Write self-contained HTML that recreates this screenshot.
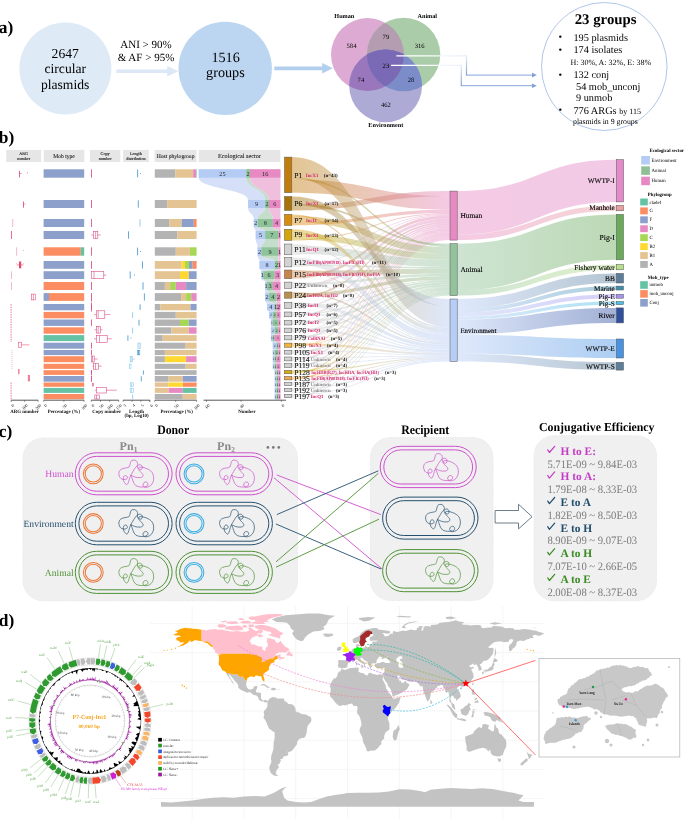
<!DOCTYPE html>
<html><head><meta charset="utf-8"><title>Figure</title>
<style>html,body{margin:0;padding:0;background:#fff;} svg{display:block;}</style></head>
<body><svg width="685" height="819" viewBox="0 0 685 819" text-rendering="geometricPrecision">
<rect width="685" height="819" fill="#fff"/>
<text x="-1.20" y="33.10" font-size="17.4" fill="#000" text-anchor="start" font-weight="bold" font-family="'Liberation Serif', 'Times New Roman', serif" >a)</text>
<circle cx="65.4" cy="68.5" r="46" fill="#dfeaf7"/>
<text x="65.20" y="57.50" font-size="13.6" fill="#000" text-anchor="middle" font-weight="normal" font-family="'Liberation Serif', 'Times New Roman', serif" >2647</text>
<text x="65.30" y="73.30" font-size="13.6" fill="#000" text-anchor="middle" font-weight="normal" font-family="'Liberation Serif', 'Times New Roman', serif" >circular</text>
<text x="65.10" y="88.60" font-size="13.6" fill="#000" text-anchor="middle" font-weight="normal" font-family="'Liberation Serif', 'Times New Roman', serif" >plasmids</text>
<path d="M116.4 69.6 L167.2 69.6 L167.2 66.1 L178.3 71.35 L167.2 76.6 L167.2 73.1 L116.4 73.1 Z" fill="#dce8f6"/>
<text x="146.00" y="48.20" font-size="11" fill="#000" text-anchor="middle" font-weight="normal" font-family="'Liberation Serif', 'Times New Roman', serif" >ANI &gt; 90%</text>
<text x="146.00" y="61.20" font-size="11" fill="#000" text-anchor="middle" font-weight="normal" font-family="'Liberation Serif', 'Times New Roman', serif" >&amp; AF &gt; 95%</text>
<circle cx="225.2" cy="68.4" r="46.7" fill="#bcd6f1"/>
<text x="225.60" y="61.50" font-size="14.2" fill="#000" text-anchor="middle" font-weight="normal" font-family="'Liberation Serif', 'Times New Roman', serif" >1516</text>
<text x="225.40" y="76.90" font-size="14.2" fill="#000" text-anchor="middle" font-weight="normal" font-family="'Liberation Serif', 'Times New Roman', serif" >groups</text>
<path d="M274.3 66.4 L322.2 66.4 L322.2 62.9 L332.8 68.2 L322.2 73.5 L322.2 70.2 L274.3 70.2 Z" fill="#b3cfee"/>
<defs><clipPath id="cH"><circle cx="367.5" cy="54.6" r="36.5"/></clipPath><clipPath id="cA"><circle cx="403.6" cy="54.5" r="36.7"/></clipPath></defs>
<circle cx="367.5" cy="54.6" r="36.5" fill="#dcaad2"/>
<circle cx="403.6" cy="54.5" r="36.7" fill="#abcca9"/>
<circle cx="385.6" cy="85.8" r="36.4" fill="#aeaad6"/>
<circle cx="403.6" cy="54.5" r="36.7" fill="#b49db0" clip-path="url(#cH)"/>
<circle cx="385.6" cy="85.8" r="36.4" fill="#9a77bd" clip-path="url(#cH)"/>
<circle cx="385.6" cy="85.8" r="36.4" fill="#7b8cc8" clip-path="url(#cA)"/>
<g clip-path="url(#cH)"><circle cx="385.6" cy="85.8" r="36.4" fill="#7a6ab5" clip-path="url(#cA)"/></g>
<text x="344.30" y="17.80" font-size="6.2" fill="#000" text-anchor="middle" font-weight="bold" font-family="'Liberation Serif', 'Times New Roman', serif" >Human</text>
<text x="427.30" y="17.80" font-size="6.2" fill="#000" text-anchor="middle" font-weight="bold" font-family="'Liberation Serif', 'Times New Roman', serif" >Animal</text>
<text x="385.80" y="127.30" font-size="6.2" fill="#000" text-anchor="middle" font-weight="bold" font-family="'Liberation Serif', 'Times New Roman', serif" >Environment</text>
<text x="351.50" y="47.80" font-size="6.6" fill="#000" text-anchor="middle" font-weight="normal" font-family="'Liberation Serif', 'Times New Roman', serif" >584</text>
<text x="385.90" y="38.60" font-size="6.6" fill="#000" text-anchor="middle" font-weight="normal" font-family="'Liberation Serif', 'Times New Roman', serif" >79</text>
<text x="419.70" y="47.80" font-size="6.6" fill="#000" text-anchor="middle" font-weight="normal" font-family="'Liberation Serif', 'Times New Roman', serif" >316</text>
<text x="385.90" y="67.50" font-size="6.6" fill="#000" text-anchor="middle" font-weight="normal" font-family="'Liberation Serif', 'Times New Roman', serif" >23</text>
<text x="360.90" y="81.80" font-size="6.6" fill="#000" text-anchor="middle" font-weight="normal" font-family="'Liberation Serif', 'Times New Roman', serif" >74</text>
<text x="411.00" y="81.80" font-size="6.6" fill="#000" text-anchor="middle" font-weight="normal" font-family="'Liberation Serif', 'Times New Roman', serif" >28</text>
<text x="385.90" y="106.80" font-size="6.6" fill="#000" text-anchor="middle" font-weight="normal" font-family="'Liberation Serif', 'Times New Roman', serif" >462</text>
<defs><linearGradient id="lgh" gradientUnits="userSpaceOnUse" x1="420" y1="0" x2="466" y2="0"><stop offset="0" stop-color="#ffffff"/><stop offset="1" stop-color="#e6edf8"/></linearGradient><linearGradient id="lgv1" gradientUnits="userSpaceOnUse" x1="0" y1="56" x2="0" y2="75"><stop offset="0" stop-color="#e6edf8"/><stop offset="1" stop-color="#7f9fd6"/></linearGradient><linearGradient id="lgv2" gradientUnits="userSpaceOnUse" x1="0" y1="65" x2="0" y2="86"><stop offset="0" stop-color="#e6edf8"/><stop offset="1" stop-color="#7f9fd6"/></linearGradient></defs>
<path d="M396.3 55.9 L466.5 55.9" stroke="url(#lgh)" stroke-width="1.2" fill="none"/>
<path d="M391.1 65.4 L461.3 65.4" stroke="url(#lgh)" stroke-width="1.2" fill="none"/>
<path d="M466.5 55.3 L466.5 75.1" stroke="url(#lgv1)" stroke-width="1.2" fill="none"/>
<path d="M461.3 64.8 L461.3 85.7" stroke="url(#lgv2)" stroke-width="1.2" fill="none"/>
<path d="M465.9 75.1 L533 75.1" stroke="#86a5da" stroke-width="1" fill="none"/>
<path d="M460.7 85.7 L533 85.7" stroke="#86a5da" stroke-width="1" fill="none"/>
<path d="M536.8 75.1 L532 72.8 L532 77.4 Z" fill="#7f9fd6"/>
<path d="M536.8 85.7 L532 83.4 L532 88 Z" fill="#7f9fd6"/>
<ellipse cx="604.3" cy="66.5" rx="62.8" ry="64" fill="#fff" stroke="#a6bfe6" stroke-width="0.9"/>
<text x="605.60" y="24.20" font-size="14.8" fill="#000" text-anchor="middle" font-weight="bold" font-family="'Liberation Serif', 'Times New Roman', serif" >23 groups</text>
<text x="558.60" y="40.00" font-size="10.2" fill="#000" text-anchor="start" font-weight="normal" font-family="'Liberation Serif', 'Times New Roman', serif" >•</text>
<text x="573.40" y="40.80" font-size="10.3" fill="#000" text-anchor="start" font-weight="normal" font-family="'Liberation Serif', 'Times New Roman', serif" >195 plasmids</text>
<text x="558.60" y="52.60" font-size="10.2" fill="#000" text-anchor="start" font-weight="normal" font-family="'Liberation Serif', 'Times New Roman', serif" >•</text>
<text x="573.40" y="53.40" font-size="10.3" fill="#000" text-anchor="start" font-weight="normal" font-family="'Liberation Serif', 'Times New Roman', serif" >174 isolates</text>
<text x="558.60" y="77.60" font-size="10.2" fill="#000" text-anchor="start" font-weight="normal" font-family="'Liberation Serif', 'Times New Roman', serif" >•</text>
<text x="573.40" y="78.40" font-size="10.3" fill="#000" text-anchor="start" font-weight="normal" font-family="'Liberation Serif', 'Times New Roman', serif" >132 conj</text>
<text x="558.60" y="113.00" font-size="10.2" fill="#000" text-anchor="start" font-weight="normal" font-family="'Liberation Serif', 'Times New Roman', serif" >•</text>
<text x="573.40" y="113.80" font-size="10.3" fill="#000" text-anchor="start" font-weight="normal" font-family="'Liberation Serif', 'Times New Roman', serif" >776 ARGs <tspan font-size="8">by 115</tspan></text>
<text x="570.40" y="64.90" font-size="8.0" fill="#000" text-anchor="start" font-weight="normal" font-family="'Liberation Serif', 'Times New Roman', serif" >H: 30%, A: 32%, E: 38%</text>
<text x="576.00" y="89.60" font-size="10.3" fill="#000" text-anchor="start" font-weight="normal" font-family="'Liberation Serif', 'Times New Roman', serif" >54 mob_unconj</text>
<text x="576.00" y="101.10" font-size="10.3" fill="#000" text-anchor="start" font-weight="normal" font-family="'Liberation Serif', 'Times New Roman', serif" >9 unmob</text>
<text x="573.00" y="123.60" font-size="7.8" fill="#000" text-anchor="start" font-weight="normal" font-family="'Liberation Serif', 'Times New Roman', serif" >plasmids in 9 groups</text>
<text x="-1.20" y="436.60" font-size="17.4" fill="#000" text-anchor="start" font-weight="bold" font-family="'Liberation Serif', 'Times New Roman', serif" >c)</text>
<text x="173.20" y="434.00" font-size="13" fill="#000" text-anchor="middle" font-weight="bold" font-family="'Liberation Serif', 'Times New Roman', serif"  textLength="32.1" lengthAdjust="spacingAndGlyphs">Donor</text>
<text x="425.20" y="434.30" font-size="13" fill="#000" text-anchor="middle" font-weight="bold" font-family="'Liberation Serif', 'Times New Roman', serif"  textLength="48" lengthAdjust="spacingAndGlyphs">Recipient</text>
<text x="596.80" y="431.30" font-size="12.2" fill="#000" text-anchor="middle" font-weight="bold" font-family="'Liberation Serif', 'Times New Roman', serif"  textLength="115.5" lengthAdjust="spacingAndGlyphs">Conjugative Efficiency</text>
<rect x="23" y="437.9" width="274.6" height="162.9" rx="20" fill="#f0f0f0" stroke="#e2e2e2" stroke-width="0.8" stroke-dasharray="1.2 1.2"/>
<rect x="370.4" y="437.5" width="122.6" height="162.9" rx="20" fill="#f0f0f0" stroke="#e2e2e2" stroke-width="0.8" stroke-dasharray="1.2 1.2"/>
<rect x="534.1" y="435.7" width="122.4" height="165.1" rx="20" fill="#f0f0f0" stroke="#e2e2e2" stroke-width="0.8" stroke-dasharray="1.2 1.2"/>
<text x="128.50" y="449.50" font-size="12" fill="#8a8a8a" text-anchor="middle" font-weight="bold" font-family="'Liberation Serif', 'Times New Roman', serif" >Pn<tspan font-size="7.5" dy="2.5">1</tspan></text>
<text x="226.00" y="449.50" font-size="12" fill="#8a8a8a" text-anchor="middle" font-weight="bold" font-family="'Liberation Serif', 'Times New Roman', serif" >Pn<tspan font-size="7.5" dy="2.5">2</tspan></text>
<circle cx="267.9" cy="447.4" r="1.35" fill="#7a7a7a"/>
<circle cx="273.3" cy="447.4" r="1.35" fill="#7a7a7a"/>
<circle cx="278.8" cy="447.4" r="1.35" fill="#7a7a7a"/>
<rect x="75.3" y="452.8" width="96.8" height="42.0" rx="21.0" fill="none" stroke="#cf4fcf" stroke-width="1"/>
<rect x="78.89999999999999" y="456.40000000000003" width="89.6" height="34.8" rx="17.4" fill="none" stroke="#cf4fcf" stroke-width="1"/>
<circle cx="93.3" cy="473.8" r="9.9" fill="none" stroke="#ec7a3c" stroke-width="1.05"/>
<circle cx="93.3" cy="473.8" r="8.1" fill="none" stroke="#ec7a3c" stroke-width="1.05"/>
<path d="M13 16 C16 11, 18 7, 20 6.5 C22 4.5, 25 6, 24.5 9 C24 11.5, 20.5 11, 21 8.5 C22 7, 30 9, 33 12 C37 15, 37 24, 32 27 C28 29.5, 24 28, 25.5 24.5 C27 21.5, 31 23, 30 26 C29 28.5, 21 28.5, 18 26.5 C15 24, 15 20, 13 16 C11 20, 11 25, 9 25.5 C7 25, 4.5 21, 6 17.5 C7 15.5, 10 16.5, 9.5 19 C9 21, 4 21, 2.4 18.7 C0 15, 1 11, 4 9.9 C7 8.5, 10 9, 11.3 7.9 C13 5, 12 1.2, 15.3 1 C18.5 0.8, 20.5 3, 19.6 6.5 C19 9, 22 12, 24 14 C26 16, 26 18, 22.5 18.5 C18 19, 15 17, 13 16 Z" transform="translate(117.8,459.1)" fill="none" stroke="#cf4fcf" stroke-width="0.7" stroke-linejoin="round"/>
<rect x="176" y="452.8" width="96.39999999999998" height="42.0" rx="21.0" fill="none" stroke="#cf4fcf" stroke-width="1"/>
<rect x="179.6" y="456.40000000000003" width="89.19999999999997" height="34.8" rx="17.4" fill="none" stroke="#cf4fcf" stroke-width="1"/>
<circle cx="194" cy="473.8" r="9.9" fill="none" stroke="#3eaee4" stroke-width="1.05"/>
<circle cx="194" cy="473.8" r="8.1" fill="none" stroke="#3eaee4" stroke-width="1.05"/>
<path d="M13 16 C16 11, 18 7, 20 6.5 C22 4.5, 25 6, 24.5 9 C24 11.5, 20.5 11, 21 8.5 C22 7, 30 9, 33 12 C37 15, 37 24, 32 27 C28 29.5, 24 28, 25.5 24.5 C27 21.5, 31 23, 30 26 C29 28.5, 21 28.5, 18 26.5 C15 24, 15 20, 13 16 C11 20, 11 25, 9 25.5 C7 25, 4.5 21, 6 17.5 C7 15.5, 10 16.5, 9.5 19 C9 21, 4 21, 2.4 18.7 C0 15, 1 11, 4 9.9 C7 8.5, 10 9, 11.3 7.9 C13 5, 12 1.2, 15.3 1 C18.5 0.8, 20.5 3, 19.6 6.5 C19 9, 22 12, 24 14 C26 16, 26 18, 22.5 18.5 C18 19, 15 17, 13 16 Z" transform="translate(218.5,459.1)" fill="none" stroke="#cf4fcf" stroke-width="0.7" stroke-linejoin="round"/>
<text x="73.60" y="477.10" font-size="9.6" fill="#cf4fcf" text-anchor="end" font-weight="normal" font-family="'Liberation Serif', 'Times New Roman', serif" >Human</text>
<rect x="75.3" y="502.3" width="96.8" height="42.49999999999994" rx="21.24999999999997" fill="none" stroke="#25506f" stroke-width="1"/>
<rect x="78.89999999999999" y="505.90000000000003" width="89.6" height="35.29999999999994" rx="17.64999999999997" fill="none" stroke="#25506f" stroke-width="1"/>
<circle cx="93.3" cy="523.55" r="9.9" fill="none" stroke="#ec7a3c" stroke-width="1.05"/>
<circle cx="93.3" cy="523.55" r="8.1" fill="none" stroke="#ec7a3c" stroke-width="1.05"/>
<path d="M13 16 C16 11, 18 7, 20 6.5 C22 4.5, 25 6, 24.5 9 C24 11.5, 20.5 11, 21 8.5 C22 7, 30 9, 33 12 C37 15, 37 24, 32 27 C28 29.5, 24 28, 25.5 24.5 C27 21.5, 31 23, 30 26 C29 28.5, 21 28.5, 18 26.5 C15 24, 15 20, 13 16 C11 20, 11 25, 9 25.5 C7 25, 4.5 21, 6 17.5 C7 15.5, 10 16.5, 9.5 19 C9 21, 4 21, 2.4 18.7 C0 15, 1 11, 4 9.9 C7 8.5, 10 9, 11.3 7.9 C13 5, 12 1.2, 15.3 1 C18.5 0.8, 20.5 3, 19.6 6.5 C19 9, 22 12, 24 14 C26 16, 26 18, 22.5 18.5 C18 19, 15 17, 13 16 Z" transform="translate(117.8,508.6)" fill="none" stroke="#25506f" stroke-width="0.7" stroke-linejoin="round"/>
<rect x="176" y="502.3" width="96.39999999999998" height="42.49999999999994" rx="21.24999999999997" fill="none" stroke="#25506f" stroke-width="1"/>
<rect x="179.6" y="505.90000000000003" width="89.19999999999997" height="35.29999999999994" rx="17.64999999999997" fill="none" stroke="#25506f" stroke-width="1"/>
<circle cx="194" cy="523.55" r="9.9" fill="none" stroke="#3eaee4" stroke-width="1.05"/>
<circle cx="194" cy="523.55" r="8.1" fill="none" stroke="#3eaee4" stroke-width="1.05"/>
<path d="M13 16 C16 11, 18 7, 20 6.5 C22 4.5, 25 6, 24.5 9 C24 11.5, 20.5 11, 21 8.5 C22 7, 30 9, 33 12 C37 15, 37 24, 32 27 C28 29.5, 24 28, 25.5 24.5 C27 21.5, 31 23, 30 26 C29 28.5, 21 28.5, 18 26.5 C15 24, 15 20, 13 16 C11 20, 11 25, 9 25.5 C7 25, 4.5 21, 6 17.5 C7 15.5, 10 16.5, 9.5 19 C9 21, 4 21, 2.4 18.7 C0 15, 1 11, 4 9.9 C7 8.5, 10 9, 11.3 7.9 C13 5, 12 1.2, 15.3 1 C18.5 0.8, 20.5 3, 19.6 6.5 C19 9, 22 12, 24 14 C26 16, 26 18, 22.5 18.5 C18 19, 15 17, 13 16 Z" transform="translate(218.5,508.6)" fill="none" stroke="#25506f" stroke-width="0.7" stroke-linejoin="round"/>
<text x="73.60" y="526.85" font-size="9.6" fill="#25506f" text-anchor="end" font-weight="normal" font-family="'Liberation Serif', 'Times New Roman', serif" >Environment</text>
<rect x="75.3" y="551.3" width="96.8" height="42.10000000000002" rx="21.05000000000001" fill="none" stroke="#4e9236" stroke-width="1"/>
<rect x="78.89999999999999" y="554.9" width="89.6" height="34.90000000000002" rx="17.45000000000001" fill="none" stroke="#4e9236" stroke-width="1"/>
<circle cx="93.3" cy="572.3499999999999" r="9.9" fill="none" stroke="#ec7a3c" stroke-width="1.05"/>
<circle cx="93.3" cy="572.3499999999999" r="8.1" fill="none" stroke="#ec7a3c" stroke-width="1.05"/>
<path d="M13 16 C16 11, 18 7, 20 6.5 C22 4.5, 25 6, 24.5 9 C24 11.5, 20.5 11, 21 8.5 C22 7, 30 9, 33 12 C37 15, 37 24, 32 27 C28 29.5, 24 28, 25.5 24.5 C27 21.5, 31 23, 30 26 C29 28.5, 21 28.5, 18 26.5 C15 24, 15 20, 13 16 C11 20, 11 25, 9 25.5 C7 25, 4.5 21, 6 17.5 C7 15.5, 10 16.5, 9.5 19 C9 21, 4 21, 2.4 18.7 C0 15, 1 11, 4 9.9 C7 8.5, 10 9, 11.3 7.9 C13 5, 12 1.2, 15.3 1 C18.5 0.8, 20.5 3, 19.6 6.5 C19 9, 22 12, 24 14 C26 16, 26 18, 22.5 18.5 C18 19, 15 17, 13 16 Z" transform="translate(117.8,557.5999999999999)" fill="none" stroke="#4e9236" stroke-width="0.7" stroke-linejoin="round"/>
<rect x="176" y="551.3" width="96.39999999999998" height="42.10000000000002" rx="21.05000000000001" fill="none" stroke="#4e9236" stroke-width="1"/>
<rect x="179.6" y="554.9" width="89.19999999999997" height="34.90000000000002" rx="17.45000000000001" fill="none" stroke="#4e9236" stroke-width="1"/>
<circle cx="194" cy="572.3499999999999" r="9.9" fill="none" stroke="#3eaee4" stroke-width="1.05"/>
<circle cx="194" cy="572.3499999999999" r="8.1" fill="none" stroke="#3eaee4" stroke-width="1.05"/>
<path d="M13 16 C16 11, 18 7, 20 6.5 C22 4.5, 25 6, 24.5 9 C24 11.5, 20.5 11, 21 8.5 C22 7, 30 9, 33 12 C37 15, 37 24, 32 27 C28 29.5, 24 28, 25.5 24.5 C27 21.5, 31 23, 30 26 C29 28.5, 21 28.5, 18 26.5 C15 24, 15 20, 13 16 C11 20, 11 25, 9 25.5 C7 25, 4.5 21, 6 17.5 C7 15.5, 10 16.5, 9.5 19 C9 21, 4 21, 2.4 18.7 C0 15, 1 11, 4 9.9 C7 8.5, 10 9, 11.3 7.9 C13 5, 12 1.2, 15.3 1 C18.5 0.8, 20.5 3, 19.6 6.5 C19 9, 22 12, 24 14 C26 16, 26 18, 22.5 18.5 C18 19, 15 17, 13 16 Z" transform="translate(218.5,557.5999999999999)" fill="none" stroke="#4e9236" stroke-width="0.7" stroke-linejoin="round"/>
<text x="73.60" y="575.65" font-size="9.6" fill="#4e9236" text-anchor="end" font-weight="normal" font-family="'Liberation Serif', 'Times New Roman', serif" >Animal</text>
<rect x="380.2" y="446.3" width="96.0" height="41.30000000000001" rx="20.650000000000006" fill="none" stroke="#cf4fcf" stroke-width="1"/>
<rect x="383.8" y="449.90000000000003" width="88.8" height="34.10000000000001" rx="17.050000000000004" fill="none" stroke="#cf4fcf" stroke-width="1"/>
<path d="M13 16 C16 11, 18 7, 20 6.5 C22 4.5, 25 6, 24.5 9 C24 11.5, 20.5 11, 21 8.5 C22 7, 30 9, 33 12 C37 15, 37 24, 32 27 C28 29.5, 24 28, 25.5 24.5 C27 21.5, 31 23, 30 26 C29 28.5, 21 28.5, 18 26.5 C15 24, 15 20, 13 16 C11 20, 11 25, 9 25.5 C7 25, 4.5 21, 6 17.5 C7 15.5, 10 16.5, 9.5 19 C9 21, 4 21, 2.4 18.7 C0 15, 1 11, 4 9.9 C7 8.5, 10 9, 11.3 7.9 C13 5, 12 1.2, 15.3 1 C18.5 0.8, 20.5 3, 19.6 6.5 C19 9, 22 12, 24 14 C26 16, 26 18, 22.5 18.5 C18 19, 15 17, 13 16 Z" transform="translate(422.5,452.6)" fill="none" stroke="#cf4fcf" stroke-width="0.7" stroke-linejoin="round"/>
<rect x="382.6" y="497.1" width="95.39999999999998" height="42.0" rx="21.0" fill="none" stroke="#25506f" stroke-width="1"/>
<rect x="386.20000000000005" y="500.70000000000005" width="88.19999999999997" height="34.8" rx="17.4" fill="none" stroke="#25506f" stroke-width="1"/>
<path d="M13 16 C16 11, 18 7, 20 6.5 C22 4.5, 25 6, 24.5 9 C24 11.5, 20.5 11, 21 8.5 C22 7, 30 9, 33 12 C37 15, 37 24, 32 27 C28 29.5, 24 28, 25.5 24.5 C27 21.5, 31 23, 30 26 C29 28.5, 21 28.5, 18 26.5 C15 24, 15 20, 13 16 C11 20, 11 25, 9 25.5 C7 25, 4.5 21, 6 17.5 C7 15.5, 10 16.5, 9.5 19 C9 21, 4 21, 2.4 18.7 C0 15, 1 11, 4 9.9 C7 8.5, 10 9, 11.3 7.9 C13 5, 12 1.2, 15.3 1 C18.5 0.8, 20.5 3, 19.6 6.5 C19 9, 22 12, 24 14 C26 16, 26 18, 22.5 18.5 C18 19, 15 17, 13 16 Z" transform="translate(424.5,503.40000000000003)" fill="none" stroke="#25506f" stroke-width="0.7" stroke-linejoin="round"/>
<rect x="382.6" y="549.6" width="95.39999999999998" height="42.10000000000002" rx="21.05000000000001" fill="none" stroke="#4e9236" stroke-width="1"/>
<rect x="386.20000000000005" y="553.2" width="88.19999999999997" height="34.90000000000002" rx="17.45000000000001" fill="none" stroke="#4e9236" stroke-width="1"/>
<path d="M13 16 C16 11, 18 7, 20 6.5 C22 4.5, 25 6, 24.5 9 C24 11.5, 20.5 11, 21 8.5 C22 7, 30 9, 33 12 C37 15, 37 24, 32 27 C28 29.5, 24 28, 25.5 24.5 C27 21.5, 31 23, 30 26 C29 28.5, 21 28.5, 18 26.5 C15 24, 15 20, 13 16 C11 20, 11 25, 9 25.5 C7 25, 4.5 21, 6 17.5 C7 15.5, 10 16.5, 9.5 19 C9 21, 4 21, 2.4 18.7 C0 15, 1 11, 4 9.9 C7 8.5, 10 9, 11.3 7.9 C13 5, 12 1.2, 15.3 1 C18.5 0.8, 20.5 3, 19.6 6.5 C19 9, 22 12, 24 14 C26 16, 26 18, 22.5 18.5 C18 19, 15 17, 13 16 Z" transform="translate(424.5,555.9)" fill="none" stroke="#4e9236" stroke-width="0.7" stroke-linejoin="round"/>
<line x1="276.8" y1="475" x2="380.9" y2="514.6" stroke="#cf4fcf" stroke-width="0.9"/>
<line x1="274" y1="477.8" x2="382" y2="568.9" stroke="#cf4fcf" stroke-width="0.9"/>
<line x1="276.8" y1="514.6" x2="378.4" y2="470.8" stroke="#25506f" stroke-width="0.9"/>
<line x1="276" y1="524" x2="381" y2="569" stroke="#25506f" stroke-width="0.9"/>
<line x1="276" y1="561.9" x2="378.4" y2="473.3" stroke="#4e9236" stroke-width="0.9"/>
<line x1="276" y1="567.2" x2="379" y2="519.2" stroke="#4e9236" stroke-width="0.9"/>
<path d="M495.1 510.5 L518.5 510.5 L518.5 504.3 L532.1 516.7 L518.5 528.9 L518.5 523 L495.1 523 Z" fill="#fff" stroke="#5f6f7e" stroke-width="0.9"/>
<path d="M547.7 449.90 L549.4 452.50 L554.7 446.30" fill="none" stroke="#c43cc4" stroke-width="1.2" stroke-linecap="round" stroke-linejoin="round"/>
<text x="560.50" y="454.70" font-size="11.4" fill="#c43cc4" text-anchor="start" font-weight="bold" font-family="'Liberation Serif', 'Times New Roman', serif" >H to E:</text>
<text x="547.40" y="467.50" font-size="11.3" fill="#7a7a7a" text-anchor="start" font-weight="normal" font-family="'Liberation Serif', 'Times New Roman', serif"  textLength="89.7" lengthAdjust="spacingAndGlyphs">5.71E-09 ~ 9.84E-03</text>
<path d="M547.7 475.50 L549.4 478.10 L554.7 471.90" fill="none" stroke="#c43cc4" stroke-width="1.2" stroke-linecap="round" stroke-linejoin="round"/>
<text x="560.50" y="480.30" font-size="11.4" fill="#c43cc4" text-anchor="start" font-weight="bold" font-family="'Liberation Serif', 'Times New Roman', serif" >H to A:</text>
<text x="547.40" y="493.10" font-size="11.3" fill="#7a7a7a" text-anchor="start" font-weight="normal" font-family="'Liberation Serif', 'Times New Roman', serif"  textLength="89.7" lengthAdjust="spacingAndGlyphs">1.79E-08 ~ 8.33E-03</text>
<path d="M547.7 501.10 L549.4 503.70 L554.7 497.50" fill="none" stroke="#1f4d6b" stroke-width="1.2" stroke-linecap="round" stroke-linejoin="round"/>
<text x="560.50" y="505.90" font-size="11.4" fill="#1f4d6b" text-anchor="start" font-weight="bold" font-family="'Liberation Serif', 'Times New Roman', serif" >E to A</text>
<text x="547.40" y="518.70" font-size="11.3" fill="#7a7a7a" text-anchor="start" font-weight="normal" font-family="'Liberation Serif', 'Times New Roman', serif"  textLength="89.7" lengthAdjust="spacingAndGlyphs">1.82E-09 ~ 8.50E-03</text>
<path d="M547.7 526.70 L549.4 529.30 L554.7 523.10" fill="none" stroke="#1f4d6b" stroke-width="1.2" stroke-linecap="round" stroke-linejoin="round"/>
<text x="560.50" y="531.50" font-size="11.4" fill="#1f4d6b" text-anchor="start" font-weight="bold" font-family="'Liberation Serif', 'Times New Roman', serif" >E to H</text>
<text x="547.40" y="544.30" font-size="11.3" fill="#7a7a7a" text-anchor="start" font-weight="normal" font-family="'Liberation Serif', 'Times New Roman', serif"  textLength="89.7" lengthAdjust="spacingAndGlyphs">8.90E-09 ~ 9.07E-03</text>
<path d="M547.7 552.30 L549.4 554.90 L554.7 548.70" fill="none" stroke="#3b8a25" stroke-width="1.2" stroke-linecap="round" stroke-linejoin="round"/>
<text x="560.50" y="557.10" font-size="11.4" fill="#3b8a25" text-anchor="start" font-weight="bold" font-family="'Liberation Serif', 'Times New Roman', serif" >A to H</text>
<text x="547.40" y="569.90" font-size="11.3" fill="#7a7a7a" text-anchor="start" font-weight="normal" font-family="'Liberation Serif', 'Times New Roman', serif"  textLength="89.7" lengthAdjust="spacingAndGlyphs">7.07E-10 ~ 2.66E-05</text>
<path d="M547.7 577.90 L549.4 580.50 L554.7 574.30" fill="none" stroke="#3b8a25" stroke-width="1.2" stroke-linecap="round" stroke-linejoin="round"/>
<text x="560.50" y="582.70" font-size="11.4" fill="#3b8a25" text-anchor="start" font-weight="bold" font-family="'Liberation Serif', 'Times New Roman', serif" >A to E</text>
<text x="547.40" y="595.50" font-size="11.3" fill="#7a7a7a" text-anchor="start" font-weight="normal" font-family="'Liberation Serif', 'Times New Roman', serif"  textLength="89.7" lengthAdjust="spacingAndGlyphs">2.00E-08 ~ 8.37E-03</text>
<text x="-1.20" y="142.80" font-size="17.4" fill="#000" text-anchor="start" font-weight="bold" font-family="'Liberation Serif', 'Times New Roman', serif" >b)</text>
<rect x="6.3" y="149.9" width="34.8" height="12.1" fill="#e6e6e6"/>
<text x="23.70" y="155.40" font-size="4.2" fill="#222" text-anchor="middle" font-weight="normal" font-family="'Liberation Serif', 'Times New Roman', serif" stroke="#222" stroke-width="0.1">ARG</text>
<text x="23.70" y="160.20" font-size="4.2" fill="#222" text-anchor="middle" font-weight="normal" font-family="'Liberation Serif', 'Times New Roman', serif" stroke="#222" stroke-width="0.1">number</text>
<rect x="43.7" y="149.9" width="40.6" height="12.1" fill="#e6e6e6"/>
<text x="64.00" y="157.60" font-size="5.6" fill="#222" text-anchor="middle" font-weight="normal" font-family="'Liberation Serif', 'Times New Roman', serif" stroke="#222" stroke-width="0.1">Mob type</text>
<rect x="90" y="149.9" width="30.3" height="12.1" fill="#e6e6e6"/>
<text x="105.15" y="155.40" font-size="4.2" fill="#222" text-anchor="middle" font-weight="normal" font-family="'Liberation Serif', 'Times New Roman', serif" stroke="#222" stroke-width="0.1">Copy</text>
<text x="105.15" y="160.20" font-size="4.2" fill="#222" text-anchor="middle" font-weight="normal" font-family="'Liberation Serif', 'Times New Roman', serif" stroke="#222" stroke-width="0.1">number</text>
<rect x="123.1" y="149.9" width="25.7" height="12.1" fill="#e6e6e6"/>
<text x="135.95" y="155.40" font-size="4.2" fill="#222" text-anchor="middle" font-weight="normal" font-family="'Liberation Serif', 'Times New Roman', serif" stroke="#222" stroke-width="0.1">Length</text>
<text x="135.95" y="160.20" font-size="4.2" fill="#222" text-anchor="middle" font-weight="normal" font-family="'Liberation Serif', 'Times New Roman', serif" stroke="#222" stroke-width="0.1">distribution</text>
<rect x="154.6" y="149.9" width="42.0" height="12.1" fill="#e6e6e6"/>
<text x="175.60" y="157.60" font-size="5.6" fill="#222" text-anchor="middle" font-weight="normal" font-family="'Liberation Serif', 'Times New Roman', serif" stroke="#222" stroke-width="0.1">Host phylogroup</text>
<rect x="198.6" y="149.9" width="81.7" height="12.1" fill="#e6e6e6"/>
<text x="239.45" y="157.60" font-size="6.2" fill="#222" text-anchor="middle" font-weight="normal" font-family="'Liberation Serif', 'Times New Roman', serif" stroke="#222" stroke-width="0.1">Ecological sector</text>
<rect x="43.60" y="169.3" width="40.60" height="8.40" fill="#8da0cb"/>
<rect x="154.80" y="169.3" width="20.40" height="8.40" fill="#b3b3b3"/>
<rect x="175.20" y="169.3" width="17.90" height="8.40" fill="#e5c494"/>
<rect x="193.10" y="169.3" width="2.90" height="8.40" fill="#e78ac3"/>
<rect x="196.00" y="169.3" width="0.60" height="8.40" fill="#66c2a5"/>
<rect x="43.60" y="200" width="40.60" height="8.00" fill="#8da0cb"/>
<rect x="154.80" y="200" width="12.30" height="8.00" fill="#b3b3b3"/>
<rect x="167.10" y="200" width="29.50" height="8.00" fill="#e5c494"/>
<rect x="43.60" y="219" width="40.60" height="8.00" fill="#8da0cb"/>
<rect x="154.80" y="219" width="14.50" height="8.00" fill="#b3b3b3"/>
<rect x="169.30" y="219" width="12.40" height="8.00" fill="#e5c494"/>
<rect x="181.70" y="219" width="12.10" height="8.00" fill="#8da0cb"/>
<rect x="193.80" y="219" width="2.80" height="8.00" fill="#fc8d62"/>
<rect x="43.60" y="231" width="40.60" height="8.00" fill="#8da0cb"/>
<rect x="154.80" y="231" width="22.60" height="8.00" fill="#b3b3b3"/>
<rect x="177.40" y="231" width="19.20" height="8.00" fill="#e5c494"/>
<rect x="43.60" y="247.3" width="37.20" height="8.40" fill="#fc8d62"/>
<rect x="80.80" y="247.3" width="3.40" height="8.40" fill="#66c2a5"/>
<rect x="154.80" y="247.3" width="21.00" height="8.40" fill="#b3b3b3"/>
<rect x="175.80" y="247.3" width="14.10" height="8.40" fill="#e5c494"/>
<rect x="189.90" y="247.3" width="6.70" height="8.40" fill="#a6d854"/>
<rect x="43.60" y="261" width="40.60" height="7.80" fill="#8da0cb"/>
<rect x="154.80" y="261" width="26.90" height="7.80" fill="#e5c494"/>
<rect x="181.70" y="261" width="3.30" height="7.80" fill="#ffd92f"/>
<rect x="185.00" y="261" width="4.00" height="7.80" fill="#a6d854"/>
<rect x="189.00" y="261" width="3.70" height="7.80" fill="#8da0cb"/>
<rect x="192.70" y="261" width="3.90" height="7.80" fill="#fc8d62"/>
<rect x="43.60" y="271.2" width="40.60" height="7.80" fill="#8da0cb"/>
<rect x="154.80" y="271.2" width="25.20" height="7.80" fill="#e5c494"/>
<rect x="180.00" y="271.2" width="8.80" height="7.80" fill="#ffd92f"/>
<rect x="188.80" y="271.2" width="7.80" height="7.80" fill="#8da0cb"/>
<rect x="43.60" y="282" width="40.60" height="8.00" fill="#fc8d62"/>
<rect x="154.80" y="282" width="10.10" height="8.00" fill="#b3b3b3"/>
<rect x="164.90" y="282" width="5.20" height="8.00" fill="#e5c494"/>
<rect x="170.10" y="282" width="5.70" height="8.00" fill="#a6d854"/>
<rect x="175.80" y="282" width="10.30" height="8.00" fill="#e78ac3"/>
<rect x="186.10" y="282" width="10.50" height="8.00" fill="#8da0cb"/>
<rect x="43.60" y="293.1" width="5.40" height="7.80" fill="#8da0cb"/>
<rect x="49.00" y="293.1" width="35.20" height="7.80" fill="#fc8d62"/>
<rect x="154.80" y="293.1" width="26.30" height="7.80" fill="#b3b3b3"/>
<rect x="181.10" y="293.1" width="5.00" height="7.80" fill="#e5c494"/>
<rect x="186.10" y="293.1" width="5.10" height="7.80" fill="#a6d854"/>
<rect x="191.20" y="293.1" width="5.40" height="7.80" fill="#e78ac3"/>
<rect x="43.60" y="304" width="40.60" height="6.30" fill="#8da0cb"/>
<rect x="154.80" y="304" width="5.70" height="6.30" fill="#b3b3b3"/>
<rect x="160.50" y="304" width="30.00" height="6.30" fill="#e5c494"/>
<rect x="190.50" y="304" width="6.10" height="6.30" fill="#8da0cb"/>
<rect x="43.60" y="311.9" width="40.60" height="6.40" fill="#fc8d62"/>
<rect x="154.80" y="311.9" width="21.00" height="6.40" fill="#b3b3b3"/>
<rect x="175.80" y="311.9" width="20.80" height="6.40" fill="#e5c494"/>
<rect x="43.60" y="319.5" width="40.60" height="6.40" fill="#8da0cb"/>
<rect x="154.80" y="319.5" width="25.20" height="6.40" fill="#b3b3b3"/>
<rect x="180.00" y="319.5" width="8.80" height="6.40" fill="#a6d854"/>
<rect x="188.80" y="319.5" width="7.80" height="6.40" fill="#8da0cb"/>
<rect x="43.60" y="327.3" width="40.60" height="6.40" fill="#fc8d62"/>
<rect x="154.80" y="327.3" width="16.70" height="6.40" fill="#b3b3b3"/>
<rect x="171.50" y="327.3" width="17.30" height="6.40" fill="#e5c494"/>
<rect x="188.80" y="327.3" width="7.80" height="6.40" fill="#e78ac3"/>
<rect x="43.60" y="335.1" width="40.60" height="6.00" fill="#66c2a5"/>
<rect x="154.80" y="335.1" width="7.90" height="6.00" fill="#b3b3b3"/>
<rect x="162.70" y="335.1" width="33.90" height="6.00" fill="#e5c494"/>
<rect x="43.60" y="342.7" width="40.60" height="6.00" fill="#8da0cb"/>
<rect x="154.80" y="342.7" width="30.90" height="6.00" fill="#b3b3b3"/>
<rect x="185.70" y="342.7" width="10.90" height="6.00" fill="#e5c494"/>
<rect x="43.60" y="350" width="40.60" height="5.10" fill="#8da0cb"/>
<rect x="154.80" y="350" width="10.10" height="5.10" fill="#b3b3b3"/>
<rect x="164.90" y="350" width="31.70" height="5.10" fill="#e5c494"/>
<rect x="43.60" y="356.2" width="40.60" height="6.00" fill="#fc8d62"/>
<rect x="154.80" y="356.2" width="10.10" height="6.00" fill="#b3b3b3"/>
<rect x="164.90" y="356.2" width="21.20" height="6.00" fill="#ffd92f"/>
<rect x="186.10" y="356.2" width="10.50" height="6.00" fill="#e78ac3"/>
<rect x="43.60" y="363.8" width="40.60" height="5.10" fill="#fc8d62"/>
<rect x="154.80" y="363.8" width="30.90" height="5.10" fill="#b3b3b3"/>
<rect x="185.70" y="363.8" width="10.90" height="5.10" fill="#e5c494"/>
<rect x="43.60" y="370.2" width="40.60" height="4.70" fill="#fc8d62"/>
<rect x="154.80" y="370.2" width="41.80" height="4.70" fill="#b3b3b3"/>
<rect x="43.60" y="376" width="40.60" height="5.70" fill="#8da0cb"/>
<rect x="154.80" y="376" width="13.80" height="5.70" fill="#b3b3b3"/>
<rect x="168.60" y="376" width="14.20" height="5.70" fill="#e5c494"/>
<rect x="182.80" y="376" width="13.80" height="5.70" fill="#8da0cb"/>
<rect x="43.60" y="382.5" width="40.60" height="4.30" fill="#fc8d62"/>
<rect x="154.80" y="382.5" width="13.80" height="4.30" fill="#e5c494"/>
<rect x="168.60" y="382.5" width="14.20" height="4.30" fill="#ffd92f"/>
<rect x="182.80" y="382.5" width="13.80" height="4.30" fill="#fc8d62"/>
<rect x="43.60" y="387.9" width="40.60" height="5.00" fill="#66c2a5"/>
<rect x="154.80" y="387.9" width="13.80" height="5.00" fill="#e5c494"/>
<rect x="168.60" y="387.9" width="14.20" height="5.00" fill="#e78ac3"/>
<rect x="182.80" y="387.9" width="13.80" height="5.00" fill="#66c2a5"/>
<rect x="43.60" y="394" width="40.60" height="5.20" fill="#fc8d62"/>
<rect x="154.80" y="394" width="28.00" height="5.20" fill="#b3b3b3"/>
<rect x="182.80" y="394" width="13.80" height="5.20" fill="#e5c494"/>
<path d="M198.70 169.3 L198.70 177.7 C198.70 188.85 248.10 188.85 248.10 200 L248.10 208 C248.10 213.50 253.80 213.50 253.80 219 L253.80 227 C253.80 229.00 255.70 229.00 255.70 231 L255.70 239 C255.70 243.15 257.60 243.15 257.60 247.3 L257.60 255.7 C257.60 258.35 259.50 258.35 259.50 261 L259.50 268.8 C259.50 270.00 261.40 270.00 261.40 271.2 L261.40 279 C261.40 280.50 265.20 280.50 265.20 282 L265.20 290 C265.20 291.55 265.20 291.55 265.20 293.1 L265.20 300.9 C265.20 302.45 267.10 302.45 267.10 304 L267.10 310.3 C267.10 311.10 269.00 311.10 269.00 311.9 L269.00 318.3 C269.00 318.90 270.90 318.90 270.90 319.5 L270.90 325.9 C270.90 326.60 270.90 326.60 270.90 327.3 L270.90 333.7 C270.90 334.40 270.90 334.40 270.90 335.1 L270.90 341.1 C270.90 341.90 272.80 341.90 272.80 342.7 L272.80 348.7 C272.80 349.35 272.80 349.35 272.80 350 L272.80 355.1 C272.80 355.65 272.80 355.65 272.80 356.2 L272.80 362.2 C272.80 363.00 272.80 363.00 272.80 363.8 L272.80 368.9 C272.80 369.55 274.70 369.55 274.70 370.2 L274.70 374.9 C274.70 375.45 274.70 375.45 274.70 376 L274.70 381.7 C274.70 382.10 274.70 382.10 274.70 382.5 L274.70 386.8 C274.70 387.35 274.70 387.35 274.70 387.9 L274.70 392.9 C274.70 393.45 274.70 393.45 274.70 394 L274.70 399.2 L276.60 399.2 L276.60 394 C276.60 393.45 276.60 393.45 276.60 392.9 L276.60 387.9 C276.60 387.35 276.60 387.35 276.60 386.8 L276.60 382.5 C276.60 382.10 276.60 382.10 276.60 381.7 L276.60 376 C276.60 375.45 276.60 375.45 276.60 374.9 L276.60 370.2 C276.60 369.55 274.70 369.55 274.70 368.9 L274.70 363.8 C274.70 363.00 274.70 363.00 274.70 362.2 L274.70 356.2 C274.70 355.65 274.70 355.65 274.70 355.1 L274.70 350 C274.70 349.35 276.60 349.35 276.60 348.7 L276.60 342.7 C276.60 341.90 272.80 341.90 272.80 341.1 L272.80 335.1 C272.80 334.40 274.70 334.40 274.70 333.7 L274.70 327.3 C274.70 326.60 272.80 326.60 272.80 325.9 L272.80 319.5 C272.80 318.90 272.80 318.90 272.80 318.3 L272.80 311.9 C272.80 311.10 274.70 311.10 274.70 310.3 L274.70 304 C274.70 302.45 269.00 302.45 269.00 300.9 L269.00 293.1 C269.00 291.55 267.10 291.55 267.10 290 L267.10 282 C267.10 280.50 263.30 280.50 263.30 279 L263.30 271.2 C263.30 270.00 274.70 270.00 274.70 268.8 L274.70 261 C274.70 258.35 261.40 258.35 261.40 255.7 L261.40 247.3 C261.40 243.15 265.20 243.15 265.20 239 L265.20 231 C265.20 229.00 257.60 229.00 257.60 227 L257.60 219 C257.60 213.50 265.20 213.50 265.20 208 L265.20 200 C265.20 188.85 246.20 188.85 246.20 177.7 L246.20 169.3 Z" fill="#d3def8" opacity="0.95"/>
<path d="M246.20 169.3 L246.20 177.7 C246.20 188.85 265.20 188.85 265.20 200 L265.20 208 C265.20 213.50 257.60 213.50 257.60 219 L257.60 227 C257.60 229.00 265.20 229.00 265.20 231 L265.20 239 C265.20 243.15 261.40 243.15 261.40 247.3 L261.40 255.7 C261.40 258.35 274.70 258.35 274.70 261 L274.70 268.8 C274.70 270.00 263.30 270.00 263.30 271.2 L263.30 279 C263.30 280.50 267.10 280.50 267.10 282 L267.10 290 C267.10 291.55 269.00 291.55 269.00 293.1 L269.00 300.9 C269.00 302.45 274.70 302.45 274.70 304 L274.70 310.3 C274.70 311.10 272.80 311.10 272.80 311.9 L272.80 318.3 C272.80 318.90 272.80 318.90 272.80 319.5 L272.80 325.9 C272.80 326.60 274.70 326.60 274.70 327.3 L274.70 333.7 C274.70 334.40 272.80 334.40 272.80 335.1 L272.80 341.1 C272.80 341.90 276.60 341.90 276.60 342.7 L276.60 348.7 C276.60 349.35 274.70 349.35 274.70 350 L274.70 355.1 C274.70 355.65 274.70 355.65 274.70 356.2 L274.70 362.2 C274.70 363.00 274.70 363.00 274.70 363.8 L274.70 368.9 C274.70 369.55 276.60 369.55 276.60 370.2 L276.60 374.9 C276.60 375.45 276.60 375.45 276.60 376 L276.60 381.7 C276.60 382.10 276.60 382.10 276.60 382.5 L276.60 386.8 C276.60 387.35 276.60 387.35 276.60 387.9 L276.60 392.9 C276.60 393.45 276.60 393.45 276.60 394 L276.60 399.2 L278.50 399.2 L278.50 394 C278.50 393.45 278.50 393.45 278.50 392.9 L278.50 387.9 C278.50 387.35 278.50 387.35 278.50 386.8 L278.50 382.5 C278.50 382.10 278.50 382.10 278.50 381.7 L278.50 376 C278.50 375.45 278.50 375.45 278.50 374.9 L278.50 370.2 C278.50 369.55 276.60 369.55 276.60 368.9 L276.60 363.8 C276.60 363.00 276.60 363.00 276.60 362.2 L276.60 356.2 C276.60 355.65 278.50 355.65 278.50 355.1 L278.50 350 C278.50 349.35 278.50 349.35 278.50 348.7 L278.50 342.7 C278.50 341.90 274.70 341.90 274.70 341.1 L274.70 335.1 C274.70 334.40 278.50 334.40 278.50 333.7 L278.50 327.3 C278.50 326.60 278.50 326.60 278.50 325.9 L278.50 319.5 C278.50 318.90 276.60 318.90 276.60 318.3 L276.60 311.9 C276.60 311.10 276.60 311.10 276.60 310.3 L276.60 304 C276.60 302.45 276.60 302.45 276.60 300.9 L276.60 293.1 C276.60 291.55 272.80 291.55 272.80 290 L272.80 282 C272.80 280.50 274.70 280.50 274.70 279 L274.70 271.2 C274.70 270.00 278.50 270.00 278.50 268.8 L278.50 261 C278.50 258.35 278.50 258.35 278.50 255.7 L278.50 247.3 C278.50 243.15 278.50 243.15 278.50 239 L278.50 231 C278.50 229.00 272.80 229.00 272.80 227 L272.80 219 C272.80 213.50 269.00 213.50 269.00 208 L269.00 200 C269.00 188.85 250.00 188.85 250.00 177.7 L250.00 169.3 Z" fill="#c2dcc8" opacity="0.95"/>
<path d="M250.00 169.3 L250.00 177.7 C250.00 188.85 269.00 188.85 269.00 200 L269.00 208 C269.00 213.50 272.80 213.50 272.80 219 L272.80 227 C272.80 229.00 278.50 229.00 278.50 231 L278.50 239 C278.50 243.15 278.50 243.15 278.50 247.3 L278.50 255.7 C278.50 258.35 278.50 258.35 278.50 261 L278.50 268.8 C278.50 270.00 274.70 270.00 274.70 271.2 L274.70 279 C274.70 280.50 272.80 280.50 272.80 282 L272.80 290 C272.80 291.55 276.60 291.55 276.60 293.1 L276.60 300.9 C276.60 302.45 276.60 302.45 276.60 304 L276.60 310.3 C276.60 311.10 276.60 311.10 276.60 311.9 L276.60 318.3 C276.60 318.90 278.50 318.90 278.50 319.5 L278.50 325.9 C278.50 326.60 278.50 326.60 278.50 327.3 L278.50 333.7 C278.50 334.40 274.70 334.40 274.70 335.1 L274.70 341.1 C274.70 341.90 278.50 341.90 278.50 342.7 L278.50 348.7 C278.50 349.35 278.50 349.35 278.50 350 L278.50 355.1 C278.50 355.65 276.60 355.65 276.60 356.2 L276.60 362.2 C276.60 363.00 276.60 363.00 276.60 363.8 L276.60 368.9 C276.60 369.55 278.50 369.55 278.50 370.2 L278.50 374.9 C278.50 375.45 278.50 375.45 278.50 376 L278.50 381.7 C278.50 382.10 278.50 382.10 278.50 382.5 L278.50 386.8 C278.50 387.35 278.50 387.35 278.50 387.9 L278.50 392.9 C278.50 393.45 278.50 393.45 278.50 394 L278.50 399.2 L280.40 399.2 L280.40 394 C280.40 393.45 280.40 393.45 280.40 392.9 L280.40 387.9 C280.40 387.35 280.40 387.35 280.40 386.8 L280.40 382.5 C280.40 382.10 280.40 382.10 280.40 381.7 L280.40 376 C280.40 375.45 280.40 375.45 280.40 374.9 L280.40 370.2 C280.40 369.55 280.40 369.55 280.40 368.9 L280.40 363.8 C280.40 363.00 280.40 363.00 280.40 362.2 L280.40 356.2 C280.40 355.65 280.40 355.65 280.40 355.1 L280.40 350 C280.40 349.35 280.40 349.35 280.40 348.7 L280.40 342.7 C280.40 341.90 280.40 341.90 280.40 341.1 L280.40 335.1 C280.40 334.40 280.40 334.40 280.40 333.7 L280.40 327.3 C280.40 326.60 280.40 326.60 280.40 325.9 L280.40 319.5 C280.40 318.90 280.40 318.90 280.40 318.3 L280.40 311.9 C280.40 311.10 280.40 311.10 280.40 310.3 L280.40 304 C280.40 302.45 280.40 302.45 280.40 300.9 L280.40 293.1 C280.40 291.55 280.40 291.55 280.40 290 L280.40 282 C280.40 280.50 280.40 280.50 280.40 279 L280.40 271.2 C280.40 270.00 280.40 270.00 280.40 268.8 L280.40 261 C280.40 258.35 280.40 258.35 280.40 255.7 L280.40 247.3 C280.40 243.15 280.40 243.15 280.40 239 L280.40 231 C280.40 229.00 280.40 229.00 280.40 227 L280.40 219 C280.40 213.50 280.40 213.50 280.40 208 L280.40 200 C280.40 188.85 280.40 188.85 280.40 177.7 L280.40 169.3 Z" fill="#f0bcdc" opacity="0.95"/>
<rect x="198.70" y="169.3" width="47.50" height="8.40" fill="#b4ccf4"/>
<rect x="246.20" y="169.3" width="3.80" height="8.40" fill="#8fc39a"/>
<rect x="250.00" y="169.3" width="30.40" height="8.40" fill="#e78ac3"/>
<text x="222.45" y="175.61" font-size="6.2" fill="#222" text-anchor="middle" font-weight="normal" font-family="'Liberation Serif', 'Times New Roman', serif" >25</text>
<text x="248.10" y="175.61" font-size="6.2" fill="#222" text-anchor="middle" font-weight="normal" font-family="'Liberation Serif', 'Times New Roman', serif" >2</text>
<text x="265.20" y="175.61" font-size="6.2" fill="#222" text-anchor="middle" font-weight="normal" font-family="'Liberation Serif', 'Times New Roman', serif" >16</text>
<rect x="248.10" y="200" width="17.10" height="8.00" fill="#b4ccf4"/>
<rect x="265.20" y="200" width="3.80" height="8.00" fill="#8fc39a"/>
<rect x="269.00" y="200" width="11.40" height="8.00" fill="#e78ac3"/>
<text x="256.65" y="206.11" font-size="6.2" fill="#222" text-anchor="middle" font-weight="normal" font-family="'Liberation Serif', 'Times New Roman', serif" >9</text>
<text x="267.10" y="206.11" font-size="6.2" fill="#222" text-anchor="middle" font-weight="normal" font-family="'Liberation Serif', 'Times New Roman', serif" >2</text>
<text x="274.70" y="206.11" font-size="6.2" fill="#222" text-anchor="middle" font-weight="normal" font-family="'Liberation Serif', 'Times New Roman', serif" >6</text>
<rect x="253.80" y="219" width="3.80" height="8.00" fill="#b4ccf4"/>
<rect x="257.60" y="219" width="15.20" height="8.00" fill="#8fc39a"/>
<rect x="272.80" y="219" width="7.60" height="8.00" fill="#e78ac3"/>
<text x="255.70" y="225.11" font-size="6.2" fill="#222" text-anchor="middle" font-weight="normal" font-family="'Liberation Serif', 'Times New Roman', serif" >2</text>
<text x="265.20" y="225.11" font-size="6.2" fill="#222" text-anchor="middle" font-weight="normal" font-family="'Liberation Serif', 'Times New Roman', serif" >8</text>
<text x="276.60" y="225.11" font-size="6.2" fill="#222" text-anchor="middle" font-weight="normal" font-family="'Liberation Serif', 'Times New Roman', serif" >4</text>
<rect x="255.70" y="231" width="9.50" height="8.00" fill="#b4ccf4"/>
<rect x="265.20" y="231" width="13.30" height="8.00" fill="#8fc39a"/>
<rect x="278.50" y="231" width="1.90" height="8.00" fill="#e78ac3"/>
<text x="260.45" y="237.11" font-size="6.2" fill="#222" text-anchor="middle" font-weight="normal" font-family="'Liberation Serif', 'Times New Roman', serif" >5</text>
<text x="271.85" y="237.11" font-size="6.2" fill="#222" text-anchor="middle" font-weight="normal" font-family="'Liberation Serif', 'Times New Roman', serif" >7</text>
<text x="279.45" y="237.11" font-size="6.2" fill="#222" text-anchor="middle" font-weight="normal" font-family="'Liberation Serif', 'Times New Roman', serif" >1</text>
<rect x="257.60" y="247.3" width="3.80" height="8.40" fill="#b4ccf4"/>
<rect x="261.40" y="247.3" width="17.10" height="8.40" fill="#8fc39a"/>
<rect x="278.50" y="247.3" width="1.90" height="8.40" fill="#e78ac3"/>
<text x="259.50" y="253.61" font-size="6.2" fill="#222" text-anchor="middle" font-weight="normal" font-family="'Liberation Serif', 'Times New Roman', serif" >2</text>
<text x="269.95" y="253.61" font-size="6.2" fill="#222" text-anchor="middle" font-weight="normal" font-family="'Liberation Serif', 'Times New Roman', serif" >9</text>
<text x="279.45" y="253.61" font-size="6.2" fill="#222" text-anchor="middle" font-weight="normal" font-family="'Liberation Serif', 'Times New Roman', serif" >1</text>
<rect x="259.50" y="261" width="15.20" height="7.80" fill="#b4ccf4"/>
<rect x="274.70" y="261" width="3.80" height="7.80" fill="#8fc39a"/>
<rect x="278.50" y="261" width="1.90" height="7.80" fill="#e78ac3"/>
<text x="267.10" y="267.01" font-size="6.2" fill="#222" text-anchor="middle" font-weight="normal" font-family="'Liberation Serif', 'Times New Roman', serif" >8</text>
<text x="276.60" y="267.01" font-size="6.2" fill="#222" text-anchor="middle" font-weight="normal" font-family="'Liberation Serif', 'Times New Roman', serif" >2</text>
<text x="279.45" y="267.01" font-size="6.2" fill="#222" text-anchor="middle" font-weight="normal" font-family="'Liberation Serif', 'Times New Roman', serif" >1</text>
<rect x="261.40" y="271.2" width="1.90" height="7.80" fill="#b4ccf4"/>
<rect x="263.30" y="271.2" width="11.40" height="7.80" fill="#8fc39a"/>
<rect x="274.70" y="271.2" width="5.70" height="7.80" fill="#e78ac3"/>
<text x="262.35" y="277.21" font-size="6.2" fill="#222" text-anchor="middle" font-weight="normal" font-family="'Liberation Serif', 'Times New Roman', serif" >1</text>
<text x="269.00" y="277.21" font-size="6.2" fill="#222" text-anchor="middle" font-weight="normal" font-family="'Liberation Serif', 'Times New Roman', serif" >6</text>
<text x="277.55" y="277.21" font-size="6.2" fill="#222" text-anchor="middle" font-weight="normal" font-family="'Liberation Serif', 'Times New Roman', serif" >3</text>
<rect x="265.20" y="282" width="1.90" height="8.00" fill="#b4ccf4"/>
<rect x="267.10" y="282" width="5.70" height="8.00" fill="#8fc39a"/>
<rect x="272.80" y="282" width="7.60" height="8.00" fill="#e78ac3"/>
<text x="266.15" y="288.11" font-size="6.2" fill="#222" text-anchor="middle" font-weight="normal" font-family="'Liberation Serif', 'Times New Roman', serif" >1</text>
<text x="269.95" y="288.11" font-size="6.2" fill="#222" text-anchor="middle" font-weight="normal" font-family="'Liberation Serif', 'Times New Roman', serif" >3</text>
<text x="276.60" y="288.11" font-size="6.2" fill="#222" text-anchor="middle" font-weight="normal" font-family="'Liberation Serif', 'Times New Roman', serif" >4</text>
<rect x="265.20" y="293.1" width="3.80" height="7.80" fill="#b4ccf4"/>
<rect x="269.00" y="293.1" width="7.60" height="7.80" fill="#8fc39a"/>
<rect x="276.60" y="293.1" width="3.80" height="7.80" fill="#e78ac3"/>
<text x="267.10" y="299.11" font-size="6.2" fill="#222" text-anchor="middle" font-weight="normal" font-family="'Liberation Serif', 'Times New Roman', serif" >2</text>
<text x="272.80" y="299.11" font-size="6.2" fill="#222" text-anchor="middle" font-weight="normal" font-family="'Liberation Serif', 'Times New Roman', serif" >4</text>
<text x="278.50" y="299.11" font-size="6.2" fill="#222" text-anchor="middle" font-weight="normal" font-family="'Liberation Serif', 'Times New Roman', serif" >2</text>
<rect x="267.10" y="304" width="7.60" height="6.30" fill="#b4ccf4"/>
<rect x="274.70" y="304" width="1.90" height="6.30" fill="#8fc39a"/>
<rect x="276.60" y="304" width="3.80" height="6.30" fill="#e78ac3"/>
<text x="270.90" y="309.26" font-size="6.2" fill="#222" text-anchor="middle" font-weight="normal" font-family="'Liberation Serif', 'Times New Roman', serif" >4</text>
<text x="275.65" y="309.26" font-size="6.2" fill="#222" text-anchor="middle" font-weight="normal" font-family="'Liberation Serif', 'Times New Roman', serif" >1</text>
<text x="278.50" y="309.26" font-size="6.2" fill="#222" text-anchor="middle" font-weight="normal" font-family="'Liberation Serif', 'Times New Roman', serif" >2</text>
<rect x="269.00" y="311.9" width="3.80" height="6.40" fill="#b4ccf4"/>
<rect x="272.80" y="311.9" width="3.80" height="6.40" fill="#8fc39a"/>
<rect x="276.60" y="311.9" width="3.80" height="6.40" fill="#e78ac3"/>
<text x="270.90" y="316.32" font-size="3.6" fill="#222" text-anchor="middle" font-weight="normal" font-family="'Liberation Serif', 'Times New Roman', serif" >2</text>
<text x="274.70" y="316.32" font-size="3.6" fill="#222" text-anchor="middle" font-weight="normal" font-family="'Liberation Serif', 'Times New Roman', serif" >2</text>
<text x="278.50" y="316.32" font-size="3.6" fill="#222" text-anchor="middle" font-weight="normal" font-family="'Liberation Serif', 'Times New Roman', serif" >2</text>
<rect x="270.90" y="319.5" width="1.90" height="6.40" fill="#b4ccf4"/>
<rect x="272.80" y="319.5" width="5.70" height="6.40" fill="#8fc39a"/>
<rect x="278.50" y="319.5" width="1.90" height="6.40" fill="#e78ac3"/>
<text x="271.85" y="323.92" font-size="3.6" fill="#222" text-anchor="middle" font-weight="normal" font-family="'Liberation Serif', 'Times New Roman', serif" >1</text>
<text x="275.65" y="323.92" font-size="3.6" fill="#222" text-anchor="middle" font-weight="normal" font-family="'Liberation Serif', 'Times New Roman', serif" >3</text>
<text x="279.45" y="323.92" font-size="3.6" fill="#222" text-anchor="middle" font-weight="normal" font-family="'Liberation Serif', 'Times New Roman', serif" >1</text>
<rect x="270.90" y="327.3" width="3.80" height="6.40" fill="#b4ccf4"/>
<rect x="274.70" y="327.3" width="3.80" height="6.40" fill="#8fc39a"/>
<rect x="278.50" y="327.3" width="1.90" height="6.40" fill="#e78ac3"/>
<text x="272.80" y="331.72" font-size="3.6" fill="#222" text-anchor="middle" font-weight="normal" font-family="'Liberation Serif', 'Times New Roman', serif" >2</text>
<text x="276.60" y="331.72" font-size="3.6" fill="#222" text-anchor="middle" font-weight="normal" font-family="'Liberation Serif', 'Times New Roman', serif" >2</text>
<text x="279.45" y="331.72" font-size="3.6" fill="#222" text-anchor="middle" font-weight="normal" font-family="'Liberation Serif', 'Times New Roman', serif" >1</text>
<rect x="270.90" y="335.1" width="1.90" height="6.00" fill="#b4ccf4"/>
<rect x="272.80" y="335.1" width="1.90" height="6.00" fill="#8fc39a"/>
<rect x="274.70" y="335.1" width="5.70" height="6.00" fill="#e78ac3"/>
<text x="271.85" y="339.32" font-size="3.6" fill="#222" text-anchor="middle" font-weight="normal" font-family="'Liberation Serif', 'Times New Roman', serif" >1</text>
<text x="273.75" y="339.32" font-size="3.6" fill="#222" text-anchor="middle" font-weight="normal" font-family="'Liberation Serif', 'Times New Roman', serif" >1</text>
<text x="277.55" y="339.32" font-size="3.6" fill="#222" text-anchor="middle" font-weight="normal" font-family="'Liberation Serif', 'Times New Roman', serif" >3</text>
<rect x="272.80" y="342.7" width="3.80" height="6.00" fill="#b4ccf4"/>
<rect x="276.60" y="342.7" width="1.90" height="6.00" fill="#8fc39a"/>
<rect x="278.50" y="342.7" width="1.90" height="6.00" fill="#e78ac3"/>
<text x="274.70" y="346.92" font-size="3.6" fill="#222" text-anchor="middle" font-weight="normal" font-family="'Liberation Serif', 'Times New Roman', serif" >2</text>
<text x="277.55" y="346.92" font-size="3.6" fill="#222" text-anchor="middle" font-weight="normal" font-family="'Liberation Serif', 'Times New Roman', serif" >1</text>
<text x="279.45" y="346.92" font-size="3.6" fill="#222" text-anchor="middle" font-weight="normal" font-family="'Liberation Serif', 'Times New Roman', serif" >1</text>
<rect x="272.80" y="350" width="1.90" height="5.10" fill="#b4ccf4"/>
<rect x="274.70" y="350" width="3.80" height="5.10" fill="#8fc39a"/>
<rect x="278.50" y="350" width="1.90" height="5.10" fill="#e78ac3"/>
<text x="273.75" y="353.77" font-size="3.6" fill="#222" text-anchor="middle" font-weight="normal" font-family="'Liberation Serif', 'Times New Roman', serif" >1</text>
<text x="276.60" y="353.77" font-size="3.6" fill="#222" text-anchor="middle" font-weight="normal" font-family="'Liberation Serif', 'Times New Roman', serif" >2</text>
<text x="279.45" y="353.77" font-size="3.6" fill="#222" text-anchor="middle" font-weight="normal" font-family="'Liberation Serif', 'Times New Roman', serif" >1</text>
<rect x="272.80" y="356.2" width="1.90" height="6.00" fill="#b4ccf4"/>
<rect x="274.70" y="356.2" width="1.90" height="6.00" fill="#8fc39a"/>
<rect x="276.60" y="356.2" width="3.80" height="6.00" fill="#e78ac3"/>
<text x="273.75" y="360.42" font-size="3.6" fill="#222" text-anchor="middle" font-weight="normal" font-family="'Liberation Serif', 'Times New Roman', serif" >1</text>
<text x="275.65" y="360.42" font-size="3.6" fill="#222" text-anchor="middle" font-weight="normal" font-family="'Liberation Serif', 'Times New Roman', serif" >1</text>
<text x="278.50" y="360.42" font-size="3.6" fill="#222" text-anchor="middle" font-weight="normal" font-family="'Liberation Serif', 'Times New Roman', serif" >2</text>
<rect x="272.80" y="363.8" width="1.90" height="5.10" fill="#b4ccf4"/>
<rect x="274.70" y="363.8" width="1.90" height="5.10" fill="#8fc39a"/>
<rect x="276.60" y="363.8" width="3.80" height="5.10" fill="#e78ac3"/>
<text x="273.75" y="367.57" font-size="3.6" fill="#222" text-anchor="middle" font-weight="normal" font-family="'Liberation Serif', 'Times New Roman', serif" >1</text>
<text x="275.65" y="367.57" font-size="3.6" fill="#222" text-anchor="middle" font-weight="normal" font-family="'Liberation Serif', 'Times New Roman', serif" >1</text>
<text x="278.50" y="367.57" font-size="3.6" fill="#222" text-anchor="middle" font-weight="normal" font-family="'Liberation Serif', 'Times New Roman', serif" >2</text>
<rect x="274.70" y="370.2" width="1.90" height="4.70" fill="#b4ccf4"/>
<rect x="276.60" y="370.2" width="1.90" height="4.70" fill="#8fc39a"/>
<rect x="278.50" y="370.2" width="1.90" height="4.70" fill="#e78ac3"/>
<text x="275.65" y="373.77" font-size="3.6" fill="#222" text-anchor="middle" font-weight="normal" font-family="'Liberation Serif', 'Times New Roman', serif" >1</text>
<text x="277.55" y="373.77" font-size="3.6" fill="#222" text-anchor="middle" font-weight="normal" font-family="'Liberation Serif', 'Times New Roman', serif" >1</text>
<text x="279.45" y="373.77" font-size="3.6" fill="#222" text-anchor="middle" font-weight="normal" font-family="'Liberation Serif', 'Times New Roman', serif" >1</text>
<rect x="274.70" y="376" width="1.90" height="5.70" fill="#b4ccf4"/>
<rect x="276.60" y="376" width="1.90" height="5.70" fill="#8fc39a"/>
<rect x="278.50" y="376" width="1.90" height="5.70" fill="#e78ac3"/>
<text x="275.65" y="380.07" font-size="3.6" fill="#222" text-anchor="middle" font-weight="normal" font-family="'Liberation Serif', 'Times New Roman', serif" >1</text>
<text x="277.55" y="380.07" font-size="3.6" fill="#222" text-anchor="middle" font-weight="normal" font-family="'Liberation Serif', 'Times New Roman', serif" >1</text>
<text x="279.45" y="380.07" font-size="3.6" fill="#222" text-anchor="middle" font-weight="normal" font-family="'Liberation Serif', 'Times New Roman', serif" >1</text>
<rect x="274.70" y="382.5" width="1.90" height="4.30" fill="#b4ccf4"/>
<rect x="276.60" y="382.5" width="1.90" height="4.30" fill="#8fc39a"/>
<rect x="278.50" y="382.5" width="1.90" height="4.30" fill="#e78ac3"/>
<text x="275.65" y="385.87" font-size="3.6" fill="#222" text-anchor="middle" font-weight="normal" font-family="'Liberation Serif', 'Times New Roman', serif" >1</text>
<text x="277.55" y="385.87" font-size="3.6" fill="#222" text-anchor="middle" font-weight="normal" font-family="'Liberation Serif', 'Times New Roman', serif" >1</text>
<text x="279.45" y="385.87" font-size="3.6" fill="#222" text-anchor="middle" font-weight="normal" font-family="'Liberation Serif', 'Times New Roman', serif" >1</text>
<rect x="274.70" y="387.9" width="1.90" height="5.00" fill="#b4ccf4"/>
<rect x="276.60" y="387.9" width="1.90" height="5.00" fill="#8fc39a"/>
<rect x="278.50" y="387.9" width="1.90" height="5.00" fill="#e78ac3"/>
<text x="275.65" y="391.62" font-size="3.6" fill="#222" text-anchor="middle" font-weight="normal" font-family="'Liberation Serif', 'Times New Roman', serif" >1</text>
<text x="277.55" y="391.62" font-size="3.6" fill="#222" text-anchor="middle" font-weight="normal" font-family="'Liberation Serif', 'Times New Roman', serif" >1</text>
<text x="279.45" y="391.62" font-size="3.6" fill="#222" text-anchor="middle" font-weight="normal" font-family="'Liberation Serif', 'Times New Roman', serif" >1</text>
<rect x="274.70" y="394" width="1.90" height="5.20" fill="#b4ccf4"/>
<rect x="276.60" y="394" width="1.90" height="5.20" fill="#8fc39a"/>
<rect x="278.50" y="394" width="1.90" height="5.20" fill="#e78ac3"/>
<text x="275.65" y="397.82" font-size="3.6" fill="#222" text-anchor="middle" font-weight="normal" font-family="'Liberation Serif', 'Times New Roman', serif" >1</text>
<text x="277.55" y="397.82" font-size="3.6" fill="#222" text-anchor="middle" font-weight="normal" font-family="'Liberation Serif', 'Times New Roman', serif" >1</text>
<text x="279.45" y="397.82" font-size="3.6" fill="#222" text-anchor="middle" font-weight="normal" font-family="'Liberation Serif', 'Times New Roman', serif" >1</text>
<line x1="19.5" y1="170.8" x2="19.5" y2="177.39999999999998" stroke="#d6407e" stroke-width="0.8"/>
<line x1="19.5" y1="173.5" x2="21.8" y2="173.5" stroke="#d6407e" stroke-width="0.5"/>
<circle cx="27.2" cy="172.5" r="0.4" fill="#d6407e"/><circle cx="27.2" cy="173.8" r="0.3" fill="#d6407e"/>
<line x1="23.5" y1="201.5" x2="23.5" y2="207.7" stroke="#d6407e" stroke-width="0.8"/>
<line x1="23.5" y1="204.0" x2="25.5" y2="204.0" stroke="#d6407e" stroke-width="0.5"/>
<line x1="12.7" y1="219" x2="12.7" y2="227" stroke="#f4a6bc" stroke-width="0.8"/>
<line x1="11.5" y1="231" x2="11.5" y2="239" stroke="#e8476f" stroke-width="0.8"/>
<line x1="16.6" y1="247.3" x2="16.6" y2="255.7" stroke="#f4a6bc" stroke-width="0.8"/>
<circle cx="23.5" cy="250.5" r="0.45" fill="#e8476f"/>
<line x1="16.6" y1="264.9" x2="23.5" y2="264.9" stroke="#e8476f" stroke-width="0.6"/>
<rect x="19" y="261.5" width="2.20" height="6.80" fill="#e8476f"/>
<circle cx="23.5" cy="263.29999999999995" r="0.35" fill="#e8476f"/><circle cx="16.6" cy="263.29999999999995" r="0.35" fill="#e8476f"/>
<line x1="11.5" y1="271.2" x2="11.5" y2="279" stroke="#f4a6bc" stroke-width="0.8"/>
<line x1="11.5" y1="282" x2="11.5" y2="290" stroke="#f4a6bc" stroke-width="0.8"/>
<line x1="31.5" y1="297.0" x2="31.5" y2="297.0" stroke="#e8476f" stroke-width="0.55"/>
<line x1="35.4" y1="297.0" x2="35.4" y2="297.0" stroke="#e8476f" stroke-width="0.55"/>
<rect x="31.5" y="294.1" width="3.90" height="5.80" fill="none" stroke="#e8476f" stroke-width="0.55"/>
<line x1="33.4" y1="294.1" x2="33.4" y2="299.9" stroke="#e8476f" stroke-width="0.55"/>
<line x1="11.1" y1="304" x2="11.1" y2="342" stroke="#e8476f" stroke-width="0.7" stroke-dasharray="1.6 0.9"/>
<line x1="12" y1="350" x2="12" y2="369" stroke="#f4a6bc" stroke-width="0.7" stroke-dasharray="1.2 0.8"/>
<line x1="21.7" y1="344.85" x2="29.4" y2="344.85" stroke="#e8476f" stroke-width="0.55"/>
<rect x="18.3" y="342.2" width="3.40" height="5.30" fill="none" stroke="#e8476f" stroke-width="0.55"/>
<rect x="18.3" y="369.5" width="0.80" height="4.50" fill="none" stroke="#e8476f" stroke-width="0.55"/>
<rect x="28.2" y="375.5" width="1.40" height="5.50" fill="#f4a6bc" stroke="#e8476f" stroke-width="0.55"/>
<line x1="11.1" y1="382.5" x2="11.1" y2="399.2" stroke="#e8476f" stroke-width="0.7" stroke-dasharray="1.6 0.9"/>
<line x1="91.5" y1="169.3" x2="91.5" y2="177.7" stroke="#d6407e" stroke-width="0.8"/>
<line x1="91.5" y1="200" x2="91.5" y2="208" stroke="#d6407e" stroke-width="0.8"/>
<line x1="91.5" y1="219" x2="91.5" y2="227" stroke="#d6407e" stroke-width="0.8"/>
<line x1="91.5" y1="247.3" x2="91.5" y2="255.7" stroke="#d6407e" stroke-width="0.8"/>
<line x1="91.5" y1="261" x2="91.5" y2="268.8" stroke="#d6407e" stroke-width="0.8"/>
<line x1="91.5" y1="282" x2="91.5" y2="290" stroke="#d6407e" stroke-width="0.8"/>
<line x1="91.5" y1="293.1" x2="91.5" y2="300.9" stroke="#d6407e" stroke-width="0.8"/>
<line x1="91.5" y1="304" x2="91.5" y2="310.3" stroke="#d6407e" stroke-width="0.8"/>
<line x1="91.5" y1="319.5" x2="91.5" y2="325.9" stroke="#d6407e" stroke-width="0.8"/>
<line x1="91.5" y1="342.7" x2="91.5" y2="348.7" stroke="#d6407e" stroke-width="0.8"/>
<line x1="91.5" y1="350" x2="91.5" y2="355.1" stroke="#d6407e" stroke-width="0.8"/>
<line x1="91.5" y1="370.2" x2="91.5" y2="374.9" stroke="#d6407e" stroke-width="0.8"/>
<line x1="91.5" y1="376" x2="91.5" y2="381.7" stroke="#d6407e" stroke-width="0.8"/>
<line x1="91.5" y1="300" x2="91.5" y2="312" stroke="#d6407e" stroke-width="0.7" stroke-dasharray="1.5 1"/>
<line x1="91.2" y1="235.0" x2="93.5" y2="235.0" stroke="#d6407e" stroke-width="0.55"/>
<line x1="97.8" y1="235.0" x2="100.7" y2="235.0" stroke="#d6407e" stroke-width="0.55"/>
<rect x="93.5" y="231.5" width="4.30" height="7.00" fill="none" stroke="#d6407e" stroke-width="0.55"/>
<line x1="95.6" y1="231.5" x2="95.6" y2="238.5" stroke="#d6407e" stroke-width="0.55"/>
<line x1="103.8" y1="275.1" x2="106.3" y2="275.1" stroke="#d6407e" stroke-width="0.55"/>
<rect x="91.3" y="271.5" width="12.50" height="7.20" fill="none" stroke="#d6407e" stroke-width="0.55"/>
<line x1="94" y1="271.5" x2="94" y2="278.7" stroke="#d6407e" stroke-width="0.55"/>
<line x1="94.2" y1="314.6" x2="96.4" y2="314.6" stroke="#d6407e" stroke-width="0.55"/>
<line x1="104.8" y1="314.6" x2="110.4" y2="314.6" stroke="#d6407e" stroke-width="0.55"/>
<rect x="96.4" y="310.8" width="8.40" height="7.60" fill="none" stroke="#d6407e" stroke-width="0.55"/>
<line x1="98.2" y1="310.8" x2="98.2" y2="318.4" stroke="#d6407e" stroke-width="0.55"/>
<line x1="94.5" y1="329.75" x2="96.4" y2="329.75" stroke="#d6407e" stroke-width="0.55"/>
<line x1="100.4" y1="329.75" x2="102.5" y2="329.75" stroke="#d6407e" stroke-width="0.55"/>
<rect x="96.4" y="326.4" width="4.00" height="6.70" fill="none" stroke="#d6407e" stroke-width="0.55"/>
<line x1="98.2" y1="326.4" x2="98.2" y2="333.1" stroke="#d6407e" stroke-width="0.55"/>
<line x1="94" y1="338.8" x2="96.4" y2="338.8" stroke="#d6407e" stroke-width="0.55"/>
<line x1="107.2" y1="338.8" x2="111.7" y2="338.8" stroke="#d6407e" stroke-width="0.55"/>
<rect x="96.4" y="335.3" width="10.80" height="7.00" fill="none" stroke="#d6407e" stroke-width="0.55"/>
<line x1="99.5" y1="335.3" x2="99.5" y2="342.3" stroke="#d6407e" stroke-width="0.55"/>
<line x1="94.2" y1="359.0" x2="97.7" y2="359.0" stroke="#d6407e" stroke-width="0.55"/>
<rect x="91.7" y="356" width="2.50" height="6.00" fill="none" stroke="#d6407e" stroke-width="0.55"/>
<line x1="92.5" y1="356" x2="92.5" y2="362" stroke="#d6407e" stroke-width="0.55"/>
<line x1="92.5" y1="366.2" x2="93.7" y2="366.2" stroke="#d6407e" stroke-width="0.55"/>
<line x1="98.5" y1="366.2" x2="101.7" y2="366.2" stroke="#d6407e" stroke-width="0.55"/>
<rect x="93.7" y="363.2" width="4.80" height="6.00" fill="none" stroke="#d6407e" stroke-width="0.55"/>
<line x1="95.5" y1="363.2" x2="95.5" y2="369.2" stroke="#d6407e" stroke-width="0.55"/>
<rect x="92.3" y="383.2" width="1.40" height="2.80" fill="none" stroke="#d6407e" stroke-width="0.55"/>
<line x1="94.8" y1="390.2" x2="96.4" y2="390.2" stroke="#d6407e" stroke-width="0.55"/>
<line x1="106.4" y1="390.2" x2="116.7" y2="390.2" stroke="#d6407e" stroke-width="0.55"/>
<rect x="96.4" y="387.4" width="10.00" height="5.60" fill="none" stroke="#d6407e" stroke-width="0.55"/>
<rect x="94.8" y="395" width="4.50" height="4.00" fill="none" stroke="#d6407e" stroke-width="0.55"/>
<line x1="96.5" y1="395" x2="96.5" y2="399" stroke="#d6407e" stroke-width="0.55"/>
<line x1="91.5" y1="370" x2="91.5" y2="381.5" stroke="#d6407e" stroke-width="0.6" stroke-dasharray="1.2 1"/>
<line x1="137.6" y1="169.60000000000002" x2="137.6" y2="177.39999999999998" stroke="#3a93d0" stroke-width="0.8"/>
<circle cx="140.5" cy="173.5" r="0.5" fill="#3a93d0"/>
<line x1="138.3" y1="200.3" x2="138.3" y2="207.7" stroke="#3a93d0" stroke-width="0.8"/>
<line x1="140" y1="219.3" x2="140" y2="226.7" stroke="#7fc4e6" stroke-width="0.8"/>
<line x1="128.5" y1="231.3" x2="128.5" y2="238.7" stroke="#3a93d0" stroke-width="0.8"/>
<line x1="137.6" y1="247.60000000000002" x2="137.6" y2="255.39999999999998" stroke="#3a93d0" stroke-width="0.8"/>
<circle cx="140.5" cy="251.5" r="0.5" fill="#3a93d0"/>
<line x1="142.5" y1="261.3" x2="142.5" y2="268.5" stroke="#3a93d0" stroke-width="0.8"/>
<line x1="130.2" y1="271.5" x2="130.2" y2="278.7" stroke="#3a93d0" stroke-width="0.8"/>
<circle cx="134.5" cy="275.1" r="0.5" fill="#3a93d0"/>
<line x1="143" y1="282.3" x2="143" y2="289.7" stroke="#3a93d0" stroke-width="0.8"/>
<line x1="144.4" y1="293.40000000000003" x2="144.4" y2="300.59999999999997" stroke="#3a93d0" stroke-width="0.8"/>
<line x1="140.1" y1="304.3" x2="140.1" y2="310.0" stroke="#3a93d0" stroke-width="0.8"/>
<line x1="132.6" y1="312.2" x2="132.6" y2="318.0" stroke="#7fc4e6" stroke-width="0.8"/>
<line x1="139" y1="319.8" x2="139" y2="325.59999999999997" stroke="#3a93d0" stroke-width="0.8"/>
<line x1="132.6" y1="327.6" x2="132.6" y2="333.4" stroke="#7fc4e6" stroke-width="0.8"/>
<line x1="127.9" y1="335.40000000000003" x2="127.9" y2="340.8" stroke="#3a93d0" stroke-width="0.8"/>
<circle cx="131" cy="338.1" r="0.5" fill="#3a93d0"/>
<line x1="138.5" y1="350.3" x2="138.5" y2="354.8" stroke="#3a93d0" stroke-width="0.8"/>
<line x1="143.4" y1="370.5" x2="143.4" y2="374.59999999999997" stroke="#3a93d0" stroke-width="0.8"/>
<line x1="141.3" y1="376.3" x2="141.3" y2="381.4" stroke="#3a93d0" stroke-width="0.8"/>
<line x1="132.6" y1="394.3" x2="132.6" y2="398.9" stroke="#7fc4e6" stroke-width="0.8"/>
<rect x="137.9" y="343" width="2.70" height="5.40" fill="none" stroke="#7fc4e6" stroke-width="0.55"/>
<line x1="139" y1="343" x2="139" y2="348.4" stroke="#7fc4e6" stroke-width="0.55"/>
<line x1="132.6" y1="359.15" x2="134.7" y2="359.15" stroke="#7fc4e6" stroke-width="0.55"/>
<rect x="130.2" y="356.5" width="2.40" height="5.30" fill="none" stroke="#7fc4e6" stroke-width="0.55"/>
<line x1="131.2" y1="356.5" x2="131.2" y2="361.8" stroke="#7fc4e6" stroke-width="0.55"/>
<rect x="129.4" y="364" width="1.60" height="4.70" fill="none" stroke="#7fc4e6" stroke-width="0.55"/>
<rect x="130.2" y="382.8" width="3.20" height="3.70" fill="none" stroke="#7fc4e6" stroke-width="0.55"/>
<line x1="131.5" y1="382.8" x2="131.5" y2="386.5" stroke="#7fc4e6" stroke-width="0.55"/>
<rect x="130.2" y="388.2" width="3.20" height="4.40" fill="none" stroke="#7fc4e6" stroke-width="0.55"/>
<line x1="131.5" y1="388.2" x2="131.5" y2="392.6" stroke="#7fc4e6" stroke-width="0.55"/>
<rect x="137.4" y="350.3" width="2.40" height="4.50" fill="none" stroke="#3a93d0" stroke-width="0.55"/>
<line x1="11.1" y1="400.2" x2="38.1" y2="400.2" stroke="#444" stroke-width="0.9"/>
<line x1="11.1" y1="400.2" x2="11.1" y2="401.8" stroke="#444" stroke-width="0.6"/>
<text x="12.299999999999999" y="403.4" font-size="4.3" font-family="'Liberation Serif', 'Times New Roman', serif" fill="#222" text-anchor="end" transform="rotate(-45 12.299999999999999 403.4)" dominant-baseline="hanging">0</text>
<line x1="24.6" y1="400.2" x2="24.6" y2="401.8" stroke="#444" stroke-width="0.6"/>
<text x="25.8" y="403.4" font-size="4.3" font-family="'Liberation Serif', 'Times New Roman', serif" fill="#222" text-anchor="end" transform="rotate(-45 25.8 403.4)" dominant-baseline="hanging">100</text>
<line x1="38.1" y1="400.2" x2="38.1" y2="401.8" stroke="#444" stroke-width="0.6"/>
<text x="39.300000000000004" y="403.4" font-size="4.3" font-family="'Liberation Serif', 'Times New Roman', serif" fill="#222" text-anchor="end" transform="rotate(-45 39.300000000000004 403.4)" dominant-baseline="hanging">200</text>
<text x="24.60" y="413.00" font-size="4.9" fill="#111" text-anchor="middle" font-weight="bold" font-family="'Liberation Serif', 'Times New Roman', serif" >ARG number</text>
<line x1="43.7" y1="400.2" x2="84.1" y2="400.2" stroke="#444" stroke-width="0.9"/>
<line x1="43.7" y1="400.2" x2="43.7" y2="401.8" stroke="#444" stroke-width="0.6"/>
<text x="44.900000000000006" y="403.4" font-size="4.3" font-family="'Liberation Serif', 'Times New Roman', serif" fill="#222" text-anchor="end" transform="rotate(-45 44.900000000000006 403.4)" dominant-baseline="hanging">0</text>
<line x1="63.9" y1="400.2" x2="63.9" y2="401.8" stroke="#444" stroke-width="0.6"/>
<text x="65.1" y="403.4" font-size="4.3" font-family="'Liberation Serif', 'Times New Roman', serif" fill="#222" text-anchor="end" transform="rotate(-45 65.1 403.4)" dominant-baseline="hanging">50</text>
<line x1="84.1" y1="400.2" x2="84.1" y2="401.8" stroke="#444" stroke-width="0.6"/>
<text x="85.3" y="403.4" font-size="4.3" font-family="'Liberation Serif', 'Times New Roman', serif" fill="#222" text-anchor="end" transform="rotate(-45 85.3 403.4)" dominant-baseline="hanging">100</text>
<text x="63.90" y="413.00" font-size="4.9" fill="#111" text-anchor="middle" font-weight="bold" font-family="'Liberation Serif', 'Times New Roman', serif" >Percentage (%)</text>
<line x1="91.3" y1="400.2" x2="118.7" y2="400.2" stroke="#444" stroke-width="0.9"/>
<line x1="91.3" y1="400.2" x2="91.3" y2="401.8" stroke="#444" stroke-width="0.6"/>
<text x="92.5" y="403.4" font-size="4.3" font-family="'Liberation Serif', 'Times New Roman', serif" fill="#222" text-anchor="end" transform="rotate(-45 92.5 403.4)" dominant-baseline="hanging">0</text>
<line x1="100.5" y1="400.2" x2="100.5" y2="401.8" stroke="#444" stroke-width="0.6"/>
<text x="101.7" y="403.4" font-size="4.3" font-family="'Liberation Serif', 'Times New Roman', serif" fill="#222" text-anchor="end" transform="rotate(-45 101.7 403.4)" dominant-baseline="hanging">50</text>
<line x1="109.7" y1="400.2" x2="109.7" y2="401.8" stroke="#444" stroke-width="0.6"/>
<text x="110.9" y="403.4" font-size="4.3" font-family="'Liberation Serif', 'Times New Roman', serif" fill="#222" text-anchor="end" transform="rotate(-45 110.9 403.4)" dominant-baseline="hanging">100</text>
<line x1="118.7" y1="400.2" x2="118.7" y2="401.8" stroke="#444" stroke-width="0.6"/>
<text x="119.9" y="403.4" font-size="4.3" font-family="'Liberation Serif', 'Times New Roman', serif" fill="#222" text-anchor="end" transform="rotate(-45 119.9 403.4)" dominant-baseline="hanging">150</text>
<text x="106.70" y="413.00" font-size="4.9" fill="#111" text-anchor="middle" font-weight="bold" font-family="'Liberation Serif', 'Times New Roman', serif" >Copy number</text>
<line x1="123.1" y1="400.2" x2="149.8" y2="400.2" stroke="#444" stroke-width="0.9"/>
<line x1="123.1" y1="400.2" x2="123.1" y2="401.8" stroke="#444" stroke-width="0.6"/>
<text x="124.3" y="403.4" font-size="4.3" font-family="'Liberation Serif', 'Times New Roman', serif" fill="#222" text-anchor="end" transform="rotate(-45 124.3 403.4)" dominant-baseline="hanging">3</text>
<line x1="132" y1="400.2" x2="132" y2="401.8" stroke="#444" stroke-width="0.6"/>
<text x="133.2" y="403.4" font-size="4.3" font-family="'Liberation Serif', 'Times New Roman', serif" fill="#222" text-anchor="end" transform="rotate(-45 133.2 403.4)" dominant-baseline="hanging">4</text>
<line x1="140.9" y1="400.2" x2="140.9" y2="401.8" stroke="#444" stroke-width="0.6"/>
<text x="142.1" y="403.4" font-size="4.3" font-family="'Liberation Serif', 'Times New Roman', serif" fill="#222" text-anchor="end" transform="rotate(-45 142.1 403.4)" dominant-baseline="hanging">5</text>
<line x1="149.8" y1="400.2" x2="149.8" y2="401.8" stroke="#444" stroke-width="0.6"/>
<text x="151.0" y="403.4" font-size="4.3" font-family="'Liberation Serif', 'Times New Roman', serif" fill="#222" text-anchor="end" transform="rotate(-45 151.0 403.4)" dominant-baseline="hanging">6</text>
<text x="136.60" y="413.00" font-size="4.9" fill="#111" text-anchor="middle" font-weight="bold" font-family="'Liberation Serif', 'Times New Roman', serif" >Length</text>
<text x="136.60" y="417.40" font-size="4.9" fill="#111" text-anchor="middle" font-weight="bold" font-family="'Liberation Serif', 'Times New Roman', serif" >(bp, Log10)</text>
<line x1="149.8" y1="400.2" x2="149.8" y2="401.6" stroke="#333" stroke-width="0.5"/>
<line x1="154.8" y1="400.2" x2="196.6" y2="400.2" stroke="#444" stroke-width="0.9"/>
<line x1="154.8" y1="400.2" x2="154.8" y2="401.8" stroke="#444" stroke-width="0.6"/>
<text x="156.0" y="403.4" font-size="4.3" font-family="'Liberation Serif', 'Times New Roman', serif" fill="#222" text-anchor="end" transform="rotate(-45 156.0 403.4)" dominant-baseline="hanging">0</text>
<line x1="175.7" y1="400.2" x2="175.7" y2="401.8" stroke="#444" stroke-width="0.6"/>
<text x="176.89999999999998" y="403.4" font-size="4.3" font-family="'Liberation Serif', 'Times New Roman', serif" fill="#222" text-anchor="end" transform="rotate(-45 176.89999999999998 403.4)" dominant-baseline="hanging">50</text>
<line x1="196.6" y1="400.2" x2="196.6" y2="401.8" stroke="#444" stroke-width="0.6"/>
<text x="197.79999999999998" y="403.4" font-size="4.3" font-family="'Liberation Serif', 'Times New Roman', serif" fill="#222" text-anchor="end" transform="rotate(-45 197.79999999999998 403.4)" dominant-baseline="hanging">100</text>
<text x="176.80" y="413.00" font-size="4.9" fill="#111" text-anchor="middle" font-weight="bold" font-family="'Liberation Serif', 'Times New Roman', serif" >Percentage (%)</text>
<line x1="203.5" y1="400.2" x2="286" y2="400.2" stroke="#444" stroke-width="0.9"/>
<line x1="206.5" y1="400.2" x2="206.5" y2="401.8" stroke="#444" stroke-width="0.6"/>
<text x="207.7" y="403.4" font-size="4.3" font-family="'Liberation Serif', 'Times New Roman', serif" fill="#222" text-anchor="end" transform="rotate(-45 207.7 403.4)" dominant-baseline="hanging">60</text>
<line x1="241" y1="400.2" x2="241" y2="401.8" stroke="#444" stroke-width="0.6"/>
<text x="242.2" y="403.4" font-size="4.3" font-family="'Liberation Serif', 'Times New Roman', serif" fill="#222" text-anchor="end" transform="rotate(-45 242.2 403.4)" dominant-baseline="hanging">40</text>
<line x1="281.4" y1="400.2" x2="281.4" y2="401.8" stroke="#444" stroke-width="0.6"/>
<text x="282.59999999999997" y="403.4" font-size="4.3" font-family="'Liberation Serif', 'Times New Roman', serif" fill="#222" text-anchor="end" transform="rotate(-45 282.59999999999997 403.4)" dominant-baseline="hanging">0</text>
<text x="246.90" y="413.00" font-size="4.9" fill="#111" text-anchor="middle" font-weight="bold" font-family="'Liberation Serif', 'Times New Roman', serif" >Number</text>
<defs><linearGradient id="sg1" gradientUnits="userSpaceOnUse" x1="291.8" y1="0" x2="450" y2="0"><stop offset="0" stop-color="#a87208"/><stop offset="1" stop-color="#e78ac3"/></linearGradient><linearGradient id="sg2" gradientUnits="userSpaceOnUse" x1="291.8" y1="0" x2="450" y2="0"><stop offset="0" stop-color="#c17d0c"/><stop offset="1" stop-color="#e78ac3"/></linearGradient><linearGradient id="sg3" gradientUnits="userSpaceOnUse" x1="291.8" y1="0" x2="450" y2="0"><stop offset="0" stop-color="#d98c0a"/><stop offset="1" stop-color="#e78ac3"/></linearGradient><linearGradient id="sg4" gradientUnits="userSpaceOnUse" x1="291.8" y1="0" x2="450" y2="0"><stop offset="0" stop-color="#d4a40c"/><stop offset="1" stop-color="#e78ac3"/></linearGradient><linearGradient id="sg5" gradientUnits="userSpaceOnUse" x1="291.8" y1="0" x2="450" y2="0"><stop offset="0" stop-color="#d2d2d2"/><stop offset="1" stop-color="#e78ac3"/></linearGradient><linearGradient id="sg6" gradientUnits="userSpaceOnUse" x1="291.8" y1="0" x2="450" y2="0"><stop offset="0" stop-color="#d2d2d2"/><stop offset="1" stop-color="#e78ac3"/></linearGradient><linearGradient id="sg7" gradientUnits="userSpaceOnUse" x1="291.8" y1="0" x2="450" y2="0"><stop offset="0" stop-color="#c8864a"/><stop offset="1" stop-color="#e78ac3"/></linearGradient><linearGradient id="sg8" gradientUnits="userSpaceOnUse" x1="291.8" y1="0" x2="450" y2="0"><stop offset="0" stop-color="#d2d2d2"/><stop offset="1" stop-color="#e78ac3"/></linearGradient><linearGradient id="sg9" gradientUnits="userSpaceOnUse" x1="291.8" y1="0" x2="450" y2="0"><stop offset="0" stop-color="#b8904a"/><stop offset="1" stop-color="#e78ac3"/></linearGradient><linearGradient id="sg10" gradientUnits="userSpaceOnUse" x1="291.8" y1="0" x2="450" y2="0"><stop offset="0" stop-color="#d2d2d2"/><stop offset="1" stop-color="#e78ac3"/></linearGradient><linearGradient id="sg11" gradientUnits="userSpaceOnUse" x1="291.8" y1="0" x2="450" y2="0"><stop offset="0" stop-color="#d2d2d2"/><stop offset="1" stop-color="#e78ac3"/></linearGradient><linearGradient id="sg12" gradientUnits="userSpaceOnUse" x1="291.8" y1="0" x2="450" y2="0"><stop offset="0" stop-color="#d2d2d2"/><stop offset="1" stop-color="#e78ac3"/></linearGradient><linearGradient id="sg13" gradientUnits="userSpaceOnUse" x1="291.8" y1="0" x2="450" y2="0"><stop offset="0" stop-color="#d2d2d2"/><stop offset="1" stop-color="#e78ac3"/></linearGradient><linearGradient id="sg14" gradientUnits="userSpaceOnUse" x1="291.8" y1="0" x2="450" y2="0"><stop offset="0" stop-color="#d2d2d2"/><stop offset="1" stop-color="#e78ac3"/></linearGradient><linearGradient id="sg15" gradientUnits="userSpaceOnUse" x1="291.8" y1="0" x2="450" y2="0"><stop offset="0" stop-color="#f0b43c"/><stop offset="1" stop-color="#e78ac3"/></linearGradient><linearGradient id="sg16" gradientUnits="userSpaceOnUse" x1="291.8" y1="0" x2="450" y2="0"><stop offset="0" stop-color="#d2d2d2"/><stop offset="1" stop-color="#e78ac3"/></linearGradient><linearGradient id="sg17" gradientUnits="userSpaceOnUse" x1="291.8" y1="0" x2="450" y2="0"><stop offset="0" stop-color="#d2d2d2"/><stop offset="1" stop-color="#e78ac3"/></linearGradient><linearGradient id="sg18" gradientUnits="userSpaceOnUse" x1="291.8" y1="0" x2="450" y2="0"><stop offset="0" stop-color="#d2d2d2"/><stop offset="1" stop-color="#e78ac3"/></linearGradient><linearGradient id="sg19" gradientUnits="userSpaceOnUse" x1="291.8" y1="0" x2="450" y2="0"><stop offset="0" stop-color="#d4ac10"/><stop offset="1" stop-color="#e78ac3"/></linearGradient><linearGradient id="sg20" gradientUnits="userSpaceOnUse" x1="291.8" y1="0" x2="450" y2="0"><stop offset="0" stop-color="#f0a848"/><stop offset="1" stop-color="#e78ac3"/></linearGradient><linearGradient id="sg21" gradientUnits="userSpaceOnUse" x1="291.8" y1="0" x2="450" y2="0"><stop offset="0" stop-color="#d2d2d2"/><stop offset="1" stop-color="#e78ac3"/></linearGradient><linearGradient id="sg22" gradientUnits="userSpaceOnUse" x1="291.8" y1="0" x2="450" y2="0"><stop offset="0" stop-color="#d2d2d2"/><stop offset="1" stop-color="#e78ac3"/></linearGradient><linearGradient id="sg23" gradientUnits="userSpaceOnUse" x1="291.8" y1="0" x2="450" y2="0"><stop offset="0" stop-color="#d2d2d2"/><stop offset="1" stop-color="#e78ac3"/></linearGradient><linearGradient id="sg24" gradientUnits="userSpaceOnUse" x1="291.8" y1="0" x2="450" y2="0"><stop offset="0" stop-color="#a87208"/><stop offset="1" stop-color="#93c39c"/></linearGradient><linearGradient id="sg25" gradientUnits="userSpaceOnUse" x1="291.8" y1="0" x2="450" y2="0"><stop offset="0" stop-color="#c17d0c"/><stop offset="1" stop-color="#93c39c"/></linearGradient><linearGradient id="sg26" gradientUnits="userSpaceOnUse" x1="291.8" y1="0" x2="450" y2="0"><stop offset="0" stop-color="#d98c0a"/><stop offset="1" stop-color="#93c39c"/></linearGradient><linearGradient id="sg27" gradientUnits="userSpaceOnUse" x1="291.8" y1="0" x2="450" y2="0"><stop offset="0" stop-color="#d4a40c"/><stop offset="1" stop-color="#93c39c"/></linearGradient><linearGradient id="sg28" gradientUnits="userSpaceOnUse" x1="291.8" y1="0" x2="450" y2="0"><stop offset="0" stop-color="#d2d2d2"/><stop offset="1" stop-color="#93c39c"/></linearGradient><linearGradient id="sg29" gradientUnits="userSpaceOnUse" x1="291.8" y1="0" x2="450" y2="0"><stop offset="0" stop-color="#d2d2d2"/><stop offset="1" stop-color="#93c39c"/></linearGradient><linearGradient id="sg30" gradientUnits="userSpaceOnUse" x1="291.8" y1="0" x2="450" y2="0"><stop offset="0" stop-color="#c8864a"/><stop offset="1" stop-color="#93c39c"/></linearGradient><linearGradient id="sg31" gradientUnits="userSpaceOnUse" x1="291.8" y1="0" x2="450" y2="0"><stop offset="0" stop-color="#d2d2d2"/><stop offset="1" stop-color="#93c39c"/></linearGradient><linearGradient id="sg32" gradientUnits="userSpaceOnUse" x1="291.8" y1="0" x2="450" y2="0"><stop offset="0" stop-color="#b8904a"/><stop offset="1" stop-color="#93c39c"/></linearGradient><linearGradient id="sg33" gradientUnits="userSpaceOnUse" x1="291.8" y1="0" x2="450" y2="0"><stop offset="0" stop-color="#d2d2d2"/><stop offset="1" stop-color="#93c39c"/></linearGradient><linearGradient id="sg34" gradientUnits="userSpaceOnUse" x1="291.8" y1="0" x2="450" y2="0"><stop offset="0" stop-color="#d2d2d2"/><stop offset="1" stop-color="#93c39c"/></linearGradient><linearGradient id="sg35" gradientUnits="userSpaceOnUse" x1="291.8" y1="0" x2="450" y2="0"><stop offset="0" stop-color="#d2d2d2"/><stop offset="1" stop-color="#93c39c"/></linearGradient><linearGradient id="sg36" gradientUnits="userSpaceOnUse" x1="291.8" y1="0" x2="450" y2="0"><stop offset="0" stop-color="#d2d2d2"/><stop offset="1" stop-color="#93c39c"/></linearGradient><linearGradient id="sg37" gradientUnits="userSpaceOnUse" x1="291.8" y1="0" x2="450" y2="0"><stop offset="0" stop-color="#d2d2d2"/><stop offset="1" stop-color="#93c39c"/></linearGradient><linearGradient id="sg38" gradientUnits="userSpaceOnUse" x1="291.8" y1="0" x2="450" y2="0"><stop offset="0" stop-color="#f0b43c"/><stop offset="1" stop-color="#93c39c"/></linearGradient><linearGradient id="sg39" gradientUnits="userSpaceOnUse" x1="291.8" y1="0" x2="450" y2="0"><stop offset="0" stop-color="#d2d2d2"/><stop offset="1" stop-color="#93c39c"/></linearGradient><linearGradient id="sg40" gradientUnits="userSpaceOnUse" x1="291.8" y1="0" x2="450" y2="0"><stop offset="0" stop-color="#d2d2d2"/><stop offset="1" stop-color="#93c39c"/></linearGradient><linearGradient id="sg41" gradientUnits="userSpaceOnUse" x1="291.8" y1="0" x2="450" y2="0"><stop offset="0" stop-color="#d2d2d2"/><stop offset="1" stop-color="#93c39c"/></linearGradient><linearGradient id="sg42" gradientUnits="userSpaceOnUse" x1="291.8" y1="0" x2="450" y2="0"><stop offset="0" stop-color="#d4ac10"/><stop offset="1" stop-color="#93c39c"/></linearGradient><linearGradient id="sg43" gradientUnits="userSpaceOnUse" x1="291.8" y1="0" x2="450" y2="0"><stop offset="0" stop-color="#f0a848"/><stop offset="1" stop-color="#93c39c"/></linearGradient><linearGradient id="sg44" gradientUnits="userSpaceOnUse" x1="291.8" y1="0" x2="450" y2="0"><stop offset="0" stop-color="#d2d2d2"/><stop offset="1" stop-color="#93c39c"/></linearGradient><linearGradient id="sg45" gradientUnits="userSpaceOnUse" x1="291.8" y1="0" x2="450" y2="0"><stop offset="0" stop-color="#d2d2d2"/><stop offset="1" stop-color="#93c39c"/></linearGradient><linearGradient id="sg46" gradientUnits="userSpaceOnUse" x1="291.8" y1="0" x2="450" y2="0"><stop offset="0" stop-color="#d2d2d2"/><stop offset="1" stop-color="#93c39c"/></linearGradient><linearGradient id="sg47" gradientUnits="userSpaceOnUse" x1="291.8" y1="0" x2="450" y2="0"><stop offset="0" stop-color="#a87208"/><stop offset="1" stop-color="#b7cdf6"/></linearGradient><linearGradient id="sg48" gradientUnits="userSpaceOnUse" x1="291.8" y1="0" x2="450" y2="0"><stop offset="0" stop-color="#c17d0c"/><stop offset="1" stop-color="#b7cdf6"/></linearGradient><linearGradient id="sg49" gradientUnits="userSpaceOnUse" x1="291.8" y1="0" x2="450" y2="0"><stop offset="0" stop-color="#d98c0a"/><stop offset="1" stop-color="#b7cdf6"/></linearGradient><linearGradient id="sg50" gradientUnits="userSpaceOnUse" x1="291.8" y1="0" x2="450" y2="0"><stop offset="0" stop-color="#d4a40c"/><stop offset="1" stop-color="#b7cdf6"/></linearGradient><linearGradient id="sg51" gradientUnits="userSpaceOnUse" x1="291.8" y1="0" x2="450" y2="0"><stop offset="0" stop-color="#d2d2d2"/><stop offset="1" stop-color="#b7cdf6"/></linearGradient><linearGradient id="sg52" gradientUnits="userSpaceOnUse" x1="291.8" y1="0" x2="450" y2="0"><stop offset="0" stop-color="#d2d2d2"/><stop offset="1" stop-color="#b7cdf6"/></linearGradient><linearGradient id="sg53" gradientUnits="userSpaceOnUse" x1="291.8" y1="0" x2="450" y2="0"><stop offset="0" stop-color="#c8864a"/><stop offset="1" stop-color="#b7cdf6"/></linearGradient><linearGradient id="sg54" gradientUnits="userSpaceOnUse" x1="291.8" y1="0" x2="450" y2="0"><stop offset="0" stop-color="#d2d2d2"/><stop offset="1" stop-color="#b7cdf6"/></linearGradient><linearGradient id="sg55" gradientUnits="userSpaceOnUse" x1="291.8" y1="0" x2="450" y2="0"><stop offset="0" stop-color="#b8904a"/><stop offset="1" stop-color="#b7cdf6"/></linearGradient><linearGradient id="sg56" gradientUnits="userSpaceOnUse" x1="291.8" y1="0" x2="450" y2="0"><stop offset="0" stop-color="#d2d2d2"/><stop offset="1" stop-color="#b7cdf6"/></linearGradient><linearGradient id="sg57" gradientUnits="userSpaceOnUse" x1="291.8" y1="0" x2="450" y2="0"><stop offset="0" stop-color="#d2d2d2"/><stop offset="1" stop-color="#b7cdf6"/></linearGradient><linearGradient id="sg58" gradientUnits="userSpaceOnUse" x1="291.8" y1="0" x2="450" y2="0"><stop offset="0" stop-color="#d2d2d2"/><stop offset="1" stop-color="#b7cdf6"/></linearGradient><linearGradient id="sg59" gradientUnits="userSpaceOnUse" x1="291.8" y1="0" x2="450" y2="0"><stop offset="0" stop-color="#d2d2d2"/><stop offset="1" stop-color="#b7cdf6"/></linearGradient><linearGradient id="sg60" gradientUnits="userSpaceOnUse" x1="291.8" y1="0" x2="450" y2="0"><stop offset="0" stop-color="#d2d2d2"/><stop offset="1" stop-color="#b7cdf6"/></linearGradient><linearGradient id="sg61" gradientUnits="userSpaceOnUse" x1="291.8" y1="0" x2="450" y2="0"><stop offset="0" stop-color="#f0b43c"/><stop offset="1" stop-color="#b7cdf6"/></linearGradient><linearGradient id="sg62" gradientUnits="userSpaceOnUse" x1="291.8" y1="0" x2="450" y2="0"><stop offset="0" stop-color="#d2d2d2"/><stop offset="1" stop-color="#b7cdf6"/></linearGradient><linearGradient id="sg63" gradientUnits="userSpaceOnUse" x1="291.8" y1="0" x2="450" y2="0"><stop offset="0" stop-color="#d2d2d2"/><stop offset="1" stop-color="#b7cdf6"/></linearGradient><linearGradient id="sg64" gradientUnits="userSpaceOnUse" x1="291.8" y1="0" x2="450" y2="0"><stop offset="0" stop-color="#d2d2d2"/><stop offset="1" stop-color="#b7cdf6"/></linearGradient><linearGradient id="sg65" gradientUnits="userSpaceOnUse" x1="291.8" y1="0" x2="450" y2="0"><stop offset="0" stop-color="#d4ac10"/><stop offset="1" stop-color="#b7cdf6"/></linearGradient><linearGradient id="sg66" gradientUnits="userSpaceOnUse" x1="291.8" y1="0" x2="450" y2="0"><stop offset="0" stop-color="#f0a848"/><stop offset="1" stop-color="#b7cdf6"/></linearGradient><linearGradient id="sg67" gradientUnits="userSpaceOnUse" x1="291.8" y1="0" x2="450" y2="0"><stop offset="0" stop-color="#d2d2d2"/><stop offset="1" stop-color="#b7cdf6"/></linearGradient><linearGradient id="sg68" gradientUnits="userSpaceOnUse" x1="291.8" y1="0" x2="450" y2="0"><stop offset="0" stop-color="#d2d2d2"/><stop offset="1" stop-color="#b7cdf6"/></linearGradient><linearGradient id="sg69" gradientUnits="userSpaceOnUse" x1="291.8" y1="0" x2="450" y2="0"><stop offset="0" stop-color="#d2d2d2"/><stop offset="1" stop-color="#b7cdf6"/></linearGradient><linearGradient id="sg70" gradientUnits="userSpaceOnUse" x1="457.2" y1="0" x2="616.3" y2="0"><stop offset="0" stop-color="#e78ac3"/><stop offset="1" stop-color="#e38ac9"/></linearGradient><linearGradient id="sg71" gradientUnits="userSpaceOnUse" x1="457.2" y1="0" x2="616.3" y2="0"><stop offset="0" stop-color="#e78ac3"/><stop offset="1" stop-color="#e8a0a0"/></linearGradient><linearGradient id="sg72" gradientUnits="userSpaceOnUse" x1="457.2" y1="0" x2="616.3" y2="0"><stop offset="0" stop-color="#93c39c"/><stop offset="1" stop-color="#6aaa5a"/></linearGradient><linearGradient id="sg73" gradientUnits="userSpaceOnUse" x1="457.2" y1="0" x2="616.3" y2="0"><stop offset="0" stop-color="#93c39c"/><stop offset="1" stop-color="#b8e08a"/></linearGradient><linearGradient id="sg74" gradientUnits="userSpaceOnUse" x1="457.2" y1="0" x2="616.3" y2="0"><stop offset="0" stop-color="#b7cdf6"/><stop offset="1" stop-color="#5b7f9b"/></linearGradient><linearGradient id="sg75" gradientUnits="userSpaceOnUse" x1="457.2" y1="0" x2="616.3" y2="0"><stop offset="0" stop-color="#b7cdf6"/><stop offset="1" stop-color="#3f8fae"/></linearGradient><linearGradient id="sg76" gradientUnits="userSpaceOnUse" x1="457.2" y1="0" x2="616.3" y2="0"><stop offset="0" stop-color="#b7cdf6"/><stop offset="1" stop-color="#a694ef"/></linearGradient><linearGradient id="sg77" gradientUnits="userSpaceOnUse" x1="457.2" y1="0" x2="616.3" y2="0"><stop offset="0" stop-color="#b7cdf6"/><stop offset="1" stop-color="#4cc0e6"/></linearGradient><linearGradient id="sg78" gradientUnits="userSpaceOnUse" x1="457.2" y1="0" x2="616.3" y2="0"><stop offset="0" stop-color="#b7cdf6"/><stop offset="1" stop-color="#2f4f9f"/></linearGradient><linearGradient id="sg79" gradientUnits="userSpaceOnUse" x1="457.2" y1="0" x2="616.3" y2="0"><stop offset="0" stop-color="#b7cdf6"/><stop offset="1" stop-color="#4a92e2"/></linearGradient><linearGradient id="sg80" gradientUnits="userSpaceOnUse" x1="457.2" y1="0" x2="616.3" y2="0"><stop offset="0" stop-color="#b7cdf6"/><stop offset="1" stop-color="#5d7f99"/></linearGradient></defs>
<path d="M291.8 205.49 C370.9 205.49 370.9 191.10 450 191.10 L450 196.17 C370.9 196.17 370.9 210.40 291.8 210.40 Z" fill="url(#sg1)" fill-opacity="0.45"/>
<path d="M291.8 179.45 C370.9 179.45 370.9 196.17 450 196.17 L450 209.69 C370.9 209.69 370.9 192.70 291.8 192.70 Z" fill="url(#sg2)" fill-opacity="0.45"/>
<path d="M291.8 222.26 C370.9 222.26 370.9 209.69 450 209.69 L450 213.07 C370.9 213.07 370.9 225.40 291.8 225.40 Z" fill="url(#sg3)" fill-opacity="0.45"/>
<path d="M291.8 239.55 C370.9 239.55 370.9 213.07 450 213.07 L450 213.91 C370.9 213.91 370.9 240.40 291.8 240.40 Z" fill="url(#sg4)" fill-opacity="0.45"/>
<path d="M291.8 253.90 C370.9 253.90 370.9 213.91 450 213.91 L450 214.76 C370.9 214.76 370.9 254.80 291.8 254.80 Z" fill="url(#sg5)" fill-opacity="0.45"/>
<path d="M291.8 266.04 C370.9 266.04 370.9 214.76 450 214.76 L450 215.60 C370.9 215.60 370.9 266.90 291.8 266.90 Z" fill="url(#sg6)" fill-opacity="0.45"/>
<path d="M291.8 276.09 C370.9 276.09 370.9 215.60 450 215.60 L450 218.13 C370.9 218.13 370.9 278.70 291.8 278.70 Z" fill="url(#sg7)" fill-opacity="0.45"/>
<path d="M291.8 285.25 C370.9 285.25 370.9 218.13 450 218.13 L450 221.51 C370.9 221.51 370.9 288.40 291.8 288.40 Z" fill="url(#sg8)" fill-opacity="0.45"/>
<path d="M291.8 296.65 C370.9 296.65 370.9 221.51 450 221.51 L450 223.20 C370.9 223.20 370.9 298.20 291.8 298.20 Z" fill="url(#sg9)" fill-opacity="0.45"/>
<path d="M291.8 306.66 C370.9 306.66 370.9 223.20 450 223.20 L450 224.89 C370.9 224.89 370.9 308.40 291.8 308.40 Z" fill="url(#sg10)" fill-opacity="0.45"/>
<path d="M291.8 315.20 C370.9 315.20 370.9 224.89 450 224.89 L450 226.58 C370.9 226.58 370.9 316.80 291.8 316.80 Z" fill="url(#sg11)" fill-opacity="0.45"/>
<path d="M291.8 324.10 C370.9 324.10 370.9 226.58 450 226.58 L450 227.43 C370.9 227.43 370.9 325.00 291.8 325.00 Z" fill="url(#sg12)" fill-opacity="0.45"/>
<path d="M291.8 331.70 C370.9 331.70 370.9 227.43 450 227.43 L450 228.27 C370.9 228.27 370.9 332.60 291.8 332.60 Z" fill="url(#sg13)" fill-opacity="0.45"/>
<path d="M291.8 337.38 C370.9 337.38 370.9 228.27 450 228.27 L450 230.81 C370.9 230.81 370.9 339.90 291.8 339.90 Z" fill="url(#sg14)" fill-opacity="0.45"/>
<path d="M291.8 346.25 C370.9 346.25 370.9 230.81 450 230.81 L450 231.65 C370.9 231.65 370.9 347.30 291.8 347.30 Z" fill="url(#sg15)" fill-opacity="0.45"/>
<path d="M291.8 353.12 C370.9 353.12 370.9 231.65 450 231.65 L450 232.50 C370.9 232.50 370.9 354.10 291.8 354.10 Z" fill="url(#sg16)" fill-opacity="0.45"/>
<path d="M291.8 358.95 C370.9 358.95 370.9 232.50 450 232.50 L450 234.19 C370.9 234.19 370.9 360.90 291.8 360.90 Z" fill="url(#sg17)" fill-opacity="0.45"/>
<path d="M291.8 365.55 C370.9 365.55 370.9 234.19 450 234.19 L450 235.88 C370.9 235.88 370.9 367.50 291.8 367.50 Z" fill="url(#sg18)" fill-opacity="0.45"/>
<path d="M291.8 372.67 C370.9 372.67 370.9 235.88 450 235.88 L450 236.72 C370.9 236.72 370.9 373.80 291.8 373.80 Z" fill="url(#sg19)" fill-opacity="0.45"/>
<path d="M291.8 378.73 C370.9 378.73 370.9 236.72 450 236.72 L450 237.57 C370.9 237.57 370.9 379.90 291.8 379.90 Z" fill="url(#sg20)" fill-opacity="0.45"/>
<path d="M291.8 384.63 C370.9 384.63 370.9 237.57 450 237.57 L450 238.41 C370.9 238.41 370.9 385.70 291.8 385.70 Z" fill="url(#sg21)" fill-opacity="0.45"/>
<path d="M291.8 390.63 C370.9 390.63 370.9 238.41 450 238.41 L450 239.26 C370.9 239.26 370.9 391.70 291.8 391.70 Z" fill="url(#sg22)" fill-opacity="0.45"/>
<path d="M291.8 396.57 C370.9 396.57 370.9 239.26 450 239.26 L450 240.10 C370.9 240.10 370.9 397.70 291.8 397.70 Z" fill="url(#sg23)" fill-opacity="0.45"/>
<path d="M291.8 203.86 C370.9 203.86 370.9 243.70 450 243.70 L450 245.37 C370.9 245.37 370.9 205.49 291.8 205.49 Z" fill="url(#sg24)" fill-opacity="0.45"/>
<path d="M291.8 177.80 C370.9 177.80 370.9 245.37 450 245.37 L450 247.05 C370.9 247.05 370.9 179.45 291.8 179.45 Z" fill="url(#sg25)" fill-opacity="0.45"/>
<path d="M291.8 215.97 C370.9 215.97 370.9 247.05 450 247.05 L450 253.75 C370.9 253.75 370.9 222.26 291.8 222.26 Z" fill="url(#sg26)" fill-opacity="0.45"/>
<path d="M291.8 233.57 C370.9 233.57 370.9 253.75 450 253.75 L450 259.60 C370.9 259.60 370.9 239.55 291.8 239.55 Z" fill="url(#sg27)" fill-opacity="0.45"/>
<path d="M291.8 245.80 C370.9 245.80 370.9 259.60 450 259.60 L450 267.14 C370.9 267.14 370.9 253.90 291.8 253.90 Z" fill="url(#sg28)" fill-opacity="0.45"/>
<path d="M291.8 264.31 C370.9 264.31 370.9 267.14 450 267.14 L450 268.81 C370.9 268.81 370.9 266.04 291.8 266.04 Z" fill="url(#sg29)" fill-opacity="0.45"/>
<path d="M291.8 270.87 C370.9 270.87 370.9 268.81 450 268.81 L450 273.84 C370.9 273.84 370.9 276.09 291.8 276.09 Z" fill="url(#sg30)" fill-opacity="0.45"/>
<path d="M291.8 282.89 C370.9 282.89 370.9 273.84 450 273.84 L450 276.35 C370.9 276.35 370.9 285.25 291.8 285.25 Z" fill="url(#sg31)" fill-opacity="0.45"/>
<path d="M291.8 293.55 C370.9 293.55 370.9 276.35 450 276.35 L450 279.70 C370.9 279.70 370.9 296.65 291.8 296.65 Z" fill="url(#sg32)" fill-opacity="0.45"/>
<path d="M291.8 305.79 C370.9 305.79 370.9 279.70 450 279.70 L450 280.53 C370.9 280.53 370.9 306.66 291.8 306.66 Z" fill="url(#sg33)" fill-opacity="0.45"/>
<path d="M291.8 313.60 C370.9 313.60 370.9 280.53 450 280.53 L450 282.21 C370.9 282.21 370.9 315.20 291.8 315.20 Z" fill="url(#sg34)" fill-opacity="0.45"/>
<path d="M291.8 321.40 C370.9 321.40 370.9 282.21 450 282.21 L450 284.72 C370.9 284.72 370.9 324.10 291.8 324.10 Z" fill="url(#sg35)" fill-opacity="0.45"/>
<path d="M291.8 329.90 C370.9 329.90 370.9 284.72 450 284.72 L450 286.39 C370.9 286.39 370.9 331.70 291.8 331.70 Z" fill="url(#sg36)" fill-opacity="0.45"/>
<path d="M291.8 336.54 C370.9 336.54 370.9 286.39 450 286.39 L450 287.23 C370.9 287.23 370.9 337.38 291.8 337.38 Z" fill="url(#sg37)" fill-opacity="0.45"/>
<path d="M291.8 345.20 C370.9 345.20 370.9 287.23 450 287.23 L450 288.07 C370.9 288.07 370.9 346.25 291.8 346.25 Z" fill="url(#sg38)" fill-opacity="0.45"/>
<path d="M291.8 351.18 C370.9 351.18 370.9 288.07 450 288.07 L450 289.74 C370.9 289.74 370.9 353.12 291.8 353.12 Z" fill="url(#sg39)" fill-opacity="0.45"/>
<path d="M291.8 357.98 C370.9 357.98 370.9 289.74 450 289.74 L450 290.58 C370.9 290.58 370.9 358.95 291.8 358.95 Z" fill="url(#sg40)" fill-opacity="0.45"/>
<path d="M291.8 364.58 C370.9 364.58 370.9 290.58 450 290.58 L450 291.41 C370.9 291.41 370.9 365.55 291.8 365.55 Z" fill="url(#sg41)" fill-opacity="0.45"/>
<path d="M291.8 371.53 C370.9 371.53 370.9 291.41 450 291.41 L450 292.25 C370.9 292.25 370.9 372.67 291.8 372.67 Z" fill="url(#sg42)" fill-opacity="0.45"/>
<path d="M291.8 377.57 C370.9 377.57 370.9 292.25 450 292.25 L450 293.09 C370.9 293.09 370.9 378.73 291.8 378.73 Z" fill="url(#sg43)" fill-opacity="0.45"/>
<path d="M291.8 383.57 C370.9 383.57 370.9 293.09 450 293.09 L450 293.93 C370.9 293.93 370.9 384.63 291.8 384.63 Z" fill="url(#sg44)" fill-opacity="0.45"/>
<path d="M291.8 389.57 C370.9 389.57 370.9 293.93 450 293.93 L450 294.76 C370.9 294.76 370.9 390.63 291.8 390.63 Z" fill="url(#sg45)" fill-opacity="0.45"/>
<path d="M291.8 395.43 C370.9 395.43 370.9 294.76 450 294.76 L450 295.60 C370.9 295.60 370.9 396.57 291.8 396.57 Z" fill="url(#sg46)" fill-opacity="0.45"/>
<path d="M291.8 196.50 C370.9 196.50 370.9 299.00 450 299.00 L450 306.50 C370.9 306.50 370.9 203.86 291.8 203.86 Z" fill="url(#sg47)" fill-opacity="0.45"/>
<path d="M291.8 157.10 C370.9 157.10 370.9 306.50 450 306.50 L450 327.33 C370.9 327.33 370.9 177.80 291.8 177.80 Z" fill="url(#sg48)" fill-opacity="0.45"/>
<path d="M291.8 214.40 C370.9 214.40 370.9 327.33 450 327.33 L450 329.00 C370.9 329.00 370.9 215.97 291.8 215.97 Z" fill="url(#sg49)" fill-opacity="0.45"/>
<path d="M291.8 229.30 C370.9 229.30 370.9 329.00 450 329.00 L450 333.17 C370.9 333.17 370.9 233.57 291.8 233.57 Z" fill="url(#sg50)" fill-opacity="0.45"/>
<path d="M291.8 244.00 C370.9 244.00 370.9 333.17 450 333.17 L450 334.83 C370.9 334.83 370.9 245.80 291.8 245.80 Z" fill="url(#sg51)" fill-opacity="0.45"/>
<path d="M291.8 257.40 C370.9 257.40 370.9 334.83 450 334.83 L450 341.50 C370.9 341.50 370.9 264.31 291.8 264.31 Z" fill="url(#sg52)" fill-opacity="0.45"/>
<path d="M291.8 270.00 C370.9 270.00 370.9 341.50 450 341.50 L450 342.33 C370.9 342.33 370.9 270.87 291.8 270.87 Z" fill="url(#sg53)" fill-opacity="0.45"/>
<path d="M291.8 282.10 C370.9 282.10 370.9 342.33 450 342.33 L450 343.17 C370.9 343.17 370.9 282.89 291.8 282.89 Z" fill="url(#sg54)" fill-opacity="0.45"/>
<path d="M291.8 292.00 C370.9 292.00 370.9 343.17 450 343.17 L450 344.83 C370.9 344.83 370.9 293.55 291.8 293.55 Z" fill="url(#sg55)" fill-opacity="0.45"/>
<path d="M291.8 302.30 C370.9 302.30 370.9 344.83 450 344.83 L450 348.17 C370.9 348.17 370.9 305.79 291.8 305.79 Z" fill="url(#sg56)" fill-opacity="0.45"/>
<path d="M291.8 312.00 C370.9 312.00 370.9 348.17 450 348.17 L450 349.83 C370.9 349.83 370.9 313.60 291.8 313.60 Z" fill="url(#sg57)" fill-opacity="0.45"/>
<path d="M291.8 320.50 C370.9 320.50 370.9 349.83 450 349.83 L450 350.67 C370.9 350.67 370.9 321.40 291.8 321.40 Z" fill="url(#sg58)" fill-opacity="0.45"/>
<path d="M291.8 328.10 C370.9 328.10 370.9 350.67 450 350.67 L450 352.33 C370.9 352.33 370.9 329.90 291.8 329.90 Z" fill="url(#sg59)" fill-opacity="0.45"/>
<path d="M291.8 335.70 C370.9 335.70 370.9 352.33 450 352.33 L450 353.17 C370.9 353.17 370.9 336.54 291.8 336.54 Z" fill="url(#sg60)" fill-opacity="0.45"/>
<path d="M291.8 343.10 C370.9 343.10 370.9 353.17 450 353.17 L450 354.83 C370.9 354.83 370.9 345.20 291.8 345.20 Z" fill="url(#sg61)" fill-opacity="0.45"/>
<path d="M291.8 350.20 C370.9 350.20 370.9 354.83 450 354.83 L450 355.67 C370.9 355.67 370.9 351.18 291.8 351.18 Z" fill="url(#sg62)" fill-opacity="0.45"/>
<path d="M291.8 357.00 C370.9 357.00 370.9 355.67 450 355.67 L450 356.50 C370.9 356.50 370.9 357.98 291.8 357.98 Z" fill="url(#sg63)" fill-opacity="0.45"/>
<path d="M291.8 363.60 C370.9 363.60 370.9 356.50 450 356.50 L450 357.33 C370.9 357.33 370.9 364.58 291.8 364.58 Z" fill="url(#sg64)" fill-opacity="0.45"/>
<path d="M291.8 370.40 C370.9 370.40 370.9 357.33 450 357.33 L450 358.17 C370.9 358.17 370.9 371.53 291.8 371.53 Z" fill="url(#sg65)" fill-opacity="0.45"/>
<path d="M291.8 376.40 C370.9 376.40 370.9 358.17 450 358.17 L450 359.00 C370.9 359.00 370.9 377.57 291.8 377.57 Z" fill="url(#sg66)" fill-opacity="0.45"/>
<path d="M291.8 382.50 C370.9 382.50 370.9 359.00 450 359.00 L450 359.83 C370.9 359.83 370.9 383.57 291.8 383.57 Z" fill="url(#sg67)" fill-opacity="0.45"/>
<path d="M291.8 388.50 C370.9 388.50 370.9 359.83 450 359.83 L450 360.67 C370.9 360.67 370.9 389.57 291.8 389.57 Z" fill="url(#sg68)" fill-opacity="0.45"/>
<path d="M291.8 394.30 C370.9 394.30 370.9 360.67 450 360.67 L450 361.50 C370.9 361.50 370.9 395.43 291.8 395.43 Z" fill="url(#sg69)" fill-opacity="0.45"/>
<path d="M457.2 191.10 C536.8 191.10 536.8 159.70 616.3 159.70 L616.3 201.90 C536.8 201.90 536.8 234.54 457.2 234.54 Z" fill="url(#sg70)" fill-opacity="0.45"/>
<path d="M457.2 234.54 C536.8 234.54 536.8 205.40 616.3 205.40 L616.3 210.80 C536.8 210.80 536.8 240.10 457.2 240.10 Z" fill="url(#sg71)" fill-opacity="0.45"/>
<path d="M457.2 243.70 C536.8 243.70 536.8 214.40 616.3 214.40 L616.3 259.80 C536.8 259.80 536.8 290.17 457.2 290.17 Z" fill="url(#sg72)" fill-opacity="0.45"/>
<path d="M457.2 290.17 C536.8 290.17 536.8 264.50 616.3 264.50 L616.3 269.80 C536.8 269.80 536.8 295.60 457.2 295.60 Z" fill="url(#sg73)" fill-opacity="0.45"/>
<path d="M457.2 299.00 C536.8 299.00 536.8 273.40 616.3 273.40 L616.3 283.00 C536.8 283.00 536.8 308.62 457.2 308.62 Z" fill="url(#sg74)" fill-opacity="0.45"/>
<path d="M457.2 308.62 C536.8 308.62 536.8 286.10 616.3 286.10 L616.3 290.00 C536.8 290.00 536.8 312.52 457.2 312.52 Z" fill="url(#sg75)" fill-opacity="0.45"/>
<path d="M457.2 312.52 C536.8 312.52 536.8 294.30 616.3 294.30 L616.3 298.20 C536.8 298.20 536.8 316.43 457.2 316.43 Z" fill="url(#sg76)" fill-opacity="0.45"/>
<path d="M457.2 316.43 C536.8 316.43 536.8 301.50 616.3 301.50 L616.3 304.70 C536.8 304.70 536.8 319.63 457.2 319.63 Z" fill="url(#sg77)" fill-opacity="0.45"/>
<path d="M457.2 319.63 C536.8 319.63 536.8 307.90 616.3 307.90 L616.3 322.90 C536.8 322.90 536.8 334.66 457.2 334.66 Z" fill="url(#sg78)" fill-opacity="0.45"/>
<path d="M457.2 334.66 C536.8 334.66 536.8 339.00 616.3 339.00 L616.3 358.00 C536.8 358.00 536.8 353.69 457.2 353.69 Z" fill="url(#sg79)" fill-opacity="0.45"/>
<path d="M457.2 353.69 C536.8 353.69 536.8 362.30 616.3 362.30 L616.3 370.10 C536.8 370.10 536.8 361.50 457.2 361.50 Z" fill="url(#sg80)" fill-opacity="0.45"/>
<rect x="284.5" y="157.1" width="7.3" height="35.60" fill="#c17d0c" stroke="#555" stroke-width="0.5"/>
<text x="294.30" y="177.50" font-size="7.6" fill="#111" text-anchor="start" font-weight="normal" font-family="'Liberation Serif', 'Times New Roman', serif" stroke="#111" stroke-width="0.1">P1</text>
<text x="305.80" y="176.60" font-size="4.8" fill="#d6246c" text-anchor="start" font-weight="bold" font-family="'Liberation Serif', 'Times New Roman', serif"  textLength="12.5" lengthAdjust="spacingAndGlyphs">IncX1</text>
<text x="323.80" y="176.60" font-size="4.8" fill="#111" text-anchor="start" font-weight="bold" font-family="'Liberation Serif', 'Times New Roman', serif"  textLength="14" lengthAdjust="spacingAndGlyphs">(n=43)</text>
<rect x="284.5" y="196.5" width="7.3" height="13.90" fill="#a87208" stroke="#555" stroke-width="0.5"/>
<text x="294.30" y="206.05" font-size="7.6" fill="#111" text-anchor="start" font-weight="normal" font-family="'Liberation Serif', 'Times New Roman', serif" stroke="#111" stroke-width="0.1">P6</text>
<text x="306.00" y="205.15" font-size="4.8" fill="#d6246c" text-anchor="start" font-weight="bold" font-family="'Liberation Serif', 'Times New Roman', serif"  textLength="12.5" lengthAdjust="spacingAndGlyphs">IncX1</text>
<text x="324.50" y="205.15" font-size="4.8" fill="#111" text-anchor="start" font-weight="bold" font-family="'Liberation Serif', 'Times New Roman', serif"  textLength="14" lengthAdjust="spacingAndGlyphs">(n=17)</text>
<rect x="284.5" y="214.4" width="7.3" height="11.00" fill="#d98c0a" stroke="#555" stroke-width="0.5"/>
<text x="294.30" y="222.50" font-size="7.6" fill="#111" text-anchor="start" font-weight="normal" font-family="'Liberation Serif', 'Times New Roman', serif" stroke="#111" stroke-width="0.1">P7</text>
<text x="306.00" y="221.60" font-size="4.8" fill="#d6246c" text-anchor="start" font-weight="bold" font-family="'Liberation Serif', 'Times New Roman', serif"  textLength="10.9" lengthAdjust="spacingAndGlyphs">IncI1</text>
<text x="324.50" y="221.60" font-size="4.8" fill="#111" text-anchor="start" font-weight="bold" font-family="'Liberation Serif', 'Times New Roman', serif"  textLength="14" lengthAdjust="spacingAndGlyphs">(n=14)</text>
<rect x="284.5" y="229.3" width="7.3" height="11.10" fill="#d4a40c" stroke="#555" stroke-width="0.5"/>
<text x="294.30" y="237.45" font-size="7.6" fill="#111" text-anchor="start" font-weight="normal" font-family="'Liberation Serif', 'Times New Roman', serif" stroke="#111" stroke-width="0.1">P9</text>
<text x="306.00" y="236.55" font-size="4.8" fill="#d6246c" text-anchor="start" font-weight="bold" font-family="'Liberation Serif', 'Times New Roman', serif"  textLength="12.5" lengthAdjust="spacingAndGlyphs">IncX1</text>
<text x="324.50" y="236.55" font-size="4.8" fill="#111" text-anchor="start" font-weight="bold" font-family="'Liberation Serif', 'Times New Roman', serif"  textLength="14" lengthAdjust="spacingAndGlyphs">(n=13)</text>
<rect x="284.5" y="244" width="7.3" height="10.80" fill="#d2d2d2" stroke="#555" stroke-width="0.5"/>
<text x="294.30" y="252.00" font-size="7.6" fill="#111" text-anchor="start" font-weight="normal" font-family="'Liberation Serif', 'Times New Roman', serif" stroke="#111" stroke-width="0.1">P11</text>
<text x="306.00" y="251.10" font-size="4.8" fill="#d6246c" text-anchor="start" font-weight="bold" font-family="'Liberation Serif', 'Times New Roman', serif"  textLength="12.8" lengthAdjust="spacingAndGlyphs">IncQ1</text>
<text x="324.50" y="251.10" font-size="4.8" fill="#111" text-anchor="start" font-weight="bold" font-family="'Liberation Serif', 'Times New Roman', serif"  textLength="14" lengthAdjust="spacingAndGlyphs">(n=12)</text>
<rect x="284.5" y="257.4" width="7.3" height="9.50" fill="#d2d2d2" stroke="#555" stroke-width="0.5"/>
<text x="294.30" y="264.75" font-size="7.6" fill="#111" text-anchor="start" font-weight="normal" font-family="'Liberation Serif', 'Times New Roman', serif" stroke="#111" stroke-width="0.1">P12</text>
<text x="307.00" y="263.85" font-size="4.8" fill="#d6246c" text-anchor="start" font-weight="bold" font-family="'Liberation Serif', 'Times New Roman', serif"  textLength="57.5" lengthAdjust="spacingAndGlyphs">IncFIB(AP001918), IncFIC(FII)</text>
<text x="371.90" y="263.85" font-size="4.8" fill="#111" text-anchor="start" font-weight="bold" font-family="'Liberation Serif', 'Times New Roman', serif"  textLength="14" lengthAdjust="spacingAndGlyphs">(n=11)</text>
<rect x="284.5" y="270" width="7.3" height="8.70" fill="#c8864a" stroke="#555" stroke-width="0.5"/>
<text x="294.30" y="276.95" font-size="7.6" fill="#111" text-anchor="start" font-weight="normal" font-family="'Liberation Serif', 'Times New Roman', serif" stroke="#111" stroke-width="0.1">P15</text>
<text x="307.00" y="276.05" font-size="4.8" fill="#d6246c" text-anchor="start" font-weight="bold" font-family="'Liberation Serif', 'Times New Roman', serif"  textLength="73" lengthAdjust="spacingAndGlyphs">IncFIB(AP001918), IncFIC(FII), IncFIA</text>
<text x="386.00" y="276.05" font-size="4.8" fill="#111" text-anchor="start" font-weight="bold" font-family="'Liberation Serif', 'Times New Roman', serif"  textLength="14" lengthAdjust="spacingAndGlyphs">(n=10)</text>
<rect x="284.5" y="282.1" width="7.3" height="6.30" fill="#d2d2d2" stroke="#555" stroke-width="0.5"/>
<text x="294.30" y="287.85" font-size="7.6" fill="#111" text-anchor="start" font-weight="normal" font-family="'Liberation Serif', 'Times New Roman', serif" stroke="#111" stroke-width="0.1">P22</text>
<text x="307.30" y="286.95" font-size="4.8" fill="#8a8a8a" text-anchor="start" font-weight="bold" font-family="'Liberation Serif', 'Times New Roman', serif"  textLength="20" lengthAdjust="spacingAndGlyphs">Unknown</text>
<text x="333.00" y="286.95" font-size="4.8" fill="#111" text-anchor="start" font-weight="bold" font-family="'Liberation Serif', 'Times New Roman', serif"  textLength="11" lengthAdjust="spacingAndGlyphs">(n=8)</text>
<rect x="284.5" y="292" width="7.3" height="6.20" fill="#b8904a" stroke="#555" stroke-width="0.5"/>
<text x="294.30" y="297.70" font-size="7.6" fill="#111" text-anchor="start" font-weight="normal" font-family="'Liberation Serif', 'Times New Roman', serif" stroke="#111" stroke-width="0.1">P24</text>
<text x="307.00" y="296.80" font-size="4.8" fill="#d6246c" text-anchor="start" font-weight="bold" font-family="'Liberation Serif', 'Times New Roman', serif"  textLength="30.9" lengthAdjust="spacingAndGlyphs">IncHI2A, IncHI2</text>
<text x="343.00" y="296.80" font-size="4.8" fill="#111" text-anchor="start" font-weight="bold" font-family="'Liberation Serif', 'Times New Roman', serif"  textLength="11" lengthAdjust="spacingAndGlyphs">(n=8)</text>
<rect x="284.5" y="302.3" width="7.3" height="6.10" fill="#d2d2d2" stroke="#555" stroke-width="0.5"/>
<text x="294.30" y="307.95" font-size="7.6" fill="#111" text-anchor="start" font-weight="normal" font-family="'Liberation Serif', 'Times New Roman', serif" stroke="#111" stroke-width="0.1">P38</text>
<text x="307.70" y="307.05" font-size="4.8" fill="#d6246c" text-anchor="start" font-weight="bold" font-family="'Liberation Serif', 'Times New Roman', serif"  textLength="10.9" lengthAdjust="spacingAndGlyphs">IncI1</text>
<text x="326.60" y="307.05" font-size="4.8" fill="#111" text-anchor="start" font-weight="bold" font-family="'Liberation Serif', 'Times New Roman', serif"  textLength="11" lengthAdjust="spacingAndGlyphs">(n=7)</text>
<rect x="284.5" y="312" width="7.3" height="4.80" fill="#d2d2d2" stroke="#555" stroke-width="0.5"/>
<text x="294.30" y="317.00" font-size="7.6" fill="#111" text-anchor="start" font-weight="normal" font-family="'Liberation Serif', 'Times New Roman', serif" stroke="#111" stroke-width="0.1">P57</text>
<text x="307.70" y="316.10" font-size="4.8" fill="#d6246c" text-anchor="start" font-weight="bold" font-family="'Liberation Serif', 'Times New Roman', serif"  textLength="12.8" lengthAdjust="spacingAndGlyphs">IncQ1</text>
<text x="326.60" y="316.10" font-size="4.8" fill="#111" text-anchor="start" font-weight="bold" font-family="'Liberation Serif', 'Times New Roman', serif"  textLength="11" lengthAdjust="spacingAndGlyphs">(n=6)</text>
<rect x="284.5" y="320.5" width="7.3" height="4.50" fill="#d2d2d2" stroke="#555" stroke-width="0.5"/>
<text x="294.30" y="325.35" font-size="7.6" fill="#111" text-anchor="start" font-weight="normal" font-family="'Liberation Serif', 'Times New Roman', serif" stroke="#111" stroke-width="0.1">P72</text>
<text x="307.70" y="324.45" font-size="4.8" fill="#d6246c" text-anchor="start" font-weight="bold" font-family="'Liberation Serif', 'Times New Roman', serif"  textLength="11.2" lengthAdjust="spacingAndGlyphs">IncI2</text>
<text x="326.60" y="324.45" font-size="4.8" fill="#111" text-anchor="start" font-weight="bold" font-family="'Liberation Serif', 'Times New Roman', serif"  textLength="11" lengthAdjust="spacingAndGlyphs">(n=5)</text>
<rect x="284.5" y="328.1" width="7.3" height="4.50" fill="#d2d2d2" stroke="#555" stroke-width="0.5"/>
<text x="294.30" y="332.95" font-size="7.6" fill="#111" text-anchor="start" font-weight="normal" font-family="'Liberation Serif', 'Times New Roman', serif" stroke="#111" stroke-width="0.1">P76</text>
<text x="307.70" y="332.05" font-size="4.8" fill="#d6246c" text-anchor="start" font-weight="bold" font-family="'Liberation Serif', 'Times New Roman', serif"  textLength="12.8" lengthAdjust="spacingAndGlyphs">IncQ1</text>
<text x="326.60" y="332.05" font-size="4.8" fill="#111" text-anchor="start" font-weight="bold" font-family="'Liberation Serif', 'Times New Roman', serif"  textLength="11" lengthAdjust="spacingAndGlyphs">(n=5)</text>
<rect x="284.5" y="335.7" width="7.3" height="4.20" fill="#d2d2d2" stroke="#555" stroke-width="0.5"/>
<text x="294.30" y="340.40" font-size="7.6" fill="#111" text-anchor="start" font-weight="normal" font-family="'Liberation Serif', 'Times New Roman', serif" stroke="#111" stroke-width="0.1">P79</text>
<text x="307.70" y="339.50" font-size="4.8" fill="#d6246c" text-anchor="start" font-weight="bold" font-family="'Liberation Serif', 'Times New Roman', serif"  textLength="17.5" lengthAdjust="spacingAndGlyphs">ColRNAI</text>
<text x="330.80" y="339.50" font-size="4.8" fill="#111" text-anchor="start" font-weight="bold" font-family="'Liberation Serif', 'Times New Roman', serif"  textLength="11" lengthAdjust="spacingAndGlyphs">(n=5)</text>
<rect x="284.5" y="343.1" width="7.3" height="4.20" fill="#f0b43c" stroke="#555" stroke-width="0.5"/>
<text x="294.30" y="347.80" font-size="7.6" fill="#111" text-anchor="start" font-weight="normal" font-family="'Liberation Serif', 'Times New Roman', serif" stroke="#111" stroke-width="0.1">P98</text>
<text x="308.90" y="346.90" font-size="4.8" fill="#d6246c" text-anchor="start" font-weight="bold" font-family="'Liberation Serif', 'Times New Roman', serif"  textLength="12.5" lengthAdjust="spacingAndGlyphs">IncX1</text>
<text x="327.00" y="346.90" font-size="4.8" fill="#111" text-anchor="start" font-weight="bold" font-family="'Liberation Serif', 'Times New Roman', serif"  textLength="11" lengthAdjust="spacingAndGlyphs">(n=4)</text>
<rect x="284.5" y="350.2" width="7.3" height="3.90" fill="#d2d2d2" stroke="#555" stroke-width="0.5"/>
<text x="294.30" y="354.75" font-size="7.6" fill="#111" text-anchor="start" font-weight="normal" font-family="'Liberation Serif', 'Times New Roman', serif" stroke="#111" stroke-width="0.1">P105</text>
<text x="310.70" y="353.85" font-size="4.8" fill="#d6246c" text-anchor="start" font-weight="bold" font-family="'Liberation Serif', 'Times New Roman', serif"  textLength="12.5" lengthAdjust="spacingAndGlyphs">IncX1</text>
<text x="328.20" y="353.85" font-size="4.8" fill="#111" text-anchor="start" font-weight="bold" font-family="'Liberation Serif', 'Times New Roman', serif"  textLength="11" lengthAdjust="spacingAndGlyphs">(n=4)</text>
<rect x="284.5" y="357" width="7.3" height="3.90" fill="#d2d2d2" stroke="#555" stroke-width="0.5"/>
<text x="294.30" y="361.55" font-size="7.6" fill="#111" text-anchor="start" font-weight="normal" font-family="'Liberation Serif', 'Times New Roman', serif" stroke="#111" stroke-width="0.1">P114</text>
<text x="310.70" y="360.65" font-size="4.8" fill="#8a8a8a" text-anchor="start" font-weight="bold" font-family="'Liberation Serif', 'Times New Roman', serif"  textLength="20" lengthAdjust="spacingAndGlyphs">Unknown</text>
<text x="336.00" y="360.65" font-size="4.8" fill="#111" text-anchor="start" font-weight="bold" font-family="'Liberation Serif', 'Times New Roman', serif"  textLength="11" lengthAdjust="spacingAndGlyphs">(n=4)</text>
<rect x="284.5" y="363.6" width="7.3" height="3.90" fill="#d2d2d2" stroke="#555" stroke-width="0.5"/>
<text x="294.30" y="368.15" font-size="7.6" fill="#111" text-anchor="start" font-weight="normal" font-family="'Liberation Serif', 'Times New Roman', serif" stroke="#111" stroke-width="0.1">P119</text>
<text x="310.70" y="367.25" font-size="4.8" fill="#8a8a8a" text-anchor="start" font-weight="bold" font-family="'Liberation Serif', 'Times New Roman', serif"  textLength="20" lengthAdjust="spacingAndGlyphs">Unknown</text>
<text x="336.00" y="367.25" font-size="4.8" fill="#111" text-anchor="start" font-weight="bold" font-family="'Liberation Serif', 'Times New Roman', serif"  textLength="11" lengthAdjust="spacingAndGlyphs">(n=4)</text>
<rect x="284.5" y="370.4" width="7.3" height="3.40" fill="#d4ac10" stroke="#555" stroke-width="0.5"/>
<text x="294.30" y="374.70" font-size="7.6" fill="#111" text-anchor="start" font-weight="normal" font-family="'Liberation Serif', 'Times New Roman', serif" stroke="#111" stroke-width="0.1">P128</text>
<text x="311.20" y="373.80" font-size="4.8" fill="#d6246c" text-anchor="start" font-weight="bold" font-family="'Liberation Serif', 'Times New Roman', serif"  textLength="67.8" lengthAdjust="spacingAndGlyphs">IncHI1B(R27), IncHI1A, IncFIA(HI1)</text>
<text x="385.10" y="373.80" font-size="4.8" fill="#111" text-anchor="start" font-weight="bold" font-family="'Liberation Serif', 'Times New Roman', serif"  textLength="11" lengthAdjust="spacingAndGlyphs">(n=3)</text>
<rect x="284.5" y="376.4" width="7.3" height="3.50" fill="#f0a848" stroke="#555" stroke-width="0.5"/>
<text x="294.30" y="380.75" font-size="7.6" fill="#111" text-anchor="start" font-weight="normal" font-family="'Liberation Serif', 'Times New Roman', serif" stroke="#111" stroke-width="0.1">P135</text>
<text x="311.20" y="379.85" font-size="4.8" fill="#d6246c" text-anchor="start" font-weight="bold" font-family="'Liberation Serif', 'Times New Roman', serif"  textLength="57.5" lengthAdjust="spacingAndGlyphs">IncFIB(AP001918), IncFIC(FII)</text>
<text x="374.30" y="379.85" font-size="4.8" fill="#111" text-anchor="start" font-weight="bold" font-family="'Liberation Serif', 'Times New Roman', serif"  textLength="11" lengthAdjust="spacingAndGlyphs">(n=3)</text>
<rect x="284.5" y="382.5" width="7.3" height="3.20" fill="#d2d2d2" stroke="#555" stroke-width="0.5"/>
<text x="294.30" y="386.70" font-size="7.6" fill="#111" text-anchor="start" font-weight="normal" font-family="'Liberation Serif', 'Times New Roman', serif" stroke="#111" stroke-width="0.1">P187</text>
<text x="310.70" y="385.80" font-size="4.8" fill="#8a8a8a" text-anchor="start" font-weight="bold" font-family="'Liberation Serif', 'Times New Roman', serif"  textLength="20" lengthAdjust="spacingAndGlyphs">Unknown</text>
<text x="336.00" y="385.80" font-size="4.8" fill="#111" text-anchor="start" font-weight="bold" font-family="'Liberation Serif', 'Times New Roman', serif"  textLength="11" lengthAdjust="spacingAndGlyphs">(n=3)</text>
<rect x="284.5" y="388.5" width="7.3" height="3.20" fill="#d2d2d2" stroke="#555" stroke-width="0.5"/>
<text x="294.30" y="392.70" font-size="7.6" fill="#111" text-anchor="start" font-weight="normal" font-family="'Liberation Serif', 'Times New Roman', serif" stroke="#111" stroke-width="0.1">P192</text>
<text x="310.70" y="391.80" font-size="4.8" fill="#8a8a8a" text-anchor="start" font-weight="bold" font-family="'Liberation Serif', 'Times New Roman', serif"  textLength="20" lengthAdjust="spacingAndGlyphs">Unknown</text>
<text x="336.00" y="391.80" font-size="4.8" fill="#111" text-anchor="start" font-weight="bold" font-family="'Liberation Serif', 'Times New Roman', serif"  textLength="11" lengthAdjust="spacingAndGlyphs">(n=3)</text>
<rect x="284.5" y="394.3" width="7.3" height="3.40" fill="#d2d2d2" stroke="#555" stroke-width="0.5"/>
<text x="294.30" y="398.60" font-size="7.6" fill="#111" text-anchor="start" font-weight="normal" font-family="'Liberation Serif', 'Times New Roman', serif" stroke="#111" stroke-width="0.1">P197</text>
<text x="310.70" y="397.70" font-size="4.8" fill="#d6246c" text-anchor="start" font-weight="bold" font-family="'Liberation Serif', 'Times New Roman', serif"  textLength="12.8" lengthAdjust="spacingAndGlyphs">IncQ1</text>
<text x="328.20" y="397.70" font-size="4.8" fill="#111" text-anchor="start" font-weight="bold" font-family="'Liberation Serif', 'Times New Roman', serif"  textLength="11" lengthAdjust="spacingAndGlyphs">(n=3)</text>
<rect x="450" y="191.1" width="7.2" height="49.00" fill="#e78ac3" stroke="#555" stroke-width="0.5"/>
<text x="460.40" y="218.00" font-size="7.4" fill="#000" text-anchor="start" font-weight="normal" font-family="'Liberation Serif', 'Times New Roman', serif" stroke="#000" stroke-width="0.12">Human</text>
<rect x="450" y="243.7" width="7.2" height="51.90" fill="#93c39c" stroke="#555" stroke-width="0.5"/>
<text x="460.40" y="272.05" font-size="7.4" fill="#000" text-anchor="start" font-weight="normal" font-family="'Liberation Serif', 'Times New Roman', serif" stroke="#000" stroke-width="0.12">Animal</text>
<rect x="450" y="299" width="7.2" height="62.50" fill="#b7cdf6" stroke="#555" stroke-width="0.5"/>
<text x="460.40" y="332.65" font-size="6.9" fill="#000" text-anchor="start" font-weight="normal" font-family="'Liberation Serif', 'Times New Roman', serif" stroke="#000" stroke-width="0.12">Environment</text>
<rect x="616.3" y="159.7" width="7.2" height="42.20" fill="#e38ac9" stroke="#555" stroke-width="0.5"/>
<rect x="616.3" y="205.4" width="7.2" height="5.40" fill="#e8a0a0" stroke="#555" stroke-width="0.5"/>
<rect x="616.3" y="214.4" width="7.2" height="45.40" fill="#6aaa5a" stroke="#555" stroke-width="0.5"/>
<rect x="616.3" y="264.5" width="7.2" height="5.30" fill="#b8e08a" stroke="#555" stroke-width="0.5"/>
<rect x="616.3" y="273.4" width="7.2" height="9.60" fill="#5b7f9b" stroke="#555" stroke-width="0.5"/>
<rect x="616.3" y="286.1" width="7.2" height="3.90" fill="#3f8fae" stroke="#555" stroke-width="0.5"/>
<rect x="616.3" y="294.3" width="7.2" height="3.90" fill="#a694ef" stroke="#555" stroke-width="0.5"/>
<rect x="616.3" y="301.5" width="7.2" height="3.20" fill="#4cc0e6" stroke="#555" stroke-width="0.5"/>
<rect x="616.3" y="307.9" width="7.2" height="15.00" fill="#2f4f9f" stroke="#555" stroke-width="0.5"/>
<rect x="616.3" y="339" width="7.2" height="19.00" fill="#4a92e2" stroke="#555" stroke-width="0.5"/>
<rect x="616.3" y="362.3" width="7.2" height="7.80" fill="#5d7f99" stroke="#555" stroke-width="0.5"/>
<text x="614.80" y="182.90" font-size="7.3" fill="#000" text-anchor="end" font-weight="normal" font-family="'Liberation Serif', 'Times New Roman', serif" stroke="#000" stroke-width="0.12">WWTP-I</text>
<text x="614.80" y="210.30" font-size="7.2" fill="#000" text-anchor="end" font-weight="normal" font-family="'Liberation Serif', 'Times New Roman', serif" stroke="#000" stroke-width="0.12">Manhole</text>
<text x="614.80" y="239.80" font-size="7.6" fill="#000" text-anchor="end" font-weight="normal" font-family="'Liberation Serif', 'Times New Roman', serif" stroke="#000" stroke-width="0.12">Pig-I</text>
<text x="614.80" y="269.60" font-size="7.4" fill="#000" text-anchor="end" font-weight="normal" font-family="'Liberation Serif', 'Times New Roman', serif" stroke="#000" stroke-width="0.12">Fishery water</text>
<text x="614.80" y="280.80" font-size="7.3" fill="#000" text-anchor="end" font-weight="normal" font-family="'Liberation Serif', 'Times New Roman', serif" stroke="#000" stroke-width="0.12">BB</text>
<text x="614.80" y="291.00" font-size="7.2" fill="#000" text-anchor="end" font-weight="normal" font-family="'Liberation Serif', 'Times New Roman', serif" stroke="#000" stroke-width="0.12">Marine</text>
<text x="614.80" y="298.60" font-size="7.2" fill="#000" text-anchor="end" font-weight="normal" font-family="'Liberation Serif', 'Times New Roman', serif" stroke="#000" stroke-width="0.12">Pig-E</text>
<text x="614.80" y="305.60" font-size="7.2" fill="#000" text-anchor="end" font-weight="normal" font-family="'Liberation Serif', 'Times New Roman', serif" stroke="#000" stroke-width="0.12">Pig-S</text>
<text x="614.80" y="318.30" font-size="7.3" fill="#000" text-anchor="end" font-weight="normal" font-family="'Liberation Serif', 'Times New Roman', serif" stroke="#000" stroke-width="0.12">River</text>
<text x="614.80" y="351.20" font-size="7.3" fill="#000" text-anchor="end" font-weight="normal" font-family="'Liberation Serif', 'Times New Roman', serif" stroke="#000" stroke-width="0.12">WWTP-E</text>
<text x="614.80" y="368.60" font-size="7.3" fill="#000" text-anchor="end" font-weight="normal" font-family="'Liberation Serif', 'Times New Roman', serif" stroke="#000" stroke-width="0.12">WWTP-S</text>
<text x="649.50" y="152.00" font-size="4.8" fill="#000" text-anchor="start" font-weight="bold" font-family="'Liberation Serif', 'Times New Roman', serif" >Ecological sector</text>
<rect x="641.2" y="156.00" width="8.7" height="8.5" fill="#b4ccf4"/>
<text x="651.60" y="161.60" font-size="4.8" fill="#000" text-anchor="start" font-weight="normal" font-family="'Liberation Serif', 'Times New Roman', serif" >Environment</text>
<rect x="641.2" y="166.35" width="8.7" height="8.5" fill="#8fbf96"/>
<text x="651.60" y="171.95" font-size="4.8" fill="#000" text-anchor="start" font-weight="normal" font-family="'Liberation Serif', 'Times New Roman', serif" >Animal</text>
<rect x="641.2" y="176.70" width="8.7" height="8.5" fill="#e78ac3"/>
<text x="651.60" y="182.30" font-size="4.8" fill="#000" text-anchor="start" font-weight="normal" font-family="'Liberation Serif', 'Times New Roman', serif" >Human</text>
<text x="647.80" y="195.60" font-size="4.8" fill="#000" text-anchor="start" font-weight="bold" font-family="'Liberation Serif', 'Times New Roman', serif" >Phylogroup</text>
<rect x="640.2" y="198.50" width="7.6" height="6.9" fill="#66c2a5"/>
<text x="649.50" y="203.50" font-size="4.8" fill="#000" text-anchor="start" font-weight="normal" font-family="'Liberation Serif', 'Times New Roman', serif" >clade1</text>
<rect x="640.2" y="207.43" width="7.6" height="6.9" fill="#fc8d62"/>
<text x="649.50" y="212.43" font-size="4.8" fill="#000" text-anchor="start" font-weight="normal" font-family="'Liberation Serif', 'Times New Roman', serif" >G</text>
<rect x="640.2" y="216.36" width="7.6" height="6.9" fill="#8da0cb"/>
<text x="649.50" y="221.36" font-size="4.8" fill="#000" text-anchor="start" font-weight="normal" font-family="'Liberation Serif', 'Times New Roman', serif" >F</text>
<rect x="640.2" y="225.29" width="7.6" height="6.9" fill="#e78ac3"/>
<text x="649.50" y="230.29" font-size="4.8" fill="#000" text-anchor="start" font-weight="normal" font-family="'Liberation Serif', 'Times New Roman', serif" >D</text>
<rect x="640.2" y="234.22" width="7.6" height="6.9" fill="#a6d854"/>
<text x="649.50" y="239.22" font-size="4.8" fill="#000" text-anchor="start" font-weight="normal" font-family="'Liberation Serif', 'Times New Roman', serif" >C</text>
<rect x="640.2" y="243.15" width="7.6" height="6.9" fill="#ffd92f"/>
<text x="649.50" y="248.15" font-size="4.8" fill="#000" text-anchor="start" font-weight="normal" font-family="'Liberation Serif', 'Times New Roman', serif" >B2</text>
<rect x="640.2" y="252.08" width="7.6" height="6.9" fill="#e5c494"/>
<text x="649.50" y="257.08" font-size="4.8" fill="#000" text-anchor="start" font-weight="normal" font-family="'Liberation Serif', 'Times New Roman', serif" >B1</text>
<rect x="640.2" y="261.01" width="7.6" height="6.9" fill="#b3b3b3"/>
<text x="649.50" y="266.01" font-size="4.8" fill="#000" text-anchor="start" font-weight="normal" font-family="'Liberation Serif', 'Times New Roman', serif" >A</text>
<text x="647.80" y="278.60" font-size="4.8" fill="#000" text-anchor="start" font-weight="bold" font-family="'Liberation Serif', 'Times New Roman', serif" >Mob_type</text>
<rect x="640.2" y="281.20" width="7.6" height="7.6" fill="#66c2a5"/>
<text x="649.50" y="286.40" font-size="4.8" fill="#000" text-anchor="start" font-weight="normal" font-family="'Liberation Serif', 'Times New Roman', serif" >unmob</text>
<rect x="640.2" y="290.10" width="7.6" height="7.6" fill="#fc8d62"/>
<text x="649.50" y="295.30" font-size="4.8" fill="#000" text-anchor="start" font-weight="normal" font-family="'Liberation Serif', 'Times New Roman', serif" >mob_unconj</text>
<rect x="640.2" y="299.00" width="7.6" height="7.6" fill="#8da0cb"/>
<text x="649.50" y="304.20" font-size="4.8" fill="#000" text-anchor="start" font-weight="normal" font-family="'Liberation Serif', 'Times New Roman', serif" >Conj</text>
<text x="-1.20" y="626.00" font-size="17.4" fill="#000" text-anchor="start" font-weight="bold" font-family="'Liberation Serif', 'Times New Roman', serif" >d)</text>
<line x1="192.1" y1="606" x2="192.1" y2="819" stroke="#eeeeee" stroke-width="0.6"/>
<line x1="243.9" y1="606" x2="243.9" y2="819" stroke="#eeeeee" stroke-width="0.6"/>
<line x1="295.7" y1="606" x2="295.7" y2="819" stroke="#eeeeee" stroke-width="0.6"/>
<line x1="347.5" y1="606" x2="347.5" y2="819" stroke="#eeeeee" stroke-width="0.6"/>
<line x1="399.3" y1="606" x2="399.3" y2="819" stroke="#eeeeee" stroke-width="0.6"/>
<line x1="451.1" y1="606" x2="451.1" y2="819" stroke="#eeeeee" stroke-width="0.6"/>
<line x1="502.9" y1="606" x2="502.9" y2="819" stroke="#eeeeee" stroke-width="0.6"/>
<line x1="150" y1="798.6" x2="545" y2="798.6" stroke="#eeeeee" stroke-width="0.6"/>
<line x1="150" y1="769.4" x2="545" y2="769.4" stroke="#eeeeee" stroke-width="0.6"/>
<line x1="150" y1="740.2" x2="545" y2="740.2" stroke="#eeeeee" stroke-width="0.6"/>
<line x1="150" y1="711.0" x2="545" y2="711.0" stroke="#eeeeee" stroke-width="0.6"/>
<line x1="150" y1="681.8" x2="545" y2="681.8" stroke="#eeeeee" stroke-width="0.6"/>
<line x1="150" y1="652.6" x2="545" y2="652.6" stroke="#eeeeee" stroke-width="0.6"/>
<line x1="150" y1="623.4" x2="545" y2="623.4" stroke="#eeeeee" stroke-width="0.6"/>
<polygon points="338.2,665.8 338.3,667.8 339.8,667.6 341.0,668.0 341.7,669.0 342.9,668.1 345.3,668.1 346.8,667.1 347.7,665.7 347.2,664.9 348.4,663.1 350.8,662.1 350.7,660.7 352.2,660.3 354.3,660.7 355.3,659.8 356.6,659.1 358.1,659.7 358.4,660.9 359.9,662.1 361.7,662.9 363.8,664.3 364.1,665.6 363.7,666.6 364.2,666.6 365.2,665.4 364.7,664.3 365.3,663.7 366.7,664.2 366.1,663.5 364.1,662.5 362.1,661.4 360.6,659.5 360.2,658.1 361.6,657.5 362.9,658.6 364.0,660.1 365.7,660.8 367.6,662.1 367.6,663.6 368.2,664.7 369.4,666.3 370.0,668.0 370.9,668.5 371.5,666.7 372.4,666.4 371.1,665.1 371.6,664.4 370.9,663.9 372.1,663.5 374.5,663.3 375.1,663.6 376.5,663.1 376.5,662.4 376.5,660.8 377.1,659.6 378.2,658.2 379.3,656.6 380.4,656.7 382.2,657.3 381.2,658.1 382.3,659.0 383.8,658.4 385.3,658.1 387.1,656.2 388.1,656.0 386.8,656.8 386.9,657.9 386.2,658.6 387.6,659.3 388.9,660.3 390.6,662.4 388.4,663.1 385.8,662.9 383.8,661.9 381.9,661.9 379.8,663.0 377.8,662.9 376.5,663.8 374.6,664.3 374.7,665.6 375.8,667.1 376.5,668.0 378.2,668.7 379.2,668.1 380.7,668.4 383.3,668.0 384.9,668.1 384.6,669.4 384.7,670.6 383.9,672.3 383.2,674.1 383.0,674.6 383.7,676.5 383.8,678.3 385.4,680.9 387.0,682.9 388.1,685.9 389.9,688.2 391.8,691.8 392.3,695.5 392.6,696.3 393.6,696.2 394.6,695.8 398.0,694.6 401.6,692.8 404.8,690.8 406.0,690.0 407.4,688.8 408.1,687.2 409.5,684.7 408.3,683.4 407.0,683.1 405.9,681.9 405.8,680.4 403.4,682.9 401.0,682.6 401.0,680.9 400.5,680.5 399.8,681.8 399.3,679.9 398.1,678.8 397.2,676.1 398.2,675.6 399.5,675.8 401.0,678.5 404.2,680.0 406.0,679.3 407.0,681.0 411.2,681.7 416.3,681.3 417.3,683.1 418.2,683.3 419.2,684.4 420.5,686.6 422.7,686.0 422.9,688.8 423.6,692.3 424.6,693.9 425.9,697.8 426.9,700.6 427.8,701.5 428.6,700.6 429.7,699.0 430.3,697.0 430.7,695.1 430.4,693.4 431.6,692.3 432.9,691.3 435.5,688.5 437.1,687.4 437.6,685.9 439.6,685.8 441.4,684.8 442.6,685.1 443.2,686.8 445.2,689.7 445.4,692.1 446.3,692.7 448.6,691.7 448.8,693.7 449.5,695.7 449.4,698.5 449.3,701.3 451.4,703.5 451.5,704.7 452.4,707.7 454.7,709.5 455.5,709.4 454.6,706.1 454.5,704.6 453.3,703.8 451.4,702.2 450.7,700.1 450.3,698.9 451.1,696.2 452.0,695.3 453.8,696.8 454.3,698.3 455.9,698.7 456.2,701.0 458.1,698.9 460.4,697.6 460.7,695.3 459.7,692.2 457.7,689.5 457.0,688.8 458.0,686.8 459.4,685.9 461.3,686.0 461.9,687.3 462.5,685.9 464.1,685.5 465.8,685.0 468.2,684.3 469.7,682.5 471.1,681.1 471.8,679.6 473.5,677.8 473.8,676.0 472.9,675.1 473.8,674.2 472.8,672.9 472.1,670.9 471.0,670.1 472.4,668.8 474.4,667.8 473.9,667.2 472.2,667.1 470.7,667.4 469.7,666.4 469.3,665.4 470.8,665.0 472.8,663.8 474.2,663.7 473.1,665.4 474.7,664.7 476.3,664.4 477.3,664.9 477.0,666.0 478.1,667.0 478.6,669.0 478.5,670.8 479.7,670.6 481.5,669.9 481.7,668.0 480.5,666.1 479.6,664.5 481.9,663.2 482.9,661.6 484.6,660.4 485.5,661.0 487.9,659.7 490.2,657.5 491.1,656.1 492.7,654.5 493.1,652.6 493.3,650.5 494.0,649.2 492.4,647.7 489.7,647.9 488.1,647.2 490.1,645.4 492.4,643.5 494.8,642.0 498.2,641.6 501.4,641.6 504.2,642.2 505.9,642.0 508.1,641.9 510.2,639.1 513.6,639.8 511.8,643.3 509.8,644.4 508.8,646.8 509.1,649.7 509.8,651.5 511.5,650.4 513.3,647.9 515.4,646.9 515.0,645.7 516.6,645.4 516.3,643.4 517.0,641.7 518.8,641.0 519.8,640.5 523.9,640.9 526.6,639.4 531.3,638.0 533.2,638.2 533.4,637.4 532.4,635.7 535.0,634.8 537.1,635.5 540.2,635.8 541.8,634.5 544.7,633.8 542.3,632.7 539.2,631.9 535.5,630.5 534.0,630.5 528.8,629.4 523.9,629.1 519.5,629.7 514.3,629.7 513.3,628.3 509.8,628.0 505.0,628.3 502.4,626.7 495.6,626.1 493.1,625.9 491.5,627.4 487.9,627.4 483.5,628.3 480.5,627.1 481.9,625.9 479.0,625.0 475.2,624.9 470.8,625.6 467.2,624.8 463.6,624.8 461.5,624.0 464.5,622.3 459.0,621.4 455.8,620.2 451.1,621.6 448.6,622.1 444.9,622.3 439.7,622.8 437.4,624.6 430.9,625.0 431.2,626.4 427.8,626.3 425.2,626.0 423.6,627.5 423.1,630.4 421.1,630.4 422.9,626.3 419.5,625.9 417.9,628.1 416.7,628.3 416.9,629.7 414.7,630.2 410.7,629.5 407.6,630.5 405.0,631.1 403.1,630.5 397.2,631.9 393.1,631.1 392.6,632.7 393.3,633.7 390.0,633.7 389.1,635.5 385.8,636.4 384.3,635.8 383.6,634.0 381.9,633.2 383.8,633.0 387.4,633.8 390.0,633.0 390.0,631.3 386.4,630.5 381.7,629.9 378.6,629.5 376.7,628.0 372.9,628.1 369.3,629.0 366.1,629.6 363.6,631.0 361.0,633.0 359.9,635.1 357.9,636.8 355.3,637.6 352.7,639.2 352.7,641.5 353.3,642.7 354.8,643.3 356.3,642.9 358.3,641.7 358.9,642.2 359.7,643.6 360.6,645.4 360.9,646.3 362.3,646.2 364.1,645.4 364.7,643.8 364.9,642.7 366.8,641.5 365.5,640.2 365.4,638.9 366.1,637.8 369.0,636.5 370.6,634.1 372.9,634.1 373.8,635.1 371.8,636.5 369.7,637.6 369.7,640.0 371.1,641.0 374.4,640.5 378.1,640.7 376.5,641.5 372.4,641.7 371.7,642.8 372.8,643.7 372.5,644.4 369.8,644.1 369.3,645.6 369.5,646.5 367.9,647.5 366.7,647.0 364.6,647.3 362.2,648.0 360.4,647.5 358.9,647.9 358.8,647.5 357.8,646.8 358.4,646.2 358.2,644.9 358.5,643.6 357.2,644.2 355.9,644.9 355.9,646.2 356.4,646.9 356.7,647.9 354.8,648.4 353.7,648.5 352.5,649.1 351.9,650.3 351.0,651.0 350.1,651.3 349.2,651.5 349.0,652.6 347.7,653.0 346.3,653.3 345.9,653.0 345.5,654.1 344.4,654.0 342.6,654.5 343.0,655.2 344.9,655.8 346.3,657.0 346.3,658.8 345.9,660.3 343.6,660.3 340.2,660.1 338.9,660.3 337.9,660.9 338.3,662.1 338.5,663.7 337.7,665.4" fill="#c3c3c3" />
<polygon points="396.2,659.0 398.3,656.7 400.9,656.1 402.4,657.3 402.4,658.4 400.3,659.0 399.8,660.2 401.9,661.9 402.4,663.1 402.4,664.9 403.4,667.2 401.4,668.1 399.3,667.4 398.3,666.0 398.8,663.7 397.2,661.9 396.2,660.2" fill="#fff" />
<polygon points="341.4,669.2 342.0,669.1 345.2,670.0 347.5,669.1 350.6,668.0 354.2,667.7 357.7,667.4 358.8,668.0 358.4,669.4 359.0,669.9 358.1,670.9 358.8,671.8 360.4,672.7 363.4,673.3 365.6,674.9 367.2,675.6 368.2,674.8 368.3,673.4 370.0,672.6 371.8,673.4 373.6,674.1 377.4,674.9 379.5,674.2 380.9,674.4 382.9,674.6 383.7,676.5 383.1,678.3 382.3,678.4 381.1,676.1 382.6,679.3 384.1,682.5 385.7,685.3 386.1,688.8 387.5,690.1 388.2,692.4 390.2,694.1 391.6,696.2 392.4,697.5 393.7,698.9 396.9,698.0 400.4,697.1 400.3,698.6 399.8,700.3 398.8,703.1 397.2,705.6 395.8,707.6 392.7,710.6 391.0,712.2 389.9,713.6 388.5,716.1 387.7,718.6 388.3,720.3 389.3,723.1 389.5,727.4 389.7,728.5 388.3,730.5 385.7,731.9 384.1,735.9 384.3,738.6 381.7,740.7 381.3,741.8 381.3,744.3 379.9,745.3 378.6,747.3 376.5,749.2 374.1,750.7 370.9,750.6 368.2,751.6 366.6,750.8 366.4,748.7 365.4,746.6 364.4,744.3 363.2,742.5 362.5,737.7 361.4,735.4 359.7,732.0 359.6,729.5 360.1,727.8 361.6,725.0 361.2,722.2 360.2,718.1 360.1,717.8 359.0,715.6 357.2,713.5 357.1,711.5 357.3,709.8 357.7,707.4 356.7,705.7 355.3,705.9 353.6,706.0 352.0,703.6 349.5,703.9 347.0,704.8 345.4,705.5 343.4,704.9 339.7,706.0 338.2,705.3 335.7,703.1 333.8,700.6 332.3,698.6 330.3,696.8 329.7,693.8 330.4,692.1 330.8,689.9 330.6,688.1 329.8,686.5 330.9,683.3 332.6,680.3 333.8,678.6 335.5,678.2 337.3,676.1 337.6,673.9 338.6,672.1 340.4,671.2" fill="#c3c3c3" />
<polygon points="398.6,725.0 399.8,729.1 398.8,730.9 397.7,734.9 396.7,739.6 394.1,740.8 392.6,736.7 393.4,730.9 396.2,729.1" fill="#c3c3c3" />
<polygon points="267.3,700.8 268.8,700.0 269.3,698.7 270.6,697.9 271.9,697.6 273.4,696.5 273.7,698.2 275.0,696.8 276.8,698.6 279.1,698.6 281.2,698.6 283.8,698.5 284.5,701.1 286.4,701.7 288.4,704.0 291.6,704.2 293.6,705.3 294.7,706.9 295.7,709.2 295.4,711.0 297.3,712.2 299.3,712.4 301.4,713.9 304.0,714.3 306.1,714.4 308.1,715.7 311.0,717.3 311.4,719.8 310.9,722.1 309.2,723.8 307.3,726.8 307.1,729.1 306.4,733.8 305.2,736.7 304.0,737.9 301.9,737.9 299.3,739.0 297.3,741.4 297.0,744.3 295.2,746.6 294.1,748.1 292.1,750.7 290.5,751.6 288.2,752.2 287.0,750.7 288.4,753.4 287.8,755.6 284.3,756.3 283.0,757.1 283.0,758.7 280.2,758.9 280.9,760.6 279.6,763.6 277.6,765.1 279.1,767.1 277.3,769.2 276.1,771.2 276.6,772.2 275.5,772.3 276.5,774.7 278.6,775.2 276.5,775.9 273.9,775.5 270.8,772.9 269.5,769.4 269.3,767.1 270.6,764.1 271.4,761.8 271.0,758.9 271.3,755.4 272.4,752.5 273.3,749.5 273.5,746.0 273.6,742.5 274.6,738.4 274.7,732.6 272.4,730.9 269.3,728.8 268.2,726.8 267.4,725.0 266.2,722.1 265.1,719.8 263.4,717.4 264.3,715.0 263.7,712.2 264.6,710.1 265.9,709.2 266.9,707.5 267.4,705.7 267.4,702.8" fill="#c3c3c3" />
<polygon points="226.2,673.0 228.6,673.0 232.4,674.4 235.4,674.4 235.4,673.9 237.2,673.9 239.2,676.4 240.8,677.1 242.4,676.2 243.9,678.3 244.8,680.2 246.8,680.7 246.3,683.0 246.2,685.0 246.8,686.9 247.8,688.6 249.3,689.4 251.7,689.3 253.2,688.8 253.8,686.5 256.3,685.9 257.6,686.2 256.9,688.5 256.1,690.6 255.9,692.3 258.4,692.4 261.1,693.2 261.0,697.0 260.9,698.4 263.1,700.7 265.1,699.8 267.3,700.8 266.8,702.6 264.7,702.4 264.1,701.4 262.5,701.4 260.8,701.0 258.7,699.4 258.6,697.9 256.9,695.8 255.0,695.2 252.7,694.6 251.2,692.9 249.3,692.1 247.5,692.7 245.5,692.0 242.9,690.8 240.3,689.6 238.2,687.6 238.4,685.9 237.7,684.1 235.6,681.8 234.1,680.0 232.5,677.7 230.9,676.0 228.7,674.0 229.2,676.0 230.6,678.3 232.0,680.6 233.5,683.0 234.1,683.9 233.2,683.6 231.5,681.8 231.2,680.0 229.4,678.3 228.4,676.5 226.8,674.4" fill="#c3c3c3" />
<polygon points="271.9,619.5 276.5,622.0 283.3,622.2 286.9,622.8 289.5,625.2 290.5,627.5 291.6,629.2 294.1,630.8 292.1,633.3 293.6,635.7 295.2,638.0 297.3,639.8 301.4,641.2 303.5,640.3 305.0,637.4 308.1,634.5 313.3,631.6 320.6,630.8 324.7,628.9 323.2,626.9 326.3,624.6 327.8,621.6 328.9,619.3 335.1,615.8 328.9,615.2 319.5,613.5 308.1,613.4 295.7,614.6 285.3,615.2 280.2,616.4 276.0,617.6" fill="#c3c3c3" />
<polygon points="322.6,634.5 324.7,633.4 328.9,633.7 332.0,633.4 333.5,634.7 332.0,635.9 328.3,636.9 324.2,636.5 324.7,635.5" fill="#c3c3c3" />
<polygon points="259.5,685.4 262.5,684.0 264.6,684.1 267.7,686.2 270.6,687.4 267.2,687.8 264.1,685.3" fill="#c3c3c3" />
<polygon points="270.4,689.5 272.1,687.8 275.0,688.0 276.6,689.3 273.4,690.4" fill="#c3c3c3" />
<polygon points="266.4,689.5 268.6,690.0 267.5,690.3" fill="#c3c3c3" />
<polygon points="277.9,689.4 279.5,689.5 279.3,690.0 277.9,690.0" fill="#c3c3c3" />
<polygon points="465.1,736.7 465.6,742.0 466.6,746.0 466.6,750.2 469.2,751.9 472.9,750.5 476.0,749.5 478.0,748.7 483.2,747.8 486.5,749.1 488.2,751.6 490.2,749.5 490.5,752.6 492.5,755.2 496.2,756.3 499.3,756.6 502.9,754.8 504.2,750.5 506.0,747.2 506.5,743.7 506.0,740.2 503.7,737.3 501.9,734.9 499.1,733.2 498.0,728.5 496.2,727.4 495.1,723.5 494.2,725.8 494.1,730.3 493.1,731.6 491.5,730.9 487.9,728.3 489.2,725.2 485.3,724.1 482.7,724.2 481.7,728.3 478.9,727.1 477.0,728.5 474.1,731.2 472.9,733.8 468.7,735.2" fill="#c3c3c3" />
<polygon points="497.3,758.5 501.1,758.8 500.8,761.5 498.8,761.9" fill="#c3c3c3" />
<polygon points="526.3,751.2 528.3,753.6 532.4,755.0 530.9,757.1 528.8,759.5 528.3,756.6" fill="#c3c3c3" />
<polygon points="526.4,758.3 528.1,759.7 526.7,761.8 524.7,763.0 522.6,765.4 520.0,764.7 521.5,762.4 525.0,759.5" fill="#c3c3c3" />
<polygon points="483.1,671.3 484.8,669.7 487.9,669.4 489.3,667.6 491.5,666.6 492.5,663.5 494.1,662.6 494.6,664.9 493.5,666.6 493.4,669.0 492.3,670.1 491.0,670.6 489.2,670.9 487.6,671.6 485.8,670.8 483.4,671.4" fill="#c3c3c3" />
<polygon points="482.0,671.9 484.0,671.5 483.6,674.3 482.4,674.6" fill="#c3c3c3" />
<polygon points="484.8,671.4 486.8,671.1 486.3,672.1 485.1,672.7" fill="#c3c3c3" />
<polygon points="492.5,662.5 494.3,658.0 498.2,660.4 496.0,661.9" fill="#c3c3c3" />
<polygon points="494.6,657.3 496.2,653.8 495.6,647.6 494.8,650.8" fill="#c3c3c3" />
<polygon points="471.9,684.1 473.8,681.7 473.4,684.7 472.6,685.4" fill="#c3c3c3" />
<polygon points="460.0,688.6 462.1,687.5 462.5,688.1 460.9,689.7" fill="#c3c3c3" />
<polygon points="471.8,689.4 474.2,689.4 473.9,692.3 476.0,695.8 475.4,695.0 472.4,694.4 471.8,692.3" fill="#c3c3c3" />
<polygon points="473.9,702.8 478.6,702.8 478.0,699.9 475.4,701.0" fill="#c3c3c3" />
<polygon points="474.4,698.7 476.0,697.8 477.5,698.2 476.5,699.6 474.9,699.9" fill="#c3c3c3" />
<polygon points="460.4,709.2 461.0,712.2 461.8,714.5 466.1,715.7 468.2,713.9 469.3,710.4 470.8,709.8 469.5,706.3 471.0,704.8 468.7,702.8 467.2,705.2 465.6,705.7 462.5,708.7" fill="#c3c3c3" />
<polygon points="446.2,704.5 448.5,704.9 451.4,708.1 454.9,712.2 457.3,714.5 457.1,717.8 455.8,717.9 453.4,715.7 451.6,712.2 449.8,709.0" fill="#c3c3c3" />
<polygon points="456.5,718.9 457.8,718.0 459.9,718.7 462.5,718.5 464.2,719.1 466.2,720.1 466.0,721.2 462.5,720.7 459.9,720.1 457.8,719.6" fill="#c3c3c3" />
<polygon points="471.3,717.4 472.3,713.3 472.8,709.5 476.9,709.1 472.9,710.4 475.2,712.1 473.4,713.3 473.9,716.3 472.3,717.5" fill="#c3c3c3" />
<polygon points="483.2,712.4 486.3,712.1 490.0,712.8 493.6,714.0 497.7,716.3 500.3,718.0 500.3,720.3 502.9,723.0 499.8,721.5 496.7,720.1 495.6,721.7 493.6,721.6 491.5,720.3 490.3,717.2 487.4,716.1 484.8,715.7 484.3,714.3" fill="#c3c3c3" />
<polygon points="430.3,703.8 430.4,699.6 432.3,702.2 431.4,704.0" fill="#c3c3c3" />
<polygon points="337.1,647.7 337.1,648.9 336.8,650.4 338.7,650.7 340.9,650.0 341.3,648.2 341.7,647.2 339.9,646.4 338.7,646.9" fill="#c3c3c3" />
<polygon points="356.2,665.4 357.4,665.3 357.7,663.1 356.0,663.1" fill="#c3c3c3" />
<polygon points="356.4,662.6 357.3,661.9 357.2,660.8 356.4,661.5" fill="#c3c3c3" />
<polygon points="360.3,666.5 363.7,666.3 363.1,668.1 360.3,667.1" fill="#c3c3c3" />
<polygon points="371.8,669.8 374.7,669.9 372.9,670.1" fill="#c3c3c3" />
<polygon points="381.0,670.1 383.3,669.3 382.2,670.5" fill="#c3c3c3" />
<polygon points="401.4,627.6 406.0,628.4 404.5,625.7 408.6,623.6 413.8,622.5 418.5,621.2 414.8,621.5 408.1,622.5 404.0,624.8" fill="#c3c3c3" />
<polygon points="358.9,619.3 364.1,621.5 369.8,620.5 375.5,617.6 368.2,617.0 358.9,617.9" fill="#c3c3c3" />
<polygon points="445.9,618.7 451.1,619.3 456.3,618.1 451.1,616.4 445.9,617.0" fill="#c3c3c3" />
<polygon points="489.4,623.4 494.6,624.8 501.9,623.2 494.6,622.2" fill="#c3c3c3" />
<polygon points="396.2,617.0 409.7,617.6 411.7,616.4 399.3,615.8" fill="#c3c3c3" />
<polygon points="534.0,628.1 536.6,627.5 535.0,628.2" fill="#c3c3c3" />
<polygon points="532.4,628.1 534.0,627.7 534.0,628.3" fill="#c3c3c3" />
<polygon points="357.3,644.7 357.9,646.2 360.4,646.1 359.9,645.4 358.4,644.2" fill="#c3c3c3" />
<polygon points="161.0,802.1 171.4,802.5 181.7,801.5 192.1,800.4 202.5,799.0 212.8,797.8 223.2,797.2 233.5,797.7 243.9,796.6 254.3,796.0 264.6,796.6 269.8,794.5 275.0,792.2 279.1,789.8 282.2,788.1 286.9,786.7 285.3,788.1 283.3,789.8 282.2,791.6 283.3,795.1 284.3,798.0 287.4,800.4 295.7,802.1 304.0,802.5 311.2,801.9 318.5,799.2 326.8,796.6 335.1,794.9 342.3,793.9 347.5,793.1 357.9,792.8 368.2,792.8 378.6,792.5 388.9,791.6 399.3,789.3 409.7,789.6 420.0,791.0 425.2,792.2 430.4,789.8 440.7,788.7 451.1,788.1 461.5,788.4 471.8,789.0 482.2,788.3 492.5,789.0 502.9,791.0 513.3,792.8 519.5,794.5 523.6,795.1 521.5,797.4 518.4,800.4 523.6,801.9 534.0,802.1 534.0,806.8 161.0,806.8" fill="#c3c3c3" />
<polygon points="201.4,629.7 203.5,629.8 206.1,630.5 208.2,629.7 210.7,629.6 213.3,629.2 215.4,628.9 218.0,629.8 221.1,629.5 225.8,630.4 229.4,631.2 233.5,631.6 236.1,630.9 238.2,631.3 242.3,631.8 245.5,631.8 248.0,631.2 249.6,629.8 248.0,628.7 250.1,627.0 252.2,628.7 254.8,630.4 256.3,631.3 258.9,629.5 262.5,630.1 263.1,631.6 261.0,633.6 257.9,633.3 256.9,635.7 253.7,636.8 251.2,638.6 249.6,641.5 250.6,642.3 251.7,644.4 254.3,644.4 258.9,646.4 262.2,646.6 262.3,649.1 264.1,650.8 265.4,650.8 265.7,647.9 267.7,646.2 267.9,643.8 266.7,642.1 267.2,640.3 266.7,638.2 269.8,638.2 272.9,639.2 275.0,639.8 275.5,642.1 277.6,642.9 279.1,642.3 280.7,640.6 281.7,642.7 283.8,645.0 285.3,646.8 287.9,647.9 289.7,649.7 288.4,650.8 285.3,652.4 281.7,652.2 278.6,652.6 275.5,654.6 275.0,655.9 280.9,653.9 280.5,655.2 280.2,656.1 281.2,656.9 284.3,657.5 285.3,657.3 284.3,658.4 281.7,659.0 279.3,660.1 279.1,658.9 280.7,658.1 279.1,658.2 278.1,658.4 277.3,657.6 277.3,656.0 275.8,655.6 275.0,656.5 273.4,658.4 270.1,658.4 268.5,659.4 265.4,660.2 265.7,661.0 262.0,662.3 261.4,661.8 262.1,660.8 262.0,658.1 260.5,656.7 255.9,654.6 254.7,654.9 251.2,654.2 248.9,653.8 220.1,653.8 219.6,654.6 218.0,654.0 215.4,652.6 214.6,651.7 215.4,650.8 214.4,649.7 212.8,648.2 212.8,647.1 212.8,645.7 210.7,644.4 209.2,642.8 207.1,641.2 205.0,642.1 203.5,640.9 201.4,640.6" fill="#ffbfcc" />
<polygon points="279.6,638.6 276.5,637.4 273.4,636.8 270.8,635.7 267.7,634.7 271.9,633.7 270.3,631.8 266.2,631.2 263.1,629.8 258.9,629.5 255.3,628.1 254.8,625.7 258.4,625.0 263.6,624.9 268.2,626.1 272.9,627.5 276.5,628.9 278.1,630.4 281.7,632.4 283.4,633.2 281.7,635.1 279.6,635.7 280.7,637.4" fill="#ffbfcc" />
<polygon points="269.8,621.6 265.1,622.0 259.4,621.9 254.8,621.6 255.3,620.1 252.7,618.7 253.2,617.0 258.4,615.8 266.7,614.3 277.1,614.1 283.3,614.6 281.2,615.8 275.0,617.0 271.9,618.1 268.8,619.2 266.7,620.4" fill="#ffbfcc" />
<polygon points="264.6,624.0 259.4,624.0 252.2,623.6 251.7,622.2 255.3,621.8 262.5,621.6 264.6,622.8" fill="#ffbfcc" />
<polygon points="256.3,619.5 251.7,619.9 248.6,618.7 249.1,617.0 252.7,616.2 255.3,617.2" fill="#ffbfcc" />
<polygon points="254.3,626.9 248.6,626.9 248.6,624.6 253.7,624.6" fill="#ffbfcc" />
<polygon points="247.5,627.5 243.4,627.5 241.8,625.7 246.0,624.8" fill="#ffbfcc" />
<polygon points="242.9,629.8 238.7,630.6 233.5,630.5 228.4,629.5 224.7,628.7 225.3,627.5 228.4,626.3 233.5,626.0 237.7,625.4 240.8,626.3 242.9,628.1" fill="#ffbfcc" />
<polygon points="223.2,627.5 219.6,627.8 217.5,626.3 218.5,624.3 223.2,624.2 226.8,625.4 225.3,626.9" fill="#ffbfcc" />
<polygon points="238.2,623.4 233.5,623.9 228.4,623.8 225.8,622.7 229.4,621.6 235.6,621.3 238.2,622.5" fill="#ffbfcc" />
<polygon points="251.2,623.4 243.9,623.6 239.8,622.8 242.3,621.1 248.0,620.7 251.2,622.0" fill="#ffbfcc" />
<polygon points="244.9,619.9 239.8,619.9 237.7,618.7 241.8,618.1" fill="#ffbfcc" />
<polygon points="227.8,621.6 222.7,622.5 220.6,621.6 225.8,620.5" fill="#ffbfcc" />
<polygon points="257.9,636.6 260.0,637.2 263.6,636.2 261.5,634.8 258.9,634.0 257.4,635.1" fill="#ffbfcc" />
<polygon points="286.1,655.4 289.5,655.4 292.1,656.5 292.9,655.4 292.1,653.8 290.0,652.8 289.8,650.7 288.4,651.8 286.9,653.8" fill="#ffbfcc" />
<polygon points="220.1,653.8 248.9,653.8 251.2,654.2 254.7,654.9 255.9,654.6 260.5,656.7 262.0,658.1 262.1,660.8 261.4,661.8 262.0,662.3 265.7,661.0 265.4,660.2 268.5,659.4 270.1,658.4 273.4,658.4 275.0,656.5 275.8,655.6 277.3,656.0 277.3,657.6 278.1,658.4 276.5,659.3 274.8,660.1 274.2,661.4 275.0,662.3 273.4,662.6 271.1,663.3 270.8,663.7 270.7,664.6 269.8,665.7 269.3,666.6 268.8,667.8 269.2,669.2 268.2,670.5 266.8,671.4 265.4,672.2 263.8,673.5 263.2,675.4 264.0,677.7 264.5,679.7 264.2,681.6 263.4,681.6 262.8,680.3 261.8,678.8 261.7,677.1 260.5,676.0 259.0,676.3 257.4,675.5 255.8,675.5 254.9,676.0 254.9,677.0 253.7,677.0 252.2,676.4 250.1,676.4 248.6,677.4 247.0,678.5 246.8,680.7 244.8,680.2 243.9,678.3 242.4,676.2 240.8,677.1 239.2,676.4 237.2,673.9 235.4,673.9 235.4,674.4 232.4,674.4 228.6,673.0 226.2,673.0 226.0,672.2 224.8,671.3 222.6,670.6 221.2,668.3 220.6,666.8 219.3,665.6 218.6,663.9 218.8,661.9 219.0,659.6 219.0,656.9 218.3,654.5 220.1,654.7 220.7,655.5 220.3,653.8" fill="#ffa500" />
<polygon points="201.4,629.7 201.4,640.6 203.5,640.9 205.0,642.1 207.1,641.2 209.2,642.8 210.7,644.4 212.8,645.7 212.8,647.1 211.0,646.5 209.7,645.4 208.4,644.2 207.0,643.1 205.8,642.9 204.2,642.1 202.5,641.3 199.9,640.9 197.3,640.6 194.7,640.0 193.7,640.9 192.1,641.5 190.2,641.9 190.5,640.0 189.0,641.2 188.5,642.1 187.4,643.3 185.9,644.1 183.3,645.6 180.2,646.2 178.1,647.0 176.8,647.5 179.7,645.8 182.8,643.8 184.3,642.7 182.8,642.3 179.9,642.6 179.2,640.9 176.6,640.2 176.2,638.6 177.1,637.2 180.7,636.8 180.2,635.7 178.1,635.5 175.3,635.5 173.5,634.4 175.3,633.7 177.1,633.2 177.9,632.5 176.0,631.6 174.7,631.1 177.6,630.4 179.7,629.2 182.8,628.3 185.4,627.7 188.0,628.2 190.0,628.3 193.1,628.7 197.3,629.1" fill="#ffa500" />
<circle cx="175.5" cy="648.2" r="0.6" fill="#ffa500"/>
<circle cx="171.4" cy="649.3" r="0.6" fill="#ffa500"/>
<circle cx="167.2" cy="650.0" r="0.6" fill="#ffa500"/>
<circle cx="164.1" cy="650.5" r="0.6" fill="#ffa500"/>
<circle cx="527.2" cy="649.3" r="0.6" fill="#ffa500"/>
<circle cx="530.9" cy="650.3" r="0.6" fill="#ffa500"/>
<circle cx="533.5" cy="650.7" r="0.6" fill="#ffa500"/>
<circle cx="186.4" cy="688.1" r="0.7" fill="#ffa500"/>
<circle cx="184.3" cy="686.5" r="0.7" fill="#ffa500"/>
<circle cx="182.3" cy="685.3" r="0.7" fill="#ffa500"/>
<polygon points="341.6,652.6 343.4,652.1 346.5,651.8 349.0,651.2 349.3,649.4 347.8,648.7 347.5,648.4 347.0,647.3 345.8,646.1 344.9,645.6 345.6,643.8 344.4,642.6 342.3,642.6 341.5,643.8 341.7,645.2 342.3,646.5 342.5,647.0 344.4,646.9 344.0,647.6 344.4,648.6 342.7,648.7 343.1,649.9 342.1,650.5 344.4,650.8 342.8,651.4" fill="#ffff00" />
<polygon points="350.1,651.3 351.9,652.7 353.6,653.2 356.0,653.8 355.4,655.4 354.5,655.8 353.7,657.0 354.5,657.5 354.8,659.4 355.3,659.8 354.3,660.7 352.2,660.3 350.7,660.7 350.8,661.5 349.1,661.4 345.9,660.3 346.3,658.8 346.3,657.0 344.9,655.8 343.0,655.2 342.6,654.5 344.4,654.0 345.5,654.1 345.9,653.0 346.3,653.3 347.7,653.0 349.0,652.6 349.2,651.5" fill="#a020f0" />
<polygon points="353.7,650.5 353.9,648.6 354.8,648.4 356.7,647.9 356.4,646.9 357.8,647.0 358.8,647.5 358.9,647.9 360.4,647.5 362.2,648.0 362.6,649.6 363.0,651.3 360.4,652.2 360.3,652.8 361.8,654.0 361.0,655.5 358.1,655.8 355.4,655.4 356.0,653.8 354.1,653.2 353.7,651.7" fill="#00ff00" />
<polygon points="359.7,643.6 360.6,645.4 360.9,646.3 362.3,646.2 364.1,645.4 364.7,643.8 364.9,642.7 366.8,641.5 365.5,640.2 365.4,638.9 366.1,637.8 369.0,636.5 370.6,634.1 372.3,634.0 371.9,631.8 368.7,630.4 366.1,631.0 364.6,632.2 362.5,634.1 360.1,636.2 360.2,638.4 360.2,639.8 359.2,642.0" fill="#a52a2a" />
<polygon points="382.7,706.1 384.6,704.8 386.9,706.8 388.5,707.0 390.0,706.3 390.9,706.4 390.0,712.1 390.6,713.0 389.1,714.3 388.1,716.5 386.6,715.2 382.8,712.2 382.7,710.6 383.8,708.8" fill="#0000ff" />
<path d="M360.5 650.5 Q411.1 646.0 465.8 683.5" fill="none" stroke="#2bb5a5" stroke-width="0.7" stroke-dasharray="2 1.3"/>
<path d="M367 644.5 Q412.5 643.5 465.8 683.5" fill="none" stroke="#2bb5a5" stroke-width="0.7" stroke-dasharray="2 1.3"/>
<path d="M365 646 Q408.6 671.7 465.8 683.5" fill="none" stroke="#8ab33a" stroke-width="0.7" stroke-dasharray="2 1.3"/>
<path d="M353 657.5 Q406.6 681.2 465.8 683.5" fill="none" stroke="#d9a83a" stroke-width="0.7" stroke-dasharray="2 1.3"/>
<path d="M352 661 Q407.1 687.7 465.8 683.5" fill="none" stroke="#b070e0" stroke-width="0.7" stroke-dasharray="2 1.3"/>
<path d="M237.6 645.3 Q348.3 711.6 465.8 683.5" fill="none" stroke="#f080d8" stroke-width="0.7" stroke-dasharray="2 1.3"/>
<path d="M249.3 667.2 Q356.4 718.6 465.8 683.5" fill="none" stroke="#f08a8a" stroke-width="0.7" stroke-dasharray="2 1.3"/>
<path d="M390 709.5 Q428.1 717.7 465.8 683.5" fill="none" stroke="#3bbbe8" stroke-width="0.7" stroke-dasharray="2 1.3"/>
<line x1="465.8" y1="683.5" x2="535.5" y2="660.4" stroke="#ff3030" stroke-width="0.7"/>
<line x1="465.8" y1="683.5" x2="535.5" y2="755" stroke="#ff3030" stroke-width="0.7"/>
<polygon points="465.80,679.50 466.80,682.12 469.60,682.26 467.42,684.03 468.15,686.74 465.80,685.20 463.45,686.74 464.18,684.03 462.00,682.26 464.80,682.12" fill="#ff0000"/>
<rect x="539" y="658.4" width="140.8" height="98.6" fill="#fff" stroke="#b0b0b0" stroke-width="0.7"/>
<polygon points="557.2,699.8 558.3,698.9 559.7,698.4 560.3,696.8 561.7,696.4 563.0,695.3 564.8,695.1 566.0,694.0 567.3,693.0 567.3,691.4 567.9,690.0 568.5,688.5 569.9,687.9 570.7,686.6 571.6,685.3 573.3,685.0 573.9,683.4 575.3,682.8 576.5,681.8 577.7,680.6 578.7,679.4 580.1,679.1 581.6,679.3 582.8,678.2 584.3,678.3 585.7,677.7 586.8,676.6 588.6,676.7 589.6,675.2 591.1,674.9 592.2,674.1 593.6,673.5 594.7,672.7 595.6,671.5 596.9,670.3 598.9,670.3 600.2,669.2 601.8,669.3 603.2,668.5 604.7,668.7 606.2,667.9 607.6,667.6 609.2,667.7 610.5,666.6 612.1,666.0 613.7,665.4 615.4,665.6 617.1,665.0 618.9,665.4 620.5,664.7 621.9,665.7 623.6,665.5 625.1,666.3 626.7,666.5 628.1,667.6 629.6,668.1 631.1,667.9 632.6,667.6 634.0,666.8 635.6,667.0 637.0,666.2 638.6,666.3 640.0,667.0 641.6,666.9 643.2,666.8 644.6,668.0 646.1,668.3 647.7,668.1 648.8,669.4 649.1,671.1 650.6,672.0 651.3,673.6 652.2,674.9 651.0,675.7 649.8,676.3 649.1,677.8 647.7,678.3 646.6,679.4 645.2,680.0 643.7,680.5 642.1,680.7 640.9,681.7 639.5,682.1 638.5,683.4 636.9,683.4 635.9,684.6 634.6,685.4 633.1,685.6 631.8,686.2 630.0,686.0 628.3,686.3 626.7,687.1 625.0,687.3 623.4,687.8 622.2,689.1 620.5,689.6 622.2,690.0 623.3,691.6 625.0,691.9 626.7,692.4 628.5,692.1 630.1,692.5 631.8,693.0 633.3,692.8 634.4,691.6 635.8,691.3 637.3,691.5 638.6,690.7 639.8,689.6 641.3,688.8 642.6,687.9 644.0,687.1 645.4,686.2 646.8,685.7 648.2,685.4 649.7,685.7 651.1,685.3 652.6,685.2 653.8,684.0 655.2,683.8 656.7,683.9 657.8,685.1 659.5,685.6 660.6,686.9 662.3,687.4 663.5,688.5 664.5,689.8 665.1,691.3 666.3,692.5 667.1,694.0 668.0,695.3 667.5,696.9 665.9,697.8 665.2,699.2 664.6,700.8 663.5,702.0 663.1,703.4 662.5,704.7 661.7,705.9 662.2,707.6 661.3,708.8 660.2,709.9 659.9,711.4 659.8,712.9 658.8,714.1 657.8,715.2 657.7,716.8 656.7,717.9 655.2,717.8 653.7,717.8 652.2,717.8 650.7,718.4 649.2,718.4 647.7,717.9 646.8,719.3 647.3,721.0 646.9,722.5 646.1,723.9 646.3,725.5 645.4,726.9 644.1,726.2 642.8,725.7 641.3,725.8 640.0,725.0 638.6,724.7 638.1,723.3 637.9,721.9 636.9,720.7 636.3,719.4 636.4,717.9 634.9,717.9 633.8,716.5 632.5,716.0 630.9,716.3 629.6,715.6 628.1,715.5 626.6,716.3 625.0,716.1 623.5,716.5 622.0,716.5 620.5,716.8 619.1,716.2 617.6,716.0 616.1,715.7 614.5,715.6 613.0,715.8 611.5,715.6 609.7,715.7 608.2,714.7 606.4,714.6 604.7,714.5 603.1,713.9 601.9,712.8 600.3,712.2 599.4,710.6 597.9,710.0 596.5,709.1 594.8,709.7 593.4,708.8 592.1,708.2 590.8,707.5 589.5,707.1 588.0,706.8 586.6,706.6 585.3,707.3 583.8,707.1 582.4,707.6 580.9,707.6 579.6,708.1 578.2,708.6 576.7,708.4 575.3,708.8 573.7,709.0 572.2,708.8 570.8,708.1 569.3,707.8 567.7,708.3 566.2,707.7 564.7,707.7 563.5,706.9 562.0,706.7 560.9,705.4 559.4,705.4 558.6,704.1 557.8,702.8 557.7,701.2" fill="#c8c8c8"/>
<polygon points="543.6,738.3 543.9,736.9 544.2,735.5 544.6,734.1 545.8,733.0 545.8,731.5 547.0,730.7 548.2,730.0 549.2,729.0 550.3,728.0 551.6,727.5 552.7,726.5 553.9,725.8 554.9,724.7 555.5,723.4 556.2,722.1 556.2,720.6 556.4,719.1 557.2,717.9 558.6,717.4 560.0,717.9 561.4,717.1 562.9,717.5 564.3,717.3 565.6,716.6 567.1,717.2 568.5,716.8 570.1,716.5 571.5,717.6 573.0,717.7 574.5,717.2 576.0,718.0 577.5,717.9 579.1,717.8 580.4,716.7 582.1,716.9 583.5,716.0 585.2,716.4 586.6,715.6 587.6,716.6 588.5,717.7 590.3,717.8 591.1,719.0 590.1,720.1 588.7,720.8 587.6,721.8 586.8,723.1 585.2,723.4 584.3,724.7 583.5,725.9 583.6,727.5 583.3,728.9 582.3,730.1 582.0,731.5 580.7,732.0 579.3,732.2 578.0,732.8 576.7,733.4 575.3,733.7 574.5,735.2 573.3,736.3 571.9,737.2 570.7,738.3 569.1,738.4 567.7,739.1 566.1,739.1 564.7,739.7 563.1,739.7 561.7,740.5 560.1,740.7 558.7,741.5 557.2,742.0 555.8,742.5 554.2,742.9 552.6,742.8 550.8,742.7 549.1,742.9 547.5,743.4 545.8,743.9 544.9,742.7 544.9,741.0 543.8,739.8" fill="#c8c8c8"/>
<polygon points="604.7,725.8 606.1,725.7 607.4,724.7 608.9,724.7 610.3,724.4 611.8,724.6 613.2,724.3 614.7,724.2 616.0,723.5 617.5,723.2 618.8,723.7 620.3,723.4 621.7,723.8 623.1,724.3 624.5,723.9 625.9,724.2 627.3,724.7 628.5,725.6 629.9,726.2 631.4,726.7 632.5,727.8 633.7,728.7 635.2,729.2 636.0,730.7 635.3,732.4 635.7,734.0 636.3,735.5 636.4,737.1 635.2,737.9 633.5,737.5 632.4,738.7 631.1,739.4 629.6,739.4 627.9,739.2 626.7,737.9 625.1,737.6 623.7,736.8 622.1,736.3 620.5,736.0 619.0,735.6 617.6,734.7 616.0,735.0 614.5,734.4 613.1,733.7 611.5,733.7 610.4,732.5 609.5,731.2 608.1,730.3 606.9,729.2 606.0,727.4" fill="#c8c8c8"/>
<circle cx="607" cy="741" r="2.2" fill="#c8c8c8"/>
<circle cx="611" cy="745" r="1.6" fill="#c8c8c8"/>
<circle cx="574" cy="747" r="1.6" fill="#c8c8c8"/>
<circle cx="657" cy="725" r="1.5" fill="#c8c8c8"/>
<circle cx="662" cy="712" r="1.3" fill="#c8c8c8"/>
<circle cx="596" cy="713" r="1.8" fill="#c8c8c8"/>
<circle cx="601" cy="717" r="1.2" fill="#c8c8c8"/>
<circle cx="648" cy="740" r="1.4" fill="#c8c8c8"/>
<circle cx="643" cy="745" r="1.2" fill="#c8c8c8"/>
<circle cx="570" cy="705.5" r="1.0" fill="#c8c8c8"/>
<circle cx="669" cy="667" r="1.0" fill="#c8c8c8"/>
<circle cx="553" cy="713" r="0.8" fill="#c8c8c8"/>
<path d="M584 690 L600 686 L612 681" fill="none" stroke="#a9a9a9" stroke-width="0.35"/>
<path d="M600 669 L603 686 L606 700 L604 714" fill="none" stroke="#a9a9a9" stroke-width="0.35"/>
<path d="M567 700 L585 699 L604 700" fill="none" stroke="#a9a9a9" stroke-width="0.35"/>
<path d="M612 681 L621 690" fill="none" stroke="#a9a9a9" stroke-width="0.35"/>
<path d="M622 700 L636 705 L646 717" fill="none" stroke="#a9a9a9" stroke-width="0.35"/>
<path d="M631 693 L636 705" fill="none" stroke="#a9a9a9" stroke-width="0.35"/>
<path d="M560 726 L575 730" fill="none" stroke="#a9a9a9" stroke-width="0.35"/>
<path d="M617 723.5 L622 735" fill="none" stroke="#a9a9a9" stroke-width="0.35"/>
<path d="M612 700 L625 696" fill="none" stroke="#a9a9a9" stroke-width="0.35"/>
<circle cx="593" cy="687" r="1.2" fill="#1a9850"/>
<circle cx="563.8" cy="706.5" r="1.2" fill="#e7298a"/>
<circle cx="567" cy="706.8" r="1.2" fill="#3a9ad9"/>
<circle cx="625.9" cy="699.3" r="1.2" fill="#e7298a"/>
<circle cx="575.7" cy="720.3" r="1.2" fill="#3a9ad9"/>
<text x="578.90" y="694.00" font-size="4.0" fill="#222" text-anchor="start" font-weight="bold" font-family="'Liberation Serif', 'Times New Roman', serif"  textLength="15.8" lengthAdjust="spacingAndGlyphs">Yuen Long</text>
<text x="566.30" y="704.90" font-size="4.0" fill="#222" text-anchor="start" font-weight="bold" font-family="'Liberation Serif', 'Times New Roman', serif"  textLength="15" lengthAdjust="spacingAndGlyphs">Tuen Mun</text>
<text x="614.00" y="705.20" font-size="4.0" fill="#222" text-anchor="start" font-weight="bold" font-family="'Liberation Serif', 'Times New Roman', serif"  textLength="8.7" lengthAdjust="spacingAndGlyphs">Sha  Tin</text>
<text x="569.00" y="725.00" font-size="4.0" fill="#222" text-anchor="start" font-weight="bold" font-family="'Liberation Serif', 'Times New Roman', serif"  textLength="10.9" lengthAdjust="spacingAndGlyphs">Islands</text>
<ellipse cx="90.0" cy="721.0" rx="61.11" ry="63.2" fill="none" stroke="#c4c4c4" stroke-width="0.45"/>
<ellipse cx="90.0" cy="721.0" rx="54.44" ry="56.3" fill="none" stroke="#c4c4c4" stroke-width="0.45"/>
<polygon points="80.50,658.97 81.35,658.84 82.21,658.72 83.06,658.61 83.92,658.52 85.62,661.42 84.51,664.58 83.74,664.67 82.96,664.77 82.19,664.88 81.42,665.00" fill="#bdbdbd"/>
<polygon points="85.97,661.40 87.24,658.26 88.10,658.23 88.96,658.21 89.83,658.20 90.69,658.20 90.62,664.30 89.84,664.30 89.06,664.31 88.29,664.33 87.51,664.36" fill="#bdbdbd"/>
<polygon points="91.06,658.21 91.92,658.23 92.78,658.27 93.65,658.31 94.51,658.37 95.69,661.54 94.07,664.46 93.29,664.40 92.51,664.36 91.74,664.33 90.96,664.31" fill="#bdbdbd"/>
<polygon points="96.35,658.54 97.20,658.64 98.06,658.76 98.91,658.88 99.77,659.02 100.68,662.28 98.82,665.04 98.05,664.91 97.28,664.80 96.51,664.70 95.73,664.61" fill="#2f9a30"/>
<polygon points="101.59,659.35 102.43,659.53 103.28,659.72 104.12,659.92 104.95,660.13 105.59,663.47 103.50,666.05 102.74,665.85 101.99,665.67 101.23,665.50 100.46,665.34" fill="#2f9a30"/>
<polygon points="106.74,660.63 107.57,660.88 108.39,661.15 109.21,661.42 110.03,661.71 110.38,665.09 108.08,667.47 107.34,667.21 106.60,666.96 105.86,666.72 105.11,666.50" fill="#2f9a30"/>
<polygon points="111.76,662.37 112.57,662.70 113.36,663.03 114.16,663.38 114.95,663.74 115.01,667.14 112.52,669.31 111.81,668.98 111.09,668.66 110.37,668.36 109.65,668.07" fill="#3f5fe0"/>
<polygon points="116.62,664.56 117.39,664.95 118.16,665.36 118.92,665.78 119.68,666.21 119.45,669.60 116.79,671.53 116.11,671.14 115.43,670.76 114.73,670.40 114.04,670.04" fill="#2f9a30"/>
<polygon points="121.28,667.17 121.97,667.61 122.65,668.05 123.33,668.51 124.01,668.97 124.68,669.45 125.34,669.93 125.99,670.42 125.69,674.01 122.50,675.33 121.91,674.89 121.31,674.45 120.71,674.03 120.10,673.61 119.48,673.19 118.86,672.79 118.24,672.40" fill="#2f9a30"/>
<polygon points="127.80,671.85 128.46,672.40 129.11,672.95 129.75,673.52 130.38,674.09 131.00,674.68 131.62,675.27 132.23,675.87 132.83,676.48 132.01,679.98 128.67,680.80 128.13,680.25 127.58,679.71 127.02,679.18 126.46,678.65 125.89,678.13 125.31,677.62 124.72,677.12 124.13,676.63" fill="#2f9a30"/>
<polygon points="134.41,678.17 134.98,678.81 135.54,679.45 136.09,680.11 136.63,680.77 137.16,681.44 135.93,684.75 132.58,685.28 132.10,684.68 131.61,684.08 131.12,683.49 130.61,682.91 130.10,682.33" fill="#bdbdbd"/>
<polygon points="138.50,683.21 139.01,683.92 139.51,684.64 140.00,685.36 140.48,686.10 140.95,686.83 141.42,687.58 139.86,690.81 136.42,690.83 136.01,690.15 135.58,689.49 135.15,688.82 134.70,688.17 134.25,687.52 133.79,686.88" fill="#f2472a"/>
<polygon points="142.59,689.60 143.02,690.38 143.43,691.16 143.84,691.95 144.23,692.74 142.21,695.42 138.96,695.48 138.61,694.77 138.24,694.06 137.87,693.35 137.48,692.65" fill="#bdbdbd"/>
<polygon points="145.04,694.46 145.41,695.31 145.78,696.16 146.13,697.02 143.81,699.25 140.68,699.35 140.36,698.58 140.03,697.80 139.69,697.04" fill="#bdbdbd"/>
<polygon points="146.69,698.49 147.01,699.37 147.32,700.25 147.61,701.13 145.15,703.18 142.01,703.06 141.75,702.26 141.47,701.47 141.19,700.68" fill="#bdbdbd"/>
<polygon points="148.07,702.64 148.33,703.53 148.58,704.43 148.81,705.33 146.22,707.20 143.10,706.86 142.89,706.04 142.67,705.23 142.43,704.42" fill="#f9b466"/>
<polygon points="149.17,706.87 149.37,707.78 149.55,708.70 149.72,709.61 147.01,711.29 143.92,710.72 143.77,709.89 143.60,709.07 143.42,708.25" fill="#bdbdbd"/>
<polygon points="149.98,711.18 150.10,711.96 150.20,712.75 150.30,713.54 150.38,714.33 150.46,715.12 150.53,715.91 147.71,718.03 144.65,716.40 144.59,715.69 144.52,714.97 144.44,714.26 144.35,713.55 144.26,712.84 144.15,712.13" fill="#f2472a"/>
<polygon points="150.67,718.26 150.70,719.06 150.72,719.85 150.73,720.65 150.73,721.44 147.75,722.72 144.83,721.40 144.83,720.68 144.82,719.96 144.80,719.24 144.78,718.53" fill="#f2472a"/>
<polygon points="147.74,723.09 150.64,724.39 150.58,725.32 150.51,726.25 150.43,727.18 144.56,726.58 144.64,725.74 144.70,724.90 144.75,724.06" fill="#bdbdbd"/>
<polygon points="147.46,727.25 150.26,728.76 150.14,729.68 150.01,730.61 149.87,731.53 144.05,730.50 144.18,729.67 144.30,728.84 144.41,728.00" fill="#bdbdbd"/>
<polygon points="146.90,731.38 149.59,733.09 149.41,734.00 149.22,734.91 149.01,735.82 143.28,734.38 143.47,733.56 143.64,732.74 143.80,731.91" fill="#f9b466"/>
<polygon points="146.06,735.45 148.55,737.67 148.31,738.53 148.07,739.38 147.81,740.24 147.54,741.08 141.95,739.13 142.19,738.37 142.43,737.60 142.65,736.83 142.86,736.05" fill="#f9b466"/>
<polygon points="144.63,740.45 146.92,742.89 146.61,743.72 146.30,744.55 145.97,745.37 145.63,746.19 140.22,743.75 140.53,743.01 140.83,742.26 141.12,741.51 141.39,740.76" fill="#bdbdbd"/>
<polygon points="142.78,745.30 144.86,747.93 144.48,748.74 144.10,749.53 143.70,750.32 143.29,751.11 138.12,748.19 138.48,747.48 138.84,746.76 139.19,746.04 139.53,745.32" fill="#bdbdbd"/>
<polygon points="140.53,749.97 142.38,752.77 141.94,753.54 141.49,754.30 141.02,755.05 140.55,755.80 135.64,752.42 136.07,751.75 136.49,751.07 136.89,750.38 137.29,749.69" fill="#f9b466"/>
<polygon points="137.90,754.41 139.50,757.37 139.00,758.10 138.48,758.81 137.96,759.52 137.43,760.22 132.82,756.41 133.30,755.78 133.78,755.14 134.24,754.49 134.70,753.84" fill="#f2472a"/>
<polygon points="134.90,758.60 135.97,762.03 135.41,762.70 134.83,763.36 134.25,764.01 133.66,764.65 133.06,765.28 132.45,765.91 128.33,761.55 128.88,760.98 129.42,760.41 129.95,759.83 130.48,759.25 131.00,758.65 131.51,758.05" fill="#f2472a"/>
<polygon points="130.14,763.98 131.11,767.22 130.47,767.82 129.82,768.41 129.17,768.99 128.50,769.56 124.76,764.85 125.36,764.33 125.95,763.81 126.54,763.27 127.12,762.73" fill="#bdbdbd"/>
<polygon points="126.36,767.43 126.72,771.02 126.03,771.55 125.34,772.07 124.64,772.58 123.93,773.08 123.22,773.57 122.49,774.05 119.34,768.90 119.99,768.47 120.63,768.02 121.27,767.57 121.90,767.11 122.53,766.64 123.15,766.16" fill="#bdbdbd"/>
<polygon points="120.62,771.67 120.92,775.05 120.17,775.50 119.42,775.94 118.66,776.36 117.90,776.78 115.19,771.36 115.88,770.99 116.56,770.60 117.24,770.21 117.91,769.80" fill="#b8431a"/>
<polygon points="116.23,774.24 115.96,777.77 115.20,778.14 114.43,778.49 113.66,778.84 112.89,779.17 112.11,779.49 109.96,773.81 110.66,773.52 111.36,773.22 112.06,772.91 112.75,772.59 113.44,772.26" fill="#d21ed2"/>
<polygon points="110.71,776.78 110.68,780.05 109.82,780.36 108.97,780.66 108.11,780.94 106.35,775.12 107.13,774.86 107.90,774.59 108.67,774.31" fill="#bdbdbd"/>
<polygon points="106.89,778.14 106.03,781.57 105.22,781.80 104.41,782.01 103.59,782.21 102.77,782.40 101.95,782.57 100.79,776.59 101.53,776.43 102.27,776.26 103.01,776.08 103.74,775.89 104.47,775.69" fill="#bdbdbd"/>
<polygon points="101.02,779.65 99.71,782.99 98.81,783.14 97.91,783.26 97.01,783.38 96.11,783.48 95.21,783.57 94.30,783.64 93.40,783.70 92.49,783.75 92.25,777.65 93.07,777.61 93.88,777.56 94.70,777.49 95.52,777.41 96.33,777.32 97.14,777.22 97.96,777.10 98.77,776.97" fill="#f2472a"/>
<polygon points="92.12,783.76 91.26,783.79 90.39,783.80 89.53,783.80 88.67,783.78 87.33,780.69 88.80,777.69 89.58,777.70 90.36,777.70 91.14,777.69 91.91,777.67" fill="#bdbdbd"/>
<polygon points="86.82,783.71 85.92,783.66 85.02,783.59 84.12,783.51 83.31,780.35 84.69,777.43 85.50,777.51 86.32,777.57 87.13,777.62" fill="#2f9a30"/>
<polygon points="82.60,783.33 81.70,783.21 80.81,783.08 79.92,782.93 79.32,779.72 80.90,776.91 81.70,777.05 82.51,777.17 83.32,777.28" fill="#2f9a30"/>
<polygon points="78.41,782.65 77.53,782.46 76.65,782.26 75.77,782.05 75.39,778.81 77.15,776.12 77.94,776.31 78.74,776.49 79.54,776.66" fill="#bdbdbd"/>
<polygon points="75.05,778.71 72.86,781.25 72.03,780.99 71.21,780.72 70.39,780.44 69.58,780.14 71.56,774.40 72.30,774.66 73.04,774.92 73.78,775.16 74.52,775.39" fill="#2f9a30"/>
<polygon points="70.24,777.15 67.85,779.47 67.05,779.14 66.25,778.80 65.46,778.44 64.67,778.08 67.13,772.53 67.84,772.86 68.56,773.18 69.28,773.49 70.00,773.79" fill="#2f9a30"/>
<polygon points="65.58,775.15 63.00,777.25 62.23,776.85 61.47,776.44 60.71,776.01 59.96,775.58 62.88,770.28 63.56,770.67 64.24,771.05 64.93,771.43 65.63,771.79" fill="#2f9a30"/>
<polygon points="61.11,772.75 58.09,774.43 57.38,773.97 56.68,773.50 55.98,773.02 55.29,772.53 54.61,772.03 58.04,767.07 58.66,767.53 59.29,767.97 59.92,768.40 60.55,768.83 61.19,769.24" fill="#2f9a30"/>
<polygon points="56.04,769.34 52.78,770.62 52.11,770.07 51.44,769.52 50.78,768.95 50.13,768.37 49.49,767.79 48.86,767.19 52.85,762.70 53.43,763.24 54.00,763.77 54.59,764.29 55.19,764.80 55.79,765.31 56.39,765.80" fill="#2f9a30"/>
<polygon points="50.60,764.70 47.51,765.87 46.90,765.24 46.30,764.61 45.71,763.96 45.12,763.31 49.48,759.20 50.01,759.79 50.54,760.37 51.09,760.95 51.64,761.51" fill="#2f9a30"/>
<polygon points="47.06,760.98 43.89,761.87 43.34,761.19 42.79,760.50 42.25,759.80 41.72,759.10 46.41,755.40 46.89,756.04 47.38,756.67 47.87,757.29 48.37,757.90" fill="#2f9a30"/>
<polygon points="43.86,756.96 40.90,757.96 40.45,757.31 40.00,756.65 39.57,755.98 44.46,752.58 44.86,753.18 45.26,753.78 45.67,754.37" fill="#bdbdbd"/>
<polygon points="41.82,753.98 38.47,754.24 38.07,753.56 37.68,752.89 37.30,752.20 36.92,751.51 36.56,750.82 41.75,747.92 42.08,748.55 42.42,749.17 42.76,749.79 43.12,750.40 43.48,751.01" fill="#3f5fe0"/>
<polygon points="38.98,749.05 35.70,749.12 35.32,748.32 34.95,747.52 34.59,746.71 34.25,745.89 39.66,743.47 39.98,744.21 40.30,744.94 40.63,745.67 40.98,746.39" fill="#bdbdbd"/>
<polygon points="36.81,744.35 33.42,743.82 33.12,743.01 32.83,742.19 32.56,741.38 32.29,740.55 32.04,739.73 37.67,737.91 37.90,738.65 38.14,739.40 38.39,740.13 38.65,740.87 38.92,741.60" fill="#3f5fe0"/>
<polygon points="34.75,738.47 31.60,738.21 31.36,737.31 31.13,736.41 30.91,735.50 36.65,734.09 36.85,734.91 37.05,735.73 37.27,736.54" fill="#bdbdbd"/>
<polygon points="33.70,734.44 30.45,733.31 30.29,732.46 30.14,731.61 30.01,730.75 29.88,729.89 29.77,729.03 35.62,728.25 35.72,729.03 35.84,729.80 35.96,730.58 36.09,731.35 36.23,732.11" fill="#2f9a30"/>
<polygon points="32.65,728.28 29.53,726.81 29.46,725.94 29.40,725.08 29.35,724.21 29.31,723.35 29.29,722.48 35.19,722.34 35.21,723.12 35.24,723.90 35.29,724.68 35.34,725.46 35.41,726.24" fill="#2f9a30"/>
<polygon points="32.23,722.04 29.27,720.90 29.28,719.96 29.30,719.03 29.34,718.10 35.23,718.38 35.20,719.22 35.18,720.06 35.17,720.91" fill="#2f9a30"/>
<polygon points="32.30,717.87 29.43,716.52 29.50,715.58 29.58,714.66 29.68,713.73 35.54,714.43 35.45,715.27 35.38,716.11 35.31,716.95" fill="#bdbdbd"/>
<polygon points="32.65,713.72 29.99,711.39 30.14,710.41 30.31,709.42 30.50,708.44 30.70,707.47 30.92,706.49 31.15,705.52 31.39,704.55 31.65,703.59 31.93,702.64 32.22,701.68 32.52,700.73 32.84,699.79 33.17,698.85 38.69,701.00 38.39,701.85 38.10,702.70 37.83,703.56 37.57,704.42 37.32,705.28 37.08,706.15 36.86,707.02 36.65,707.90 36.46,708.78 36.28,709.66 36.11,710.55 35.96,711.44 35.82,712.33" fill="#2f9a30"/>
<polygon points="36.06,699.59 33.97,696.77 34.30,695.97 34.64,695.18 34.99,694.39 35.35,693.61 35.72,692.83 41.00,695.57 40.66,696.27 40.34,696.98 40.02,697.69 39.71,698.40 39.42,699.12" fill="#2f9a30"/>
<polygon points="38.52,693.87 36.78,690.75 37.23,689.93 37.68,689.11 38.15,688.31 38.63,687.51 39.12,686.72 39.62,685.94 40.13,685.16 40.65,684.40 45.45,687.95 44.97,688.65 44.51,689.35 44.06,690.05 43.62,690.76 43.19,691.49 42.76,692.21 42.35,692.95 41.95,693.68" fill="#2f9a30"/>
<polygon points="43.26,685.88 42.02,682.51 42.55,681.81 43.08,681.12 43.63,680.44 44.19,679.77 44.76,679.11 45.33,678.45 49.67,682.58 49.15,683.18 48.64,683.78 48.14,684.38 47.64,685.00 47.16,685.62 46.68,686.25" fill="#2f9a30"/>
<polygon points="47.74,680.25 46.83,676.83 47.42,676.22 48.03,675.62 48.64,675.02 49.25,674.43 49.88,673.86 53.78,678.44 53.21,678.96 52.65,679.49 52.10,680.02 51.56,680.57 51.02,681.12" fill="#2f9a30"/>
<polygon points="52.09,675.91 51.62,672.33 52.36,671.72 53.11,671.12 53.87,670.53 54.63,669.95 55.41,669.38 56.19,668.83 56.99,668.29 57.79,667.76 58.60,667.25 59.41,666.75 60.23,666.26 63.13,671.58 62.38,672.02 61.65,672.47 60.92,672.93 60.19,673.41 59.48,673.90 58.77,674.40 58.07,674.91 57.38,675.43 56.69,675.96 56.01,676.51 55.35,677.06" fill="#2f9a30"/>
<polygon points="61.99,668.74 62.24,665.14 63.01,664.75 63.78,664.36 64.55,663.98 65.33,663.61 66.12,663.26 66.91,662.92 69.15,668.56 68.44,668.87 67.73,669.19 67.02,669.52 66.32,669.86 65.63,670.21 64.94,670.57" fill="#2f9a30"/>
<polygon points="68.36,665.60 69.03,662.06 69.88,661.75 70.74,661.44 71.61,661.15 72.47,660.87 73.34,660.61 74.22,660.36 75.10,660.12 75.98,659.90 77.34,665.83 76.54,666.03 75.75,666.25 74.96,666.47 74.18,666.71 73.39,666.96 72.61,667.23 71.84,667.50 71.07,667.79" fill="#2f9a30"/>
<polygon points="76.34,659.81 77.22,659.61 78.10,659.42 78.99,659.24 80.61,662.04 80.06,665.24 79.26,665.40 78.46,665.57 77.67,665.75" fill="#bdbdbd"/>
<path d="M90.00 668.10 L90.89 668.11 L91.79 668.13 L92.68 668.17 L93.57 668.23 L94.46 668.30 L95.35 668.39 L96.23 668.49 L97.12 668.61 L98.00 668.75 L98.88 668.90 L99.76 669.07 L100.64 669.26 L101.51 669.46 L102.38 669.67 L103.24 669.90 L104.10 670.15 L104.96 670.41 L105.81 670.69 L106.65 670.98 L107.50 671.29 L108.33 671.61 L109.16 671.95 L109.99 672.31 L110.81 672.67 L111.62 673.06 L112.42 673.45 L113.22 673.87 L114.02 674.29 L114.80 674.73 L115.58 675.19 L116.35 675.66 L117.11 676.14 L117.86 676.63 L118.61 677.14 L119.34 677.67 L120.07 678.20 L120.79 678.75 L121.49 679.31 L122.19 679.89 L122.88 680.48 L123.56 681.08 L124.23 681.69 L124.89 682.31 L125.53 682.95 L126.17 683.59 L126.80 684.25 L127.41 684.92 L128.02 685.60 L128.61 686.29 L129.19 687.00 L129.75 687.71 L130.31 688.43 L130.85 689.16 L131.38 689.91 L131.90 690.66 L132.41 691.42 L132.90 692.19 L133.38 692.97 L133.85 693.75 L134.30 694.55 L134.74 695.35 L135.17 696.16 L135.58 696.98 L135.98 697.81 L136.36 698.64 L136.73 699.48 L137.09 700.33 L137.43 701.18 L137.76 702.04 L138.07 702.91 L138.37 703.78 L138.65 704.65 L138.92 705.53 L139.17 706.42 L139.41 707.31 L139.63 708.20 L139.84 709.10 L140.04 710.00 L140.21 710.91 L140.38 711.81 L140.52 712.72 L140.66 713.64 L140.77 714.55 L140.87 715.47 L140.96 716.39 L141.03 717.31 L141.08 718.23 L141.12 719.15 L141.15 720.08 L141.15 721.00 L141.15 721.92 L141.12 722.85 L141.08 723.77 L141.03 724.69 L140.96 725.61 L140.87 726.53 L140.77 727.45 L140.66 728.36 L140.52 729.28 L140.38 730.19 L140.21 731.09 L140.04 732.00 L139.84 732.90 L139.63 733.80 L139.41 734.69 L139.17 735.58 L138.92 736.47 L138.65 737.35 L138.37 738.22 L138.07 739.09 L137.76 739.96 L137.43 740.82 L137.09 741.67 L136.73 742.52 L136.36 743.36 L135.98 744.19 L135.58 745.02 L135.17 745.84 L134.74 746.65 L134.30 747.45 L133.85 748.25 L133.38 749.03 L132.90 749.81 L132.41 750.58 L131.90 751.34 L131.38 752.09 L130.85 752.84 L130.31 753.57 L129.75 754.29 L129.19 755.00 L128.61 755.71 L128.02 756.40 L127.41 757.08 L126.80 757.75 L126.17 758.41 L125.53 759.05 L124.89 759.69 L124.23 760.31 L123.56 760.92 L122.88 761.52 L122.19 762.11 L121.49 762.69 L120.79 763.25 L120.07 763.80 L119.34 764.33 L118.61 764.86 L117.86 765.37 L117.11 765.86 L116.35 766.34 L115.58 766.81 L114.80 767.27 L114.02 767.71 L113.22 768.13 L112.42 768.55 L111.62 768.94 L110.81 769.33 L109.99 769.69 L109.16 770.05 L108.33 770.39 L107.50 770.71 L106.65 771.02 L105.81 771.31 L104.96 771.59 L104.10 771.85 L103.24 772.10 L102.38 772.33 L101.51 772.54 L100.64 772.74 L99.76 772.93 L98.88 773.10 L98.00 773.25 L97.12 773.39 L96.23 773.51 L95.35 773.61 L94.46 773.70 L93.57 773.77 L92.68 773.83 L91.79 773.87 L90.89 773.89 L90.00 773.90 L89.11 773.89 L88.21 773.87 L87.32 773.83 L86.43 773.77 L85.54 773.70 L84.65 773.61 L83.77 773.51 L82.88 773.39 L82.00 773.25 L81.12 773.10 L80.24 772.93 L79.36 772.74 L78.49 772.54 L77.62 772.33 L76.76 772.10 L75.90 771.85 L75.04 771.59 L74.19 771.31 L73.35 771.02 L72.50 770.71 L71.67 770.39 L70.84 770.05 L70.01 769.69 L69.19 769.33 L68.38 768.94 L67.58 768.55 L66.78 768.13 L65.98 767.71 L65.20 767.27 L64.42 766.81 L63.65 766.34 L62.89 765.86 L62.14 765.37 L61.39 764.86 L60.66 764.33 L59.93 763.80 L59.21 763.25 L58.51 762.69 L57.81 762.11 L57.12 761.52 L56.44 760.92 L55.77 760.31 L55.11 759.69 L54.47 759.05 L53.83 758.41 L53.20 757.75 L52.59 757.08 L51.98 756.40 L51.39 755.71 L50.81 755.00 L50.25 754.29 L49.69 753.57 L49.15 752.84 L48.62 752.09 L48.10 751.34 L47.59 750.58 L47.10 749.81 L46.62 749.03 L46.15 748.25 L45.70 747.45 L45.26 746.65 L44.83 745.84 L44.42 745.02 L44.02 744.19 L43.64 743.36 L43.27 742.52 L42.91 741.67 L42.57 740.82 L42.24 739.96 L41.93 739.09 L41.63 738.22 L41.35 737.35 L41.08 736.47 L40.83 735.58 L40.59 734.69 L40.37 733.80 L40.16 732.90 L39.96 732.00 L39.79 731.09 L39.62 730.19 L39.48 729.28 L39.34 728.36 L39.23 727.45 L39.13 726.53 L39.04 725.61 L38.97 724.69 L38.92 723.77 L38.88 722.85 L38.85 721.92 L38.85 721.00 L38.85 720.08 L38.88 719.15 L38.92 718.23 L38.97 717.31 L39.04 716.39 L39.13 715.47 L39.23 714.55 L39.34 713.64 L39.48 712.72 L39.62 711.81 L39.79 710.91 L39.96 710.00 L40.16 709.10 L40.37 708.20 L40.59 707.31 L40.83 706.42 L41.08 705.53 L41.35 704.65 L41.63 703.78 L41.93 702.91 L42.24 702.04 L42.57 701.18 L42.91 700.33 L43.27 699.48 L43.64 698.64 L44.02 697.81 L44.42 696.98 L44.83 696.16 L45.26 695.35 L45.70 694.55 L46.15 693.75 L46.62 692.97 L47.10 692.19 L47.59 691.42 L48.10 690.66 L48.62 689.91 L49.15 689.16 L49.69 688.43 L50.25 687.71 L50.81 687.00 L51.39 686.29 L51.98 685.60 L52.59 684.92 L53.20 684.25 L53.83 683.59 L54.47 682.95 L55.11 682.31 L55.77 681.69 L56.44 681.08 L57.12 680.48 L57.81 679.89 L58.51 679.31 L59.21 678.75 L59.93 678.20 L60.66 677.67 L61.39 677.14 L62.14 676.63 L62.89 676.14 L63.65 675.66 L64.42 675.19 L65.20 674.73 L65.98 674.29 L66.78 673.87 L67.58 673.45 L68.38 673.06 L69.19 672.67 L70.01 672.31 L70.84 671.95 L71.67 671.61 L72.50 671.29 L73.35 670.98 L74.19 670.69 L75.04 670.41 L75.90 670.15 L76.76 669.90 L77.62 669.67 L78.49 669.46 L79.36 669.26 L80.24 669.07 L81.12 668.90 L82.00 668.75 L82.88 668.61 L83.77 668.49 L84.65 668.39 L85.54 668.30 L86.43 668.23 L87.32 668.17 L88.21 668.13 L89.11 668.11 Z M89.12 668.72 L88.23 668.71 L87.43 670.34 L86.54 669.80 L85.64 669.48 L84.82 670.01 L83.97 670.20 L83.15 670.59 L82.49 671.97 L81.40 670.57 L80.32 669.51 L79.46 669.70 L78.59 669.89 L77.88 670.71 L77.30 671.99 L77.16 674.70 L75.32 671.35 L74.58 671.92 L73.49 671.41 L73.05 672.85 L72.43 673.66 L71.00 672.37 L70.18 672.72 L69.52 673.44 L68.73 673.82 L67.77 673.86 L66.99 674.30 L66.33 674.96 L65.41 675.13 L64.74 675.76 L63.88 676.04 L63.31 676.83 L62.59 677.35 L61.65 677.53 L60.91 678.04 L60.32 678.75 L60.03 679.87 L59.42 680.52 L58.33 680.55 L57.47 680.91 L56.73 681.42 L56.06 682.02 L55.41 682.64 L55.19 683.72 L54.52 684.31 L54.49 685.53 L53.26 685.57 L52.31 685.90 L51.72 686.59 L51.15 687.29 L50.76 688.14 L50.39 689.00 L49.49 689.43 L48.97 690.17 L48.47 690.93 L48.62 692.13 L47.46 692.43 L46.99 693.21 L46.90 694.22 L46.08 694.77 L45.64 695.57 L45.22 696.38 L44.81 697.19 L44.70 698.15 L44.39 699.01 L44.32 699.97 L43.73 700.69 L43.02 701.37 L43.05 702.36 L42.72 703.20 L42.92 704.24 L42.32 704.98 L41.77 705.75 L41.25 706.54 L41.05 707.43 L41.18 708.41 L40.58 709.20 L40.39 710.10 L40.21 710.99 L40.66 712.00 L41.02 712.98 L39.77 713.70 L39.66 714.61 L39.56 715.52 L40.04 716.48 L39.47 717.35 L39.35 718.25 L39.31 719.17 L40.26 720.10 L40.06 721.00 L39.69 721.91 L39.31 722.83 L39.37 723.74 L39.85 724.63 L39.47 725.57 L39.56 726.48 L39.66 727.39 L39.97 728.27 L39.91 729.20 L40.05 730.11 L40.48 730.95 L41.71 731.61 L40.62 732.79 L41.31 733.55 L41.06 734.56 L41.25 735.46 L41.50 736.33 L42.84 736.85 L43.26 737.64 L42.95 738.71 L42.65 739.80 L42.97 740.65 L43.76 741.30 L43.80 742.27 L44.03 743.17 L44.41 743.99 L45.01 744.71 L45.22 745.62 L45.64 746.43 L46.69 746.86 L47.07 747.68 L47.40 748.53 L47.46 749.57 L48.38 750.03 L49.03 750.67 L48.97 751.83 L50.93 751.44 L50.89 752.60 L53.42 751.63 L53.76 752.45 L52.00 755.16 L52.73 755.70 L52.91 756.77 L53.52 757.43 L54.60 757.60 L55.62 757.81 L57.60 756.93 L57.82 757.95 L57.52 759.64 L57.40 761.18 L58.72 760.94 L60.21 760.43 L60.55 761.41 L60.34 763.22 L61.78 762.67 L62.12 763.75 L62.38 764.99 L63.16 765.41 L63.88 765.96 L64.64 766.42 L65.41 766.87 L66.19 767.31 L66.97 767.73 L67.77 768.14 L68.57 768.54 L69.37 768.92 L70.18 769.28 L71.06 769.48 L72.35 768.56 L72.65 770.29 L73.49 770.59 L74.87 769.16 L75.17 771.16 L76.23 770.64 L77.78 768.14 L78.51 768.64 L79.32 768.84 L80.03 769.51 L80.69 770.53 L81.44 771.21 L82.31 771.19 L82.94 772.94 L83.94 772.07 L84.76 772.54 L85.71 771.75 L86.46 773.32 L87.37 772.83 L88.32 770.61 L89.16 771.04 L90.00 773.38 L90.89 773.44 L91.77 773.34 L92.62 772.78 L93.35 770.61 L94.42 773.25 L95.19 772.08 L96.18 773.06 L96.60 769.53 L97.52 770.07 L98.81 772.65 L99.68 772.49 L99.95 769.40 L100.76 769.20 L102.03 770.91 L103.13 771.66 L103.88 771.05 L104.23 769.12 L105.67 770.88 L106.51 770.59 L107.30 770.16 L107.91 769.26 L109.00 769.63 L109.11 767.56 L110.07 767.62 L111.04 767.65 L112.13 767.92 L112.77 767.22 L113.81 767.31 L114.59 766.87 L113.53 763.15 L114.28 762.79 L115.79 763.67 L116.86 763.77 L118.36 764.48 L119.09 763.96 L118.21 761.15 L119.52 761.50 L120.94 761.95 L121.76 761.56 L122.60 761.18 L123.27 760.58 L123.94 759.98 L124.41 759.16 L123.61 756.99 L125.66 757.88 L124.22 755.17 L127.09 756.77 L127.42 755.84 L128.28 755.41 L128.13 754.09 L129.42 754.01 L129.45 752.88 L129.69 751.93 L128.60 750.01 L129.69 749.74 L128.24 747.68 L130.76 748.37 L132.25 748.30 L130.68 746.28 L132.90 746.61 L134.36 746.43 L134.26 745.33 L131.21 742.71 L131.93 742.15 L132.63 741.56 L136.33 742.33 L136.69 741.49 L135.97 740.21 L135.69 739.14 L134.87 737.89 L136.03 737.39 L136.61 736.66 L137.75 736.10 L135.86 734.60 L136.52 733.89 L137.59 733.27 L139.42 732.80 L139.61 731.90 L139.79 731.01 L139.83 730.09 L139.42 729.10 L137.48 727.90 L135.69 726.80 L139.91 726.43 L140.44 725.56 L140.54 724.65 L140.65 723.75 L140.69 722.83 L140.71 721.92 L140.72 721.00 L140.71 720.08 L137.28 719.29 L138.11 718.39 L140.21 717.37 L138.74 716.59 L138.28 715.75 L138.43 714.85 L138.04 714.02 L139.30 712.93 L138.30 712.19 L138.12 711.33 L139.38 710.15 L138.76 709.36 L138.20 708.57 L138.33 707.61 L138.75 706.54 L137.10 706.11 L133.78 706.29 L133.54 705.50 L134.42 704.28 L132.97 703.94 L135.75 701.88 L136.69 700.51 L136.15 699.75 L135.87 698.88 L135.59 698.01 L135.19 697.19 L134.78 696.38 L132.13 696.85 L133.92 694.77 L133.47 693.99 L133.01 693.21 L132.54 692.43 L132.05 691.67 L131.52 690.93 L130.94 690.24 L130.51 689.43 L129.58 689.02 L129.12 688.24 L128.85 687.29 L127.66 687.15 L126.40 687.11 L126.64 685.67 L126.48 684.57 L125.86 683.91 L125.23 683.27 L124.59 682.64 L123.71 682.28 L123.08 681.64 L122.60 680.82 L120.92 681.52 L121.23 679.67 L119.24 680.88 L119.81 678.57 L119.09 678.04 L118.36 677.52 L117.03 677.95 L116.88 676.52 L115.90 676.42 L114.79 676.59 L114.45 675.39 L113.77 674.77 L112.93 674.46 L112.00 674.36 L111.41 673.52 L110.63 673.09 L109.82 672.72 L109.00 672.37 L108.18 672.03 L107.10 672.43 L106.00 672.95 L105.67 671.12 L104.83 670.84 L103.98 670.58 L102.94 671.05 L102.04 671.08 L101.41 669.89 L100.52 669.84 L99.68 669.51 L98.81 669.35 L97.93 669.20 L96.97 669.74 L96.18 668.94 L95.27 669.14 L94.15 671.93 L93.45 669.97 L92.54 670.97 L91.77 668.58 L90.86 670.06 L90.00 669.24 Z" fill="#000" fill-rule="evenodd"/>
<path d="M90.00 680.00 L90.74 677.15 L91.38 680.02 Z M91.38 680.02 L92.25 676.61 L92.77 680.10 Z M92.77 680.10 L93.66 677.75 L94.14 680.22 Z M94.14 680.22 L95.29 676.43 L95.52 680.40 Z M98.24 680.90 L99.40 678.89 L99.59 681.22 Z M100.93 681.59 L102.15 679.91 L102.25 682.01 Z M102.25 682.01 L103.47 680.55 L103.56 682.47 Z M103.56 682.47 L104.83 681.04 L104.85 682.99 Z M104.85 682.99 L107.00 679.58 L106.13 683.54 Z M106.13 683.54 L108.31 680.39 L107.38 684.15 Z M107.38 684.15 L108.98 682.48 L108.61 684.80 Z M108.61 684.80 L109.92 683.84 L109.82 685.49 Z M109.82 685.49 L110.94 684.96 L111.01 686.23 Z M111.01 686.23 L112.48 685.21 L112.17 687.01 Z M112.17 687.01 L114.96 684.14 L113.30 687.83 Z M113.30 687.83 L115.32 686.25 L114.41 688.69 Z M114.41 688.69 L116.62 687.00 L115.48 689.59 Z M115.48 689.59 L118.55 687.04 L116.53 690.53 Z M116.53 690.53 L118.43 689.47 L117.54 691.51 Z M118.52 692.52 L120.63 691.47 L119.46 693.57 Z M119.46 693.57 L122.84 691.48 L120.37 694.65 Z M120.37 694.65 L121.51 694.61 L121.24 695.76 Z M121.24 695.76 L122.41 695.75 L122.08 696.90 Z M122.08 696.90 L124.32 696.15 L122.87 698.07 Z M122.87 698.07 L125.26 697.32 L123.62 699.27 Z M123.62 699.27 L125.71 698.81 L124.34 700.50 Z M124.34 700.50 L125.29 700.77 L125.01 701.75 Z M125.01 701.75 L127.08 701.46 L125.63 703.03 Z M125.63 703.03 L127.92 702.72 L126.22 704.32 Z M126.22 704.32 L129.60 703.62 L126.76 705.64 Z M126.76 705.64 L129.08 705.49 L127.26 706.98 Z M127.26 706.98 L129.87 706.80 L127.71 708.33 Z M127.71 708.33 L128.98 708.68 L128.11 709.70 Z M128.47 711.08 L131.28 711.15 L128.78 712.48 Z M128.78 712.48 L129.70 713.02 L129.04 713.88 Z M129.04 713.88 L132.20 714.09 L129.26 715.29 Z M129.26 715.29 L132.31 715.63 L129.43 716.71 Z M129.43 716.71 L131.14 717.28 L129.55 718.14 Z M129.55 718.14 L129.67 718.85 L129.62 719.57 Z M129.62 719.57 L130.39 720.27 L129.65 721.00 Z M129.65 721.00 L131.61 721.75 L129.62 722.43 Z M129.55 723.86 L129.70 724.59 L129.43 725.29 Z M129.43 725.29 L131.45 726.26 L129.26 726.71 Z M129.26 726.71 L130.78 727.68 L129.04 728.12 Z M128.78 729.52 L129.35 730.39 L128.47 730.92 Z M128.47 730.92 L132.03 732.65 L128.11 732.30 Z M128.11 732.30 L129.00 733.33 L127.71 733.67 Z M127.71 733.67 L129.42 735.04 L127.26 735.02 Z M127.26 735.02 L128.79 736.40 L126.76 736.36 Z M126.76 736.36 L128.04 737.70 L126.22 737.68 Z M126.22 737.68 L128.24 739.44 L125.63 738.97 Z M125.63 738.97 L125.48 739.70 L125.01 740.25 Z M125.01 740.25 L124.79 740.94 L124.34 741.50 Z M124.34 741.50 L124.78 742.61 L123.62 742.73 Z M122.08 745.10 L122.19 746.09 L121.24 746.24 Z M121.24 746.24 L121.65 747.51 L120.37 747.35 Z M120.37 747.35 L121.34 749.18 L119.46 748.43 Z M119.46 748.43 L121.20 751.09 L118.52 749.48 Z M115.48 752.41 L115.59 753.68 L114.41 753.31 Z M114.41 753.31 L114.89 755.15 L113.30 754.17 Z M113.30 754.17 L114.05 756.51 L112.17 754.99 Z M112.17 754.99 L112.97 757.57 L111.01 755.77 Z M111.01 755.77 L111.26 757.58 L109.82 756.51 Z M109.82 756.51 L110.11 758.52 L108.61 757.20 Z M107.38 757.85 L107.41 759.62 L106.13 758.46 Z M106.13 758.46 L106.28 760.66 L104.85 759.01 Z M104.85 759.01 L104.83 760.96 L103.56 759.53 Z M103.56 759.53 L103.28 760.89 L102.25 759.99 Z M102.25 759.99 L102.46 763.13 L100.93 760.41 Z M100.93 760.41 L100.83 762.81 L99.59 760.78 Z M99.59 760.78 L99.27 762.54 L98.24 761.10 Z M98.24 761.10 L98.16 764.44 L96.88 761.38 Z M96.88 761.38 L96.69 764.67 L95.52 761.60 Z M95.52 761.60 L95.17 764.54 L94.14 761.78 Z M94.14 761.78 L93.70 764.76 L92.77 761.90 Z M92.77 761.90 L92.17 763.75 L91.38 761.98 Z M91.38 761.98 L90.72 763.62 L90.00 762.00 Z M90.00 762.00 L89.28 763.84 L88.62 761.98 Z M88.62 761.98 L87.85 763.35 L87.23 761.90 Z M85.86 761.78 L84.91 763.88 L84.48 761.60 Z M84.48 761.60 L83.48 763.54 L83.12 761.38 Z M81.76 761.10 L80.85 761.98 L80.41 760.78 Z M80.41 760.78 L79.45 761.71 L79.07 760.41 Z M77.75 759.99 L76.36 761.97 L76.44 759.53 Z M76.44 759.53 L74.85 761.82 L75.15 759.01 Z M75.15 759.01 L74.36 759.10 L73.87 758.46 Z M73.87 758.46 L72.82 759.11 L72.62 757.85 Z M72.62 757.85 L70.75 760.06 L71.39 757.20 Z M71.39 757.20 L69.33 759.55 L70.18 756.51 Z M70.18 756.51 L68.26 758.41 L68.99 755.77 Z M68.99 755.77 L66.58 758.30 L67.83 754.99 Z M67.83 754.99 L66.82 755.23 L66.70 754.17 Z M66.70 754.17 L65.60 754.48 L65.59 753.31 Z M65.59 753.31 L64.99 752.94 L64.52 752.41 Z M64.52 752.41 L62.67 753.51 L63.47 751.47 Z M63.47 751.47 L60.32 753.91 L62.46 750.49 Z M62.46 750.49 L59.72 752.31 L61.48 749.48 Z M60.54 748.43 L57.98 749.79 L59.63 747.35 Z M58.76 746.24 L57.45 746.36 L57.92 745.10 Z M57.92 745.10 L54.35 746.81 L57.13 743.93 Z M57.13 743.93 L53.51 745.51 L56.38 742.73 Z M56.38 742.73 L52.93 744.04 L55.66 741.50 Z M55.66 741.50 L54.31 741.46 L54.99 740.25 Z M54.99 740.25 L51.78 741.14 L54.37 738.97 Z M54.37 738.97 L51.50 739.56 L53.78 737.68 Z M53.78 737.68 L51.98 737.69 L53.24 736.36 Z M53.24 736.36 L50.32 736.75 L52.74 735.02 Z M52.74 735.02 L49.44 735.44 L52.29 733.67 Z M52.29 733.67 L50.41 733.52 L51.89 732.30 Z M51.89 732.30 L48.85 732.40 L51.53 730.92 Z M51.53 730.92 L50.81 730.36 L51.22 729.52 Z M51.22 729.52 L48.62 729.32 L50.96 728.12 Z M50.96 728.12 L49.56 727.62 L50.74 726.71 Z M50.74 726.71 L48.17 726.31 L50.57 725.29 Z M50.57 725.29 L46.69 724.92 L50.45 723.86 Z M50.45 723.86 L48.06 723.27 L50.38 722.43 Z M50.35 721.00 L49.71 720.27 L50.38 719.57 Z M50.45 718.14 L48.71 717.26 L50.57 716.71 Z M50.57 716.71 L50.42 715.97 L50.74 715.29 Z M50.96 713.88 L51.06 713.17 L51.22 712.48 Z M51.22 712.48 L48.85 711.18 L51.53 711.08 Z M51.53 711.08 L49.63 709.81 L51.89 709.70 Z M51.89 709.70 L49.95 708.34 L52.29 708.33 Z M52.29 708.33 L48.90 706.36 L52.74 706.98 Z M52.74 706.98 L51.04 705.53 L53.24 705.64 Z M53.78 704.32 L53.26 703.28 L54.37 703.03 Z M54.37 703.03 L52.83 701.41 L54.99 701.75 Z M54.99 701.75 L53.33 699.98 L55.66 700.50 Z M55.66 700.50 L55.11 699.32 L56.38 699.27 Z M56.38 699.27 L55.82 698.04 L57.13 698.07 Z M57.13 698.07 L56.04 696.41 L57.92 696.90 Z M57.92 696.90 L56.01 694.51 L58.76 695.76 Z M59.63 694.65 L59.82 693.87 L60.54 693.57 Z M60.54 693.57 L59.68 691.76 L61.48 692.52 Z M61.48 692.52 L60.40 690.39 L62.46 691.51 Z M62.46 691.51 L61.57 689.47 L63.47 690.53 Z M64.52 689.59 L63.08 686.62 L65.59 688.69 Z M65.59 688.69 L65.31 687.12 L66.70 687.83 Z M68.99 686.23 L68.99 684.84 L70.18 685.49 Z M70.18 685.49 L69.33 682.44 L71.39 684.80 Z M71.39 684.80 L71.26 682.97 L72.62 684.15 Z M72.62 684.15 L72.93 683.15 L73.87 683.54 Z M73.87 683.54 L73.44 680.65 L75.15 682.99 Z M75.15 682.99 L75.71 682.50 L76.44 682.47 Z M76.44 682.47 L76.33 679.95 L77.75 682.01 Z M77.75 682.01 L78.31 681.47 L79.07 681.59 Z M79.07 681.59 L78.97 678.43 L80.41 681.22 Z M80.41 681.22 L80.69 679.30 L81.76 680.90 Z M81.76 680.90 L82.06 678.75 L83.12 680.62 Z M83.12 680.62 L83.52 678.69 L84.48 680.40 Z M84.48 680.40 L85.10 679.75 L85.86 680.22 Z M85.86 680.22 L86.47 679.31 L87.23 680.10 Z M87.23 680.10 L87.76 676.82 L88.62 680.02 Z M88.62 680.02 L89.28 678.58 L90.00 680.00 Z " fill="#9a1a9a"/>
<path d="M95.52 680.40 L96.05 681.47 L96.88 680.62 Z M96.88 680.62 L97.24 682.49 L98.24 680.90 Z M99.59 681.22 L99.68 683.63 L100.93 681.59 Z M117.54 691.51 L117.71 692.35 L118.52 692.52 Z M128.11 709.70 L126.11 710.99 L128.47 711.08 Z M129.62 722.43 L128.17 723.07 L129.55 723.86 Z M129.04 728.12 L127.74 728.59 L128.78 729.52 Z M123.62 742.73 L121.35 742.05 L122.87 743.93 Z M122.87 743.93 L121.82 744.04 L122.08 745.10 Z M118.52 749.48 L117.17 749.10 L117.54 750.49 Z M117.54 750.49 L116.29 750.15 L116.53 751.47 Z M116.53 751.47 L115.92 751.84 L115.48 752.41 Z M108.61 757.20 L107.82 757.18 L107.38 757.85 Z M87.23 761.90 L86.65 760.57 L85.86 761.78 Z M83.12 761.38 L82.52 760.79 L81.76 761.10 Z M79.07 760.41 L78.54 759.78 L77.75 759.99 Z M61.48 749.48 L61.52 748.46 L60.54 748.43 Z M59.63 747.35 L60.54 745.67 L58.76 746.24 Z M50.38 722.43 L51.43 721.70 L50.35 721.00 Z M50.38 719.57 L51.04 718.89 L50.45 718.14 Z M50.74 715.29 L52.16 714.80 L50.96 713.88 Z M53.24 705.64 L55.35 705.79 L53.78 704.32 Z M58.76 695.76 L59.79 695.70 L59.63 694.65 Z M63.47 690.53 L64.38 690.52 L64.52 689.59 Z M66.70 687.83 L67.28 687.44 L67.83 687.01 Z M67.83 687.01 L68.67 687.04 L68.99 686.23 Z " fill="#1a9a1a"/>
<ellipse cx="90.0" cy="721.0" rx="39.65" ry="41.0" fill="none" stroke="#9a1a9a" stroke-width="0.5"/>
<ellipse cx="90.0" cy="721.0" rx="34.81" ry="36.0" fill="none" stroke="#b0b0b0" stroke-width="0.4"/>
<line x1="90.00" y1="685.00" x2="90.00" y2="686.80" stroke="#999" stroke-width="0.3"/>
<line x1="92.73" y1="685.11" x2="92.66" y2="686.11" stroke="#999" stroke-width="0.3"/>
<line x1="95.45" y1="685.44" x2="95.17" y2="687.22" stroke="#999" stroke-width="0.3"/>
<line x1="98.13" y1="685.99" x2="97.90" y2="686.97" stroke="#999" stroke-width="0.3"/>
<line x1="100.76" y1="686.76" x2="100.22" y2="688.47" stroke="#999" stroke-width="0.3"/>
<line x1="103.32" y1="687.74" x2="102.95" y2="688.66" stroke="#999" stroke-width="0.3"/>
<line x1="105.80" y1="688.92" x2="105.01" y2="690.53" stroke="#999" stroke-width="0.3"/>
<line x1="108.19" y1="690.30" x2="107.68" y2="691.16" stroke="#999" stroke-width="0.3"/>
<line x1="110.46" y1="691.88" x2="109.44" y2="693.33" stroke="#999" stroke-width="0.3"/>
<line x1="112.61" y1="693.63" x2="111.98" y2="694.39" stroke="#999" stroke-width="0.3"/>
<line x1="114.62" y1="695.54" x2="113.39" y2="696.82" stroke="#999" stroke-width="0.3"/>
<line x1="116.47" y1="697.62" x2="115.74" y2="698.27" stroke="#999" stroke-width="0.3"/>
<line x1="118.16" y1="699.84" x2="116.76" y2="700.90" stroke="#999" stroke-width="0.3"/>
<line x1="119.68" y1="702.19" x2="118.86" y2="702.71" stroke="#999" stroke-width="0.3"/>
<line x1="121.02" y1="704.66" x2="119.47" y2="705.47" stroke="#999" stroke-width="0.3"/>
<line x1="122.16" y1="707.22" x2="121.27" y2="707.61" stroke="#999" stroke-width="0.3"/>
<line x1="123.11" y1="709.88" x2="121.45" y2="710.43" stroke="#999" stroke-width="0.3"/>
<line x1="123.85" y1="712.60" x2="122.91" y2="712.83" stroke="#999" stroke-width="0.3"/>
<line x1="124.38" y1="715.37" x2="122.66" y2="715.65" stroke="#999" stroke-width="0.3"/>
<line x1="124.70" y1="718.18" x2="123.74" y2="718.25" stroke="#999" stroke-width="0.3"/>
<line x1="124.81" y1="721.00" x2="123.07" y2="721.00" stroke="#999" stroke-width="0.3"/>
<line x1="124.70" y1="723.82" x2="123.74" y2="723.75" stroke="#999" stroke-width="0.3"/>
<line x1="124.38" y1="726.63" x2="122.66" y2="726.35" stroke="#999" stroke-width="0.3"/>
<line x1="123.85" y1="729.40" x2="122.91" y2="729.17" stroke="#999" stroke-width="0.3"/>
<line x1="123.11" y1="732.12" x2="121.45" y2="731.57" stroke="#999" stroke-width="0.3"/>
<line x1="122.16" y1="734.78" x2="121.27" y2="734.39" stroke="#999" stroke-width="0.3"/>
<line x1="121.02" y1="737.34" x2="119.47" y2="736.53" stroke="#999" stroke-width="0.3"/>
<line x1="119.68" y1="739.81" x2="118.86" y2="739.29" stroke="#999" stroke-width="0.3"/>
<line x1="118.16" y1="742.16" x2="116.76" y2="741.10" stroke="#999" stroke-width="0.3"/>
<line x1="116.47" y1="744.38" x2="115.74" y2="743.73" stroke="#999" stroke-width="0.3"/>
<line x1="114.62" y1="746.46" x2="113.39" y2="745.18" stroke="#999" stroke-width="0.3"/>
<line x1="112.61" y1="748.37" x2="111.98" y2="747.61" stroke="#999" stroke-width="0.3"/>
<line x1="110.46" y1="750.12" x2="109.44" y2="748.67" stroke="#999" stroke-width="0.3"/>
<line x1="108.19" y1="751.70" x2="107.68" y2="750.84" stroke="#999" stroke-width="0.3"/>
<line x1="105.80" y1="753.08" x2="105.01" y2="751.47" stroke="#999" stroke-width="0.3"/>
<line x1="103.32" y1="754.26" x2="102.95" y2="753.34" stroke="#999" stroke-width="0.3"/>
<line x1="100.76" y1="755.24" x2="100.22" y2="753.53" stroke="#999" stroke-width="0.3"/>
<line x1="98.13" y1="756.01" x2="97.90" y2="755.03" stroke="#999" stroke-width="0.3"/>
<line x1="95.45" y1="756.56" x2="95.17" y2="754.78" stroke="#999" stroke-width="0.3"/>
<line x1="92.73" y1="756.89" x2="92.66" y2="755.89" stroke="#999" stroke-width="0.3"/>
<line x1="90.00" y1="757.00" x2="90.00" y2="755.20" stroke="#999" stroke-width="0.3"/>
<line x1="87.27" y1="756.89" x2="87.34" y2="755.89" stroke="#999" stroke-width="0.3"/>
<line x1="84.55" y1="756.56" x2="84.83" y2="754.78" stroke="#999" stroke-width="0.3"/>
<line x1="81.87" y1="756.01" x2="82.10" y2="755.03" stroke="#999" stroke-width="0.3"/>
<line x1="79.24" y1="755.24" x2="79.78" y2="753.53" stroke="#999" stroke-width="0.3"/>
<line x1="76.68" y1="754.26" x2="77.05" y2="753.34" stroke="#999" stroke-width="0.3"/>
<line x1="74.20" y1="753.08" x2="74.99" y2="751.47" stroke="#999" stroke-width="0.3"/>
<line x1="71.81" y1="751.70" x2="72.32" y2="750.84" stroke="#999" stroke-width="0.3"/>
<line x1="69.54" y1="750.12" x2="70.56" y2="748.67" stroke="#999" stroke-width="0.3"/>
<line x1="67.39" y1="748.37" x2="68.02" y2="747.61" stroke="#999" stroke-width="0.3"/>
<line x1="65.38" y1="746.46" x2="66.61" y2="745.18" stroke="#999" stroke-width="0.3"/>
<line x1="63.53" y1="744.38" x2="64.26" y2="743.73" stroke="#999" stroke-width="0.3"/>
<line x1="61.84" y1="742.16" x2="63.24" y2="741.10" stroke="#999" stroke-width="0.3"/>
<line x1="60.32" y1="739.81" x2="61.14" y2="739.29" stroke="#999" stroke-width="0.3"/>
<line x1="58.98" y1="737.34" x2="60.53" y2="736.53" stroke="#999" stroke-width="0.3"/>
<line x1="57.84" y1="734.78" x2="58.73" y2="734.39" stroke="#999" stroke-width="0.3"/>
<line x1="56.89" y1="732.12" x2="58.55" y2="731.57" stroke="#999" stroke-width="0.3"/>
<line x1="56.15" y1="729.40" x2="57.09" y2="729.17" stroke="#999" stroke-width="0.3"/>
<line x1="55.62" y1="726.63" x2="57.34" y2="726.35" stroke="#999" stroke-width="0.3"/>
<line x1="55.30" y1="723.82" x2="56.26" y2="723.75" stroke="#999" stroke-width="0.3"/>
<line x1="55.19" y1="721.00" x2="56.93" y2="721.00" stroke="#999" stroke-width="0.3"/>
<line x1="55.30" y1="718.18" x2="56.26" y2="718.25" stroke="#999" stroke-width="0.3"/>
<line x1="55.62" y1="715.37" x2="57.34" y2="715.65" stroke="#999" stroke-width="0.3"/>
<line x1="56.15" y1="712.60" x2="57.09" y2="712.83" stroke="#999" stroke-width="0.3"/>
<line x1="56.89" y1="709.88" x2="58.55" y2="710.43" stroke="#999" stroke-width="0.3"/>
<line x1="57.84" y1="707.22" x2="58.73" y2="707.61" stroke="#999" stroke-width="0.3"/>
<line x1="58.98" y1="704.66" x2="60.53" y2="705.47" stroke="#999" stroke-width="0.3"/>
<line x1="60.32" y1="702.19" x2="61.14" y2="702.71" stroke="#999" stroke-width="0.3"/>
<line x1="61.84" y1="699.84" x2="63.24" y2="700.90" stroke="#999" stroke-width="0.3"/>
<line x1="63.53" y1="697.62" x2="64.26" y2="698.27" stroke="#999" stroke-width="0.3"/>
<line x1="65.38" y1="695.54" x2="66.61" y2="696.82" stroke="#999" stroke-width="0.3"/>
<line x1="67.39" y1="693.63" x2="68.02" y2="694.39" stroke="#999" stroke-width="0.3"/>
<line x1="69.54" y1="691.88" x2="70.56" y2="693.33" stroke="#999" stroke-width="0.3"/>
<line x1="71.81" y1="690.30" x2="72.32" y2="691.16" stroke="#999" stroke-width="0.3"/>
<line x1="74.20" y1="688.92" x2="74.99" y2="690.53" stroke="#999" stroke-width="0.3"/>
<line x1="76.68" y1="687.74" x2="77.05" y2="688.66" stroke="#999" stroke-width="0.3"/>
<line x1="79.24" y1="686.76" x2="79.78" y2="688.47" stroke="#999" stroke-width="0.3"/>
<line x1="81.87" y1="685.99" x2="82.10" y2="686.97" stroke="#999" stroke-width="0.3"/>
<line x1="84.55" y1="685.44" x2="84.83" y2="687.22" stroke="#999" stroke-width="0.3"/>
<line x1="87.27" y1="685.11" x2="87.34" y2="686.11" stroke="#999" stroke-width="0.3"/>
<text x="105.80" y="698.40" font-size="3.3" fill="#444" text-anchor="middle" font-weight="normal" font-family="'Liberation Serif', 'Times New Roman', serif" >10 kbp</text>
<text x="116.00" y="716.80" font-size="3.3" fill="#444" text-anchor="middle" font-weight="normal" font-family="'Liberation Serif', 'Times New Roman', serif" >20 kbp</text>
<text x="112.00" y="737.90" font-size="3.3" fill="#444" text-anchor="middle" font-weight="normal" font-family="'Liberation Serif', 'Times New Roman', serif" >30 kbp</text>
<text x="93.60" y="752.20" font-size="3.3" fill="#444" text-anchor="middle" font-weight="normal" font-family="'Liberation Serif', 'Times New Roman', serif" >40 kbp</text>
<text x="79.30" y="750.70" font-size="3.3" fill="#444" text-anchor="middle" font-weight="normal" font-family="'Liberation Serif', 'Times New Roman', serif" >50 kbp</text>
<text x="62.90" y="734.40" font-size="3.3" fill="#444" text-anchor="middle" font-weight="normal" font-family="'Liberation Serif', 'Times New Roman', serif" >60 kbp</text>
<text x="59.90" y="714.00" font-size="3.3" fill="#444" text-anchor="middle" font-weight="normal" font-family="'Liberation Serif', 'Times New Roman', serif" >70 kbp</text>
<text x="75.20" y="695.60" font-size="3.3" fill="#444" text-anchor="middle" font-weight="normal" font-family="'Liberation Serif', 'Times New Roman', serif" >80 kbp</text>
<text x="89.25" y="719.10" font-size="6.3" fill="#f5a623" text-anchor="middle" font-weight="bold" font-family="'Liberation Serif', 'Times New Roman', serif"  textLength="33.7" lengthAdjust="spacingAndGlyphs">P7-Conj-IncI</text>
<text x="89.25" y="727.80" font-size="5.0" fill="#f5a623" text-anchor="middle" font-weight="bold" font-family="'Liberation Serif', 'Times New Roman', serif"  textLength="21.5" lengthAdjust="spacingAndGlyphs">80,060 bp</text>
<line x1="72.74" y1="659.96" x2="68.97" y2="646.62" stroke="#5aa84a" stroke-width="0.35"/>
<text x="68.02" y="644.46" font-size="3.4" fill="#4aa03a" text-anchor="middle" font-weight="normal" font-family="'Liberation Serif', 'Times New Roman', serif" >traY</text>
<line x1="64.01" y1="663.36" x2="58.33" y2="650.76" stroke="#5aa84a" stroke-width="0.35"/>
<text x="56.90" y="648.79" font-size="3.4" fill="#4aa03a" text-anchor="end" font-weight="normal" font-family="'Liberation Serif', 'Times New Roman', serif" >traW</text>
<line x1="54.72" y1="668.90" x2="47.01" y2="657.52" stroke="#5aa84a" stroke-width="0.35"/>
<text x="45.07" y="655.85" font-size="3.4" fill="#4aa03a" text-anchor="end" font-weight="normal" font-family="'Liberation Serif', 'Times New Roman', serif" >traU</text>
<line x1="40.88" y1="682.72" x2="30.15" y2="674.36" stroke="#5aa84a" stroke-width="0.35"/>
<text x="27.45" y="673.45" font-size="3.4" fill="#4aa03a" text-anchor="end" font-weight="normal" font-family="'Liberation Serif', 'Times New Roman', serif" >traR</text>
<line x1="36.74" y1="689.20" x2="25.10" y2="682.25" stroke="#5aa84a" stroke-width="0.35"/>
<text x="22.17" y="681.70" font-size="3.4" fill="#4aa03a" text-anchor="end" font-weight="normal" font-family="'Liberation Serif', 'Times New Roman', serif" >traQ</text>
<line x1="30.59" y1="704.54" x2="17.61" y2="700.94" stroke="#5aa84a" stroke-width="0.35"/>
<text x="14.34" y="701.24" font-size="3.4" fill="#4aa03a" text-anchor="end" font-weight="normal" font-family="'Liberation Serif', 'Times New Roman', serif" >trbC</text>
<line x1="28.56" y1="718.23" x2="15.13" y2="717.62" stroke="#5aa84a" stroke-width="0.35"/>
<text x="11.75" y="718.67" font-size="3.4" fill="#4aa03a" text-anchor="end" font-weight="normal" font-family="'Liberation Serif', 'Times New Roman', serif" >traS</text>
<line x1="29.00" y1="729.08" x2="15.66" y2="730.85" stroke="#5aa84a" stroke-width="0.35"/>
<text x="12.31" y="732.49" font-size="3.4" fill="#4aa03a" text-anchor="end" font-weight="normal" font-family="'Liberation Serif', 'Times New Roman', serif" >pilV</text>
<line x1="29.63" y1="733.14" x2="16.43" y2="735.79" stroke="#5aa84a" stroke-width="0.35"/>
<text x="13.11" y="737.66" font-size="3.4" fill="#4aa03a" text-anchor="end" font-weight="normal" font-family="'Liberation Serif', 'Times New Roman', serif" >pilU</text>
<line x1="40.88" y1="759.28" x2="30.15" y2="767.64" stroke="#5aa84a" stroke-width="0.35"/>
<text x="27.45" y="770.95" font-size="3.4" fill="#4aa03a" text-anchor="end" font-weight="normal" font-family="'Liberation Serif', 'Times New Roman', serif" >pilQ</text>
<line x1="44.30" y1="763.56" x2="34.31" y2="772.86" stroke="#5aa84a" stroke-width="0.35"/>
<text x="31.79" y="776.40" font-size="3.4" fill="#4aa03a" text-anchor="end" font-weight="normal" font-family="'Liberation Serif', 'Times New Roman', serif" >pilR</text>
<line x1="47.28" y1="766.75" x2="37.94" y2="776.75" stroke="#5aa84a" stroke-width="0.35"/>
<text x="35.59" y="780.47" font-size="3.4" fill="#4aa03a" text-anchor="end" font-weight="normal" font-family="'Liberation Serif', 'Times New Roman', serif" >pilP</text>
<line x1="53.25" y1="771.99" x2="45.21" y2="783.14" stroke="#5aa84a" stroke-width="0.35"/>
<text x="43.19" y="787.14" font-size="3.4" fill="#4aa03a" text-anchor="end" font-weight="normal" font-family="'Liberation Serif', 'Times New Roman', serif" >pilO</text>
<line x1="57.87" y1="775.23" x2="50.84" y2="787.08" stroke="#5aa84a" stroke-width="0.35"/>
<text x="49.07" y="791.26" font-size="3.4" fill="#4aa03a" text-anchor="end" font-weight="normal" font-family="'Liberation Serif', 'Times New Roman', serif" >pilN</text>
<line x1="64.01" y1="778.64" x2="58.33" y2="791.24" stroke="#5aa84a" stroke-width="0.35"/>
<text x="56.90" y="795.61" font-size="3.4" fill="#4aa03a" text-anchor="end" font-weight="normal" font-family="'Liberation Serif', 'Times New Roman', serif" >pilM</text>
<line x1="69.77" y1="781.06" x2="65.35" y2="794.19" stroke="#5aa84a" stroke-width="0.35"/>
<text x="64.24" y="798.69" font-size="3.4" fill="#4aa03a" text-anchor="middle" font-weight="normal" font-family="'Liberation Serif', 'Times New Roman', serif" >pilL</text>
<line x1="73.88" y1="782.38" x2="70.35" y2="795.79" stroke="#5aa84a" stroke-width="0.35"/>
<text x="69.46" y="800.37" font-size="3.4" fill="#4aa03a" text-anchor="middle" font-weight="normal" font-family="'Liberation Serif', 'Times New Roman', serif" >pilK</text>
<line x1="80.59" y1="783.85" x2="78.53" y2="797.59" stroke="#5aa84a" stroke-width="0.35"/>
<text x="78.02" y="802.25" font-size="3.4" fill="#4aa03a" text-anchor="middle" font-weight="normal" font-family="'Liberation Serif', 'Times New Roman', serif" >pilJ</text>
<line x1="88.60" y1="784.58" x2="88.30" y2="798.48" stroke="#5aa84a" stroke-width="0.35"/>
<text x="88.22" y="803.18" font-size="3.4" fill="#4aa03a" text-anchor="middle" font-weight="normal" font-family="'Liberation Serif', 'Times New Roman', serif" >traC</text>
<line x1="95.04" y1="784.39" x2="96.14" y2="798.24" stroke="#5aa84a" stroke-width="0.35"/>
<text x="96.42" y="802.93" font-size="3.4" fill="#4aa03a" text-anchor="middle" font-weight="normal" font-family="'Liberation Serif', 'Times New Roman', serif" >traA</text>
<line x1="98.56" y1="658.02" x2="100.43" y2="644.25" stroke="#5aa84a" stroke-width="0.35"/>
<text x="100.90" y="641.99" font-size="3.4" fill="#4aa03a" text-anchor="middle" font-weight="normal" font-family="'Liberation Serif', 'Times New Roman', serif" >nikA</text>
<line x1="103.83" y1="659.03" x2="106.86" y2="645.49" stroke="#5aa84a" stroke-width="0.35"/>
<text x="107.62" y="643.28" font-size="3.4" fill="#4aa03a" text-anchor="middle" font-weight="normal" font-family="'Liberation Serif', 'Times New Roman', serif" >nikB</text>
<line x1="110.53" y1="661.05" x2="115.02" y2="647.95" stroke="#5aa84a" stroke-width="0.35"/>
<text x="116.15" y="645.85" font-size="3.4" fill="#4aa03a" text-anchor="middle" font-weight="normal" font-family="'Liberation Serif', 'Times New Roman', serif" >ydfA</text>
<line x1="127.78" y1="670.81" x2="136.04" y2="659.85" stroke="#5aa84a" stroke-width="0.35"/>
<text x="138.12" y="658.28" font-size="3.4" fill="#4aa03a" text-anchor="start" font-weight="normal" font-family="'Liberation Serif', 'Times New Roman', serif" >traE</text>
<line x1="132.49" y1="675.02" x2="141.78" y2="664.97" stroke="#5aa84a" stroke-width="0.35"/>
<text x="144.11" y="663.64" font-size="3.4" fill="#4aa03a" text-anchor="start" font-weight="normal" font-family="'Liberation Serif', 'Times New Roman', serif" >sogL</text>
<line x1="134.61" y1="677.22" x2="144.36" y2="667.65" stroke="#5aa84a" stroke-width="0.35"/>
<text x="146.82" y="666.44" font-size="3.4" fill="#4aa03a" text-anchor="start" font-weight="normal" font-family="'Liberation Serif', 'Times New Roman', serif" >yagA</text>
<line x1="150.09" y1="707.45" x2="163.22" y2="704.49" stroke="#5aa84a" stroke-width="0.35"/>
<text x="166.53" y="704.94" font-size="3.4" fill="#4aa03a" text-anchor="start" font-weight="normal" font-family="'Liberation Serif', 'Times New Roman', serif" >psiB</text>
<path d="M120.70 775.99 L126 783" stroke="#c0392b" stroke-width="0.35" fill="none"/>
<path d="M115.46 778.78 L121 786.5" stroke="#d21ed2" stroke-width="0.35" fill="none"/>
<text x="127.00" y="786.20" font-size="3.4" fill="#d0302a" text-anchor="start" font-weight="normal" font-family="'Liberation Serif', 'Times New Roman', serif" >CTX-M-55</text>
<text x="121.00" y="789.60" font-size="3.4" fill="#d21ed2" text-anchor="start" font-weight="normal" font-family="'Liberation Serif', 'Times New Roman', serif" >IS1380 family transposase ISEcp1</text>
<rect x="158.2" y="737.90" width="3.7" height="3.7" fill="#000"/>
<text x="162.90" y="741.00" font-size="3.5" fill="#333" text-anchor="start" font-weight="normal" font-family="'Liberation Serif', 'Times New Roman', serif" >GC Content</text>
<rect x="158.2" y="743.70" width="3.7" height="3.7" fill="#2e9a2e"/>
<text x="162.90" y="746.80" font-size="3.5" fill="#333" text-anchor="start" font-weight="normal" font-family="'Liberation Serif', 'Times New Roman', serif" >transfer</text>
<rect x="158.2" y="749.50" width="3.7" height="3.7" fill="#3b5bdb"/>
<text x="162.90" y="752.60" font-size="3.5" fill="#333" text-anchor="start" font-weight="normal" font-family="'Liberation Serif', 'Times New Roman', serif" >integration/excision</text>
<rect x="158.2" y="755.30" width="3.7" height="3.7" fill="#f04a2a"/>
<text x="162.90" y="758.40" font-size="3.5" fill="#333" text-anchor="start" font-weight="normal" font-family="'Liberation Serif', 'Times New Roman', serif" >replication/recombination/repair</text>
<rect x="158.2" y="761.10" width="3.7" height="3.7" fill="#f8b060"/>
<text x="162.90" y="764.20" font-size="3.5" fill="#333" text-anchor="start" font-weight="normal" font-family="'Liberation Serif', 'Times New Roman', serif" >stability/transfer/defense</text>
<rect x="158.2" y="766.90" width="3.7" height="3.7" fill="#1a9a1a"/>
<text x="162.90" y="770.00" font-size="3.5" fill="#333" text-anchor="start" font-weight="normal" font-family="'Liberation Serif', 'Times New Roman', serif" >GC Skew+</text>
<rect x="158.2" y="772.70" width="3.7" height="3.7" fill="#9a1a9a"/>
<text x="162.90" y="775.80" font-size="3.5" fill="#333" text-anchor="start" font-weight="normal" font-family="'Liberation Serif', 'Times New Roman', serif" >GC Skew-</text>
</svg></body></html>
